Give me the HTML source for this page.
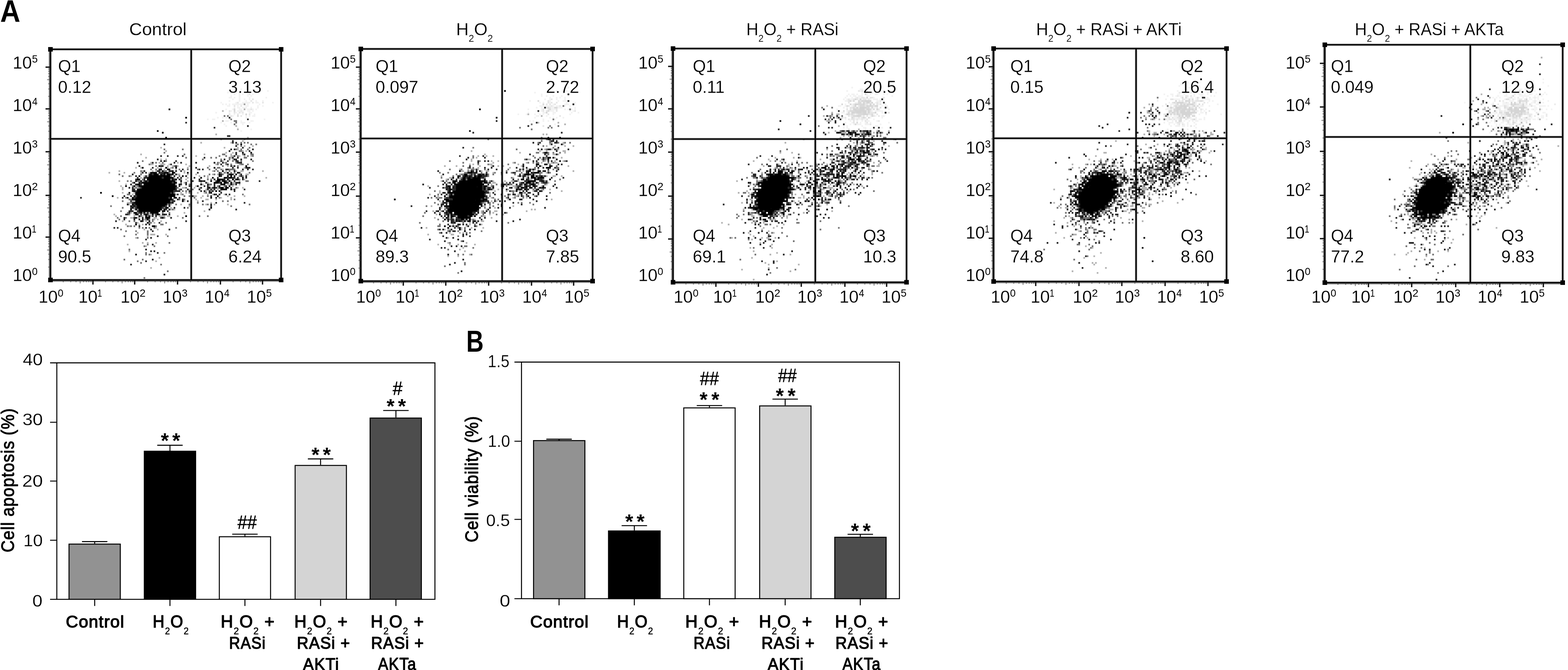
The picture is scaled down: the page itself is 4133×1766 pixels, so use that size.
<!DOCTYPE html>
<html><head><meta charset="utf-8"><title>Figure</title>
<style>
html,body{margin:0;padding:0;background:#fff;}
body{width:4133px;height:1766px;overflow:hidden;}
svg{display:block;font-family:"Liberation Sans",sans-serif;}
text{fill:#000;}
</style></head>
<body>
<svg width="4133" height="1766" viewBox="0 0 4133 1766">
<defs><filter id="bl" x="-5%" y="-5%" width="110%" height="110%"><feGaussianBlur stdDeviation="0.6"/></filter></defs>
<rect width="4133" height="1766" fill="#fff"/>
<g id="plot1">
<g filter="url(#bl)">
<path d="M633.6 235.4h4.4M704.0 239.8h4.4M598.4 244.2h4.4M620.4 244.2h4.4M629.2 244.2h4.4M616.0 248.6h4.4M629.2 248.6h4.4M638.0 248.6h4.4M651.2 248.6h4.4M664.4 248.6h4.4M607.2 253.0h4.4M629.2 253.0h4.4M651.2 253.0h4.4M660.0 253.0h4.4M602.8 257.4h4.4M607.2 257.4h4.4M616.0 257.4h4.4M629.2 257.4h4.4M655.6 257.4h4.4M699.6 257.4h4.4M611.6 261.8h4.4M629.2 261.8h4.4M642.4 261.8h4.4M655.6 261.8h4.4M602.8 266.2h4.4M629.2 266.2h4.4M646.8 266.2h4.4M673.2 266.2h4.4M690.8 266.2h4.4M580.8 270.6h4.4M620.4 270.6h4.4M638.0 270.6h4.4M642.4 270.6h4.4M646.8 270.6h4.4M651.2 270.6h4.4M655.6 270.6h4.4M673.2 270.6h4.4M677.6 270.6h4.4M717.2 270.6h4.4M585.2 275.0h4.4M594.0 275.0h4.4M602.8 275.0h4.4M611.6 275.0h4.4M616.0 275.0h4.4M620.4 275.0h4.4M624.8 275.0h4.4M629.2 275.0h4.4M633.6 275.0h4.4M638.0 275.0h4.4M651.2 275.0h4.4M682.0 275.0h4.4M598.4 279.4h4.4M602.8 279.4h4.4M624.8 279.4h4.4M646.8 279.4h4.4M651.2 279.4h4.4M677.6 279.4h4.4M690.8 279.4h4.4M616.0 283.8h4.4M624.8 283.8h4.4M629.2 283.8h4.4M638.0 283.8h4.4M642.4 283.8h4.4M646.8 283.8h4.4M660.0 283.8h4.4M677.6 283.8h4.4M594.0 288.2h4.4M611.6 288.2h4.4M629.2 288.2h4.4M633.6 288.2h4.4M651.2 288.2h4.4M655.6 288.2h4.4M664.4 288.2h4.4M673.2 288.2h4.4M607.2 292.6h4.4M624.8 292.6h4.4M629.2 292.6h4.4M638.0 292.6h4.4M651.2 292.6h4.4M655.6 292.6h4.4M664.4 292.6h4.4M567.6 297.0h4.4M602.8 297.0h4.4M620.4 297.0h4.4M633.6 297.0h4.4M655.6 297.0h4.4M660.0 297.0h4.4M616.0 301.4h4.4M638.0 301.4h4.4M668.8 301.4h4.4M611.6 305.8h4.4M646.8 305.8h4.4M655.6 305.8h4.4M664.4 305.8h4.4M668.8 305.8h4.4M572.0 310.2h4.4M585.2 310.2h4.4M594.0 310.2h4.4M646.8 310.2h4.4M545.6 314.6h4.4M558.8 314.6h4.4M563.2 314.6h4.4M695.2 314.6h4.4M594.0 319.0h4.4M598.4 319.0h4.4M633.6 319.0h4.4M660.0 319.0h4.4M664.4 319.0h4.4M580.8 323.4h4.4M607.2 323.4h4.4M633.6 323.4h4.4M638.0 323.4h4.4M642.4 323.4h4.4M655.6 323.4h4.4M589.6 327.8h4.4M638.0 327.8h4.4M594.0 332.2h4.4M624.8 336.6h4.4M660.0 341.0h4.4M633.6 345.4h4.4" stroke="#000" stroke-opacity="0.05" stroke-width="4.4" fill="none"/>
<path d="M655.6 248.6h4.4M664.4 261.8h4.4M660.0 266.2h4.4M624.8 270.6h4.4M664.4 270.6h4.4M690.8 270.6h4.4M642.4 275.0h4.4M616.0 279.4h4.4M633.6 279.4h4.4M660.0 288.2h4.4M602.8 292.6h4.4M633.6 292.6h4.4M616.0 297.0h4.4M629.2 297.0h4.4M638.0 297.0h4.4M602.8 301.4h4.4M624.8 301.4h4.4M655.6 301.4h4.4M607.2 305.8h4.4M633.6 305.8h4.4" stroke="#000" stroke-opacity="0.1" stroke-width="4.4" fill="none"/>
<path d="M616.0 288.2h4.4M616.0 292.6h4.4M624.8 305.8h4.4" stroke="#000" stroke-opacity="0.15" stroke-width="4.4" fill="none"/>
<path d="M646.8 301.4h4.4" stroke="#000" stroke-opacity="0.17" stroke-width="4.4" fill="none"/>
<path d="M642.4 275.0h4.4M642.4 288.2h4.4M585.2 292.6h4.4M585.2 319.0h4.4M620.4 332.2h4.4M624.8 341.0h4.4M567.6 354.2h4.4M651.2 363.0h4.4M580.8 367.4h4.4M642.4 367.4h4.4M638.0 371.8h4.4M528.0 376.2h4.4M607.2 376.2h4.4M620.4 380.6h4.4M642.4 385.0h4.4M664.4 385.0h4.4M422.4 389.4h4.4M589.6 389.4h4.4M624.8 389.4h4.4M624.8 393.8h4.4M435.6 398.2h4.4M638.0 398.2h4.4M646.8 398.2h4.4M594.0 402.6h4.4M611.6 402.6h4.4M369.6 407.0h4.4M536.8 407.0h4.4M607.2 407.0h4.4M514.8 411.4h4.4M607.2 411.4h4.4M611.6 411.4h4.4M629.2 411.4h4.4M642.4 411.4h4.4M660.0 411.4h4.4M382.8 415.8h4.4M607.2 415.8h4.4M422.4 420.2h4.4M435.6 420.2h4.4M611.6 420.2h4.4M585.2 424.6h4.4M396.0 429.0h4.4M418.0 429.0h4.4M466.4 429.0h4.4M576.4 429.0h4.4M589.6 429.0h4.4M396.0 433.4h4.4M400.4 433.4h4.4M422.4 433.4h4.4M426.8 433.4h4.4M431.2 433.4h4.4M444.4 433.4h4.4M488.4 433.4h4.4M567.6 433.4h4.4M629.2 433.4h4.4M440.0 437.8h4.4M453.2 437.8h4.4M466.4 437.8h4.4M497.2 437.8h4.4M550.0 437.8h4.4M598.4 437.8h4.4M611.6 437.8h4.4M356.4 442.2h4.4M369.6 442.2h4.4M413.6 442.2h4.4M422.4 442.2h4.4M440.0 442.2h4.4M448.8 442.2h4.4M492.8 442.2h4.4M642.4 442.2h4.4M431.2 446.6h4.4M462.0 446.6h4.4M585.2 446.6h4.4M312.4 451.0h4.4M374.0 451.0h4.4M400.4 451.0h4.4M409.2 451.0h4.4M422.4 451.0h4.4M484.0 451.0h4.4M558.8 451.0h4.4M594.0 451.0h4.4M620.4 451.0h4.4M633.6 451.0h4.4M638.0 451.0h4.4M690.8 451.0h4.4M286.0 455.4h4.4M325.6 455.4h4.4M369.6 455.4h4.4M391.6 455.4h4.4M484.0 455.4h4.4M594.0 455.4h4.4M418.0 459.8h4.4M466.4 459.8h4.4M470.8 459.8h4.4M492.8 459.8h4.4M514.8 459.8h4.4M558.8 459.8h4.4M572.0 459.8h4.4M629.2 459.8h4.4M646.8 459.8h4.4M651.2 459.8h4.4M343.2 464.2h4.4M378.4 464.2h4.4M387.2 464.2h4.4M523.6 464.2h4.4M545.6 464.2h4.4M369.6 468.6h4.4M457.6 468.6h4.4M492.8 468.6h4.4M545.6 468.6h4.4M699.6 468.6h4.4M488.4 473.0h4.4M602.8 473.0h4.4M616.0 473.0h4.4M642.4 473.0h4.4M312.4 477.4h4.4M374.0 477.4h4.4M462.0 477.4h4.4M492.8 477.4h4.4M580.8 477.4h4.4M598.4 477.4h4.4M607.2 477.4h4.4M629.2 477.4h4.4M484.0 481.8h4.4M528.0 481.8h4.4M545.6 481.8h4.4M611.6 481.8h4.4M616.0 481.8h4.4M330.0 486.2h4.4M462.0 486.2h4.4M532.4 486.2h4.4M598.4 486.2h4.4M602.8 486.2h4.4M616.0 486.2h4.4M629.2 486.2h4.4M316.8 490.6h4.4M356.4 490.6h4.4M501.6 490.6h4.4M514.8 490.6h4.4M550.0 490.6h4.4M611.6 490.6h4.4M321.2 495.0h4.4M352.0 495.0h4.4M360.8 495.0h4.4M479.6 495.0h4.4M484.0 495.0h4.4M510.4 495.0h4.4M523.6 495.0h4.4M554.4 495.0h4.4M572.0 495.0h4.4M589.6 495.0h4.4M624.8 495.0h4.4M638.0 495.0h4.4M321.2 499.4h4.4M497.2 499.4h4.4M541.2 499.4h4.4M550.0 499.4h4.4M558.8 499.4h4.4M572.0 499.4h4.4M611.6 499.4h4.4M541.2 503.8h4.4M580.8 503.8h4.4M321.2 508.2h4.4M352.0 508.2h4.4M475.2 508.2h4.4M488.4 508.2h4.4M519.2 508.2h4.4M536.8 508.2h4.4M347.6 512.6h4.4M462.0 512.6h4.4M475.2 512.6h4.4M545.6 512.6h4.4M558.8 512.6h4.4M589.6 512.6h4.4M510.4 517.0h4.4M514.8 517.0h4.4M532.4 517.0h4.4M598.4 517.0h4.4M616.0 517.0h4.4M642.4 517.0h4.4M308.0 521.4h4.4M413.6 521.4h4.4M501.6 521.4h4.4M528.0 521.4h4.4M580.8 521.4h4.4M607.2 521.4h4.4M400.4 525.8h4.4M514.8 525.8h4.4M541.2 525.8h4.4M545.6 525.8h4.4M567.6 525.8h4.4M607.2 525.8h4.4M347.6 530.2h4.4M352.0 530.2h4.4M484.0 530.2h4.4M519.2 530.2h4.4M334.4 534.6h4.4M338.8 534.6h4.4M501.6 534.6h4.4M554.4 534.6h4.4M338.8 539.0h4.4M448.8 539.0h4.4M475.2 539.0h4.4M541.2 539.0h4.4M563.2 539.0h4.4M598.4 539.0h4.4M497.2 543.4h4.4M448.8 547.8h4.4M352.0 552.2h4.4M426.8 552.2h4.4M448.8 552.2h4.4M457.6 552.2h4.4M536.8 556.6h4.4M343.2 561.0h4.4M382.8 561.0h4.4M391.6 561.0h4.4M484.0 561.0h4.4M299.2 565.4h4.4M352.0 565.4h4.4M391.6 565.4h4.4M396.0 565.4h4.4M404.8 565.4h4.4M303.6 569.8h4.4M352.0 569.8h4.4M374.0 569.8h4.4M396.0 569.8h4.4M418.0 569.8h4.4M422.4 569.8h4.4M426.8 569.8h4.4M431.2 569.8h4.4M440.0 569.8h4.4M444.4 569.8h4.4M466.4 569.8h4.4M343.2 574.2h4.4M347.6 574.2h4.4M360.8 574.2h4.4M365.2 574.2h4.4M404.8 574.2h4.4M409.2 574.2h4.4M378.4 578.6h4.4M404.8 578.6h4.4M413.6 578.6h4.4M321.2 583.0h4.4M382.8 583.0h4.4M422.4 583.0h4.4M360.8 587.4h4.4M404.8 587.4h4.4M330.0 591.8h4.4M365.2 591.8h4.4M374.0 591.8h4.4M338.8 596.2h4.4M409.2 600.6h4.4M378.4 605.0h4.4M413.6 605.0h4.4M360.8 613.8h4.4M396.0 618.2h4.4M400.4 618.2h4.4M404.8 618.2h4.4M435.6 618.2h4.4M387.2 622.6h4.4M356.4 627.0h4.4M374.0 640.2h4.4M387.2 640.2h4.4M409.2 640.2h4.4M334.4 644.6h4.4M382.8 649.0h4.4M338.8 662.2h4.4M396.0 671.0h4.4M418.0 679.8h4.4M409.2 688.6h4.4M396.0 706.2h4.4" stroke="#000" stroke-opacity="0.3" stroke-width="4.4" fill="none"/>
<path d="M589.6 305.8h4.4M598.4 305.8h4.4M607.2 314.6h4.4M616.0 319.0h4.4M620.4 319.0h4.4M620.4 323.4h4.4M616.0 327.8h4.4M633.6 376.2h4.4M642.4 376.2h4.4M651.2 376.2h4.4M624.8 380.6h4.4M660.0 380.6h4.4M673.2 380.6h4.4M633.6 385.0h4.4M655.6 389.4h4.4M431.2 393.8h4.4M479.6 393.8h4.4M620.4 393.8h4.4M633.6 393.8h4.4M651.2 393.8h4.4M629.2 398.2h4.4M633.6 398.2h4.4M431.2 402.6h4.4M484.0 407.0h4.4M585.2 407.0h4.4M589.6 407.0h4.4M638.0 407.0h4.4M660.0 407.0h4.4M664.4 407.0h4.4M576.4 411.4h4.4M594.0 411.4h4.4M624.8 411.4h4.4M651.2 411.4h4.4M664.4 411.4h4.4M488.4 415.8h4.4M554.4 415.8h4.4M567.6 415.8h4.4M602.8 415.8h4.4M642.4 415.8h4.4M646.8 415.8h4.4M532.4 420.2h4.4M580.8 420.2h4.4M602.8 420.2h4.4M374.0 424.6h4.4M435.6 424.6h4.4M611.6 424.6h4.4M633.6 424.6h4.4M664.4 424.6h4.4M409.2 429.0h4.4M426.8 429.0h4.4M572.0 429.0h4.4M594.0 429.0h4.4M620.4 429.0h4.4M391.6 433.4h4.4M572.0 433.4h4.4M594.0 433.4h4.4M607.2 433.4h4.4M633.6 433.4h4.4M638.0 433.4h4.4M651.2 433.4h4.4M409.2 437.8h4.4M457.6 437.8h4.4M585.2 437.8h4.4M624.8 437.8h4.4M453.2 442.2h4.4M545.6 442.2h4.4M572.0 442.2h4.4M576.4 442.2h4.4M396.0 446.6h4.4M409.2 446.6h4.4M470.8 446.6h4.4M492.8 446.6h4.4M519.2 446.6h4.4M550.0 446.6h4.4M567.6 446.6h4.4M580.8 446.6h4.4M602.8 446.6h4.4M607.2 446.6h4.4M611.6 446.6h4.4M616.0 446.6h4.4M369.6 451.0h4.4M431.2 451.0h4.4M435.6 451.0h4.4M563.2 451.0h4.4M572.0 451.0h4.4M602.8 451.0h4.4M352.0 455.4h4.4M444.4 455.4h4.4M580.8 455.4h4.4M589.6 455.4h4.4M607.2 455.4h4.4M616.0 455.4h4.4M655.6 455.4h4.4M312.4 459.8h4.4M369.6 459.8h4.4M435.6 459.8h4.4M550.0 459.8h4.4M563.2 459.8h4.4M585.2 459.8h4.4M598.4 459.8h4.4M321.2 464.2h4.4M338.8 464.2h4.4M448.8 464.2h4.4M470.8 464.2h4.4M536.8 464.2h4.4M629.2 464.2h4.4M638.0 464.2h4.4M374.0 473.0h4.4M448.8 473.0h4.4M475.2 473.0h4.4M501.6 473.0h4.4M545.6 473.0h4.4M554.4 473.0h4.4M629.2 473.0h4.4M334.4 477.4h4.4M343.2 477.4h4.4M360.8 477.4h4.4M365.2 477.4h4.4M646.8 477.4h4.4M651.2 477.4h4.4M347.6 481.8h4.4M413.6 481.8h4.4M475.2 481.8h4.4M497.2 486.2h4.4M501.6 486.2h4.4M550.0 486.2h4.4M554.4 486.2h4.4M611.6 486.2h4.4M347.6 490.6h4.4M360.8 490.6h4.4M572.0 490.6h4.4M589.6 490.6h4.4M356.4 495.0h4.4M365.2 495.0h4.4M466.4 495.0h4.4M488.4 495.0h4.4M620.4 495.0h4.4M470.8 499.4h4.4M506.0 499.4h4.4M479.6 503.8h4.4M488.4 503.8h4.4M501.6 503.8h4.4M554.4 503.8h4.4M457.6 508.2h4.4M497.2 508.2h4.4M541.2 508.2h4.4M334.4 512.6h4.4M338.8 512.6h4.4M479.6 512.6h4.4M638.0 512.6h4.4M484.0 517.0h4.4M497.2 517.0h4.4M545.6 517.0h4.4M330.0 521.4h4.4M426.8 521.4h4.4M510.4 521.4h4.4M576.4 521.4h4.4M338.8 525.8h4.4M343.2 525.8h4.4M470.8 525.8h4.4M484.0 525.8h4.4M616.0 525.8h4.4M321.2 530.2h4.4M448.8 530.2h4.4M585.2 530.2h4.4M598.4 530.2h4.4M343.2 534.6h4.4M519.2 534.6h4.4M440.0 539.0h4.4M462.0 539.0h4.4M497.2 539.0h4.4M532.4 539.0h4.4M545.6 539.0h4.4M655.6 539.0h4.4M290.4 543.4h4.4M607.2 543.4h4.4M321.2 547.8h4.4M352.0 547.8h4.4M431.2 547.8h4.4M492.8 547.8h4.4M360.8 552.2h4.4M453.2 552.2h4.4M316.8 556.6h4.4M334.4 561.0h4.4M360.8 561.0h4.4M374.0 561.0h4.4M426.8 561.0h4.4M444.4 561.0h4.4M338.8 565.4h4.4M316.8 569.8h4.4M369.6 569.8h4.4M387.2 569.8h4.4M523.6 569.8h4.4M545.6 569.8h4.4M308.0 574.2h4.4M330.0 574.2h4.4M431.2 574.2h4.4M479.6 574.2h4.4M312.4 578.6h4.4M382.8 578.6h4.4M391.6 578.6h4.4M400.4 578.6h4.4M338.8 583.0h4.4M352.0 583.0h4.4M400.4 583.0h4.4M391.6 587.4h4.4M396.0 587.4h4.4M435.6 587.4h4.4M422.4 591.8h4.4M426.8 591.8h4.4M334.4 596.2h4.4M343.2 596.2h4.4M352.0 596.2h4.4M409.2 596.2h4.4M365.2 600.6h4.4M374.0 600.6h4.4M391.6 600.6h4.4M404.8 600.6h4.4M462.0 600.6h4.4M316.8 605.0h4.4M330.0 609.4h4.4M356.4 609.4h4.4M387.2 609.4h4.4M387.2 613.8h4.4M356.4 618.2h4.4M387.2 618.2h4.4M325.6 622.6h4.4M440.0 622.6h4.4M360.8 627.0h4.4M387.2 627.0h4.4M444.4 640.2h4.4M387.2 644.6h4.4M378.4 649.0h4.4M404.8 649.0h4.4M338.8 657.8h4.4M382.8 666.6h4.4M431.2 666.6h4.4M382.8 671.0h4.4M391.6 671.0h4.4M325.6 684.2h4.4M374.0 684.2h4.4M360.8 688.6h4.4M369.6 693.0h4.4M422.4 697.4h4.4M440.0 715.0h4.4M378.4 732.6h4.4" stroke="#000" stroke-opacity="0.55" stroke-width="4.4" fill="none"/>
<path d="M602.8 310.2h4.4M651.2 314.6h4.4M488.4 323.4h4.4M651.2 332.2h4.4M563.2 336.6h4.4M598.4 358.6h4.4M602.8 358.6h4.4M611.6 371.8h4.4M611.6 376.2h4.4M620.4 376.2h4.4M431.2 380.6h4.4M620.4 385.0h4.4M638.0 389.4h4.4M607.2 393.8h4.4M616.0 393.8h4.4M664.4 393.8h4.4M602.8 398.2h4.4M655.6 398.2h4.4M620.4 402.6h4.4M620.4 407.0h4.4M642.4 407.0h4.4M422.4 411.4h4.4M440.0 411.4h4.4M466.4 411.4h4.4M479.6 411.4h4.4M616.0 411.4h4.4M536.8 415.8h4.4M611.6 415.8h4.4M624.8 415.8h4.4M413.6 420.2h4.4M589.6 420.2h4.4M620.4 420.2h4.4M633.6 420.2h4.4M660.0 420.2h4.4M422.4 424.6h4.4M462.0 424.6h4.4M580.8 424.6h4.4M598.4 424.6h4.4M620.4 424.6h4.4M624.8 424.6h4.4M360.8 429.0h4.4M400.4 429.0h4.4M457.6 429.0h4.4M475.2 429.0h4.4M514.8 429.0h4.4M585.2 429.0h4.4M624.8 429.0h4.4M629.2 429.0h4.4M633.6 429.0h4.4M448.8 433.4h4.4M580.8 433.4h4.4M598.4 433.4h4.4M365.2 437.8h4.4M422.4 437.8h4.4M426.8 437.8h4.4M462.0 437.8h4.4M607.2 437.8h4.4M616.0 437.8h4.4M400.4 442.2h4.4M514.8 442.2h4.4M611.6 442.2h4.4M624.8 442.2h4.4M646.8 442.2h4.4M651.2 442.2h4.4M655.6 442.2h4.4M479.6 446.6h4.4M523.6 446.6h4.4M532.4 446.6h4.4M594.0 446.6h4.4M598.4 446.6h4.4M638.0 446.6h4.4M651.2 446.6h4.4M664.4 446.6h4.4M378.4 451.0h4.4M413.6 451.0h4.4M418.0 451.0h4.4M444.4 451.0h4.4M448.8 451.0h4.4M462.0 451.0h4.4M475.2 451.0h4.4M374.0 455.4h4.4M382.8 455.4h4.4M422.4 455.4h4.4M426.8 455.4h4.4M519.2 455.4h4.4M576.4 455.4h4.4M629.2 455.4h4.4M347.6 459.8h4.4M391.6 459.8h4.4M400.4 459.8h4.4M426.8 459.8h4.4M448.8 459.8h4.4M462.0 459.8h4.4M580.8 459.8h4.4M611.6 459.8h4.4M633.6 459.8h4.4M356.4 464.2h4.4M382.8 464.2h4.4M457.6 464.2h4.4M488.4 464.2h4.4M580.8 464.2h4.4M633.6 464.2h4.4M646.8 464.2h4.4M360.8 468.6h4.4M378.4 468.6h4.4M382.8 468.6h4.4M426.8 468.6h4.4M466.4 468.6h4.4M475.2 468.6h4.4M510.4 468.6h4.4M572.0 468.6h4.4M598.4 468.6h4.4M611.6 468.6h4.4M616.0 468.6h4.4M624.8 468.6h4.4M646.8 468.6h4.4M356.4 473.0h4.4M378.4 473.0h4.4M457.6 473.0h4.4M470.8 473.0h4.4M589.6 473.0h4.4M638.0 473.0h4.4M378.4 477.4h4.4M387.2 477.4h4.4M506.0 477.4h4.4M523.6 477.4h4.4M532.4 477.4h4.4M567.6 477.4h4.4M594.0 477.4h4.4M616.0 477.4h4.4M682.0 477.4h4.4M369.6 481.8h4.4M404.8 481.8h4.4M453.2 481.8h4.4M488.4 481.8h4.4M541.2 481.8h4.4M576.4 481.8h4.4M598.4 481.8h4.4M620.4 481.8h4.4M624.8 481.8h4.4M343.2 486.2h4.4M369.6 486.2h4.4M400.4 486.2h4.4M475.2 486.2h4.4M488.4 486.2h4.4M545.6 486.2h4.4M563.2 486.2h4.4M620.4 486.2h4.4M470.8 490.6h4.4M497.2 490.6h4.4M536.8 490.6h4.4M545.6 490.6h4.4M563.2 490.6h4.4M594.0 490.6h4.4M338.8 495.0h4.4M347.6 495.0h4.4M369.6 495.0h4.4M462.0 495.0h4.4M528.0 495.0h4.4M545.6 495.0h4.4M558.8 495.0h4.4M567.6 495.0h4.4M576.4 495.0h4.4M607.2 495.0h4.4M347.6 499.4h4.4M352.0 499.4h4.4M462.0 499.4h4.4M475.2 499.4h4.4M492.8 499.4h4.4M545.6 499.4h4.4M554.4 499.4h4.4M563.2 499.4h4.4M642.4 499.4h4.4M347.6 503.8h4.4M356.4 503.8h4.4M457.6 503.8h4.4M462.0 503.8h4.4M466.4 503.8h4.4M470.8 503.8h4.4M497.2 503.8h4.4M528.0 503.8h4.4M536.8 503.8h4.4M550.0 503.8h4.4M558.8 503.8h4.4M616.0 503.8h4.4M448.8 508.2h4.4M550.0 508.2h4.4M580.8 508.2h4.4M466.4 512.6h4.4M567.6 512.6h4.4M594.0 512.6h4.4M602.8 512.6h4.4M325.6 517.0h4.4M343.2 517.0h4.4M356.4 517.0h4.4M506.0 517.0h4.4M554.4 517.0h4.4M211.2 521.4h4.4M321.2 521.4h4.4M352.0 521.4h4.4M444.4 521.4h4.4M470.8 521.4h4.4M567.6 521.4h4.4M453.2 525.8h4.4M466.4 525.8h4.4M479.6 525.8h4.4M343.2 530.2h4.4M453.2 530.2h4.4M457.6 530.2h4.4M492.8 530.2h4.4M532.4 530.2h4.4M347.6 534.6h4.4M448.8 534.6h4.4M567.6 534.6h4.4M642.4 534.6h4.4M352.0 539.0h4.4M444.4 539.0h4.4M554.4 539.0h4.4M347.6 543.4h4.4M356.4 543.4h4.4M435.6 543.4h4.4M554.4 543.4h4.4M343.2 547.8h4.4M356.4 547.8h4.4M426.8 547.8h4.4M457.6 547.8h4.4M484.0 547.8h4.4M435.6 552.2h4.4M620.4 552.2h4.4M338.8 556.6h4.4M343.2 556.6h4.4M347.6 556.6h4.4M360.8 556.6h4.4M440.0 556.6h4.4M338.8 561.0h4.4M365.2 561.0h4.4M387.2 561.0h4.4M330.0 565.4h4.4M334.4 565.4h4.4M369.6 565.4h4.4M378.4 565.4h4.4M387.2 565.4h4.4M409.2 565.4h4.4M418.0 565.4h4.4M426.8 565.4h4.4M435.6 565.4h4.4M444.4 565.4h4.4M400.4 569.8h4.4M409.2 569.8h4.4M325.6 574.2h4.4M352.0 574.2h4.4M374.0 574.2h4.4M422.4 574.2h4.4M448.8 574.2h4.4M325.6 578.6h4.4M352.0 578.6h4.4M365.2 578.6h4.4M374.0 578.6h4.4M303.6 583.0h4.4M374.0 583.0h4.4M488.4 583.0h4.4M356.4 587.4h4.4M418.0 587.4h4.4M382.8 591.8h4.4M391.6 591.8h4.4M365.2 596.2h4.4M299.2 600.6h4.4M308.0 600.6h4.4M382.8 600.6h4.4M396.0 605.0h4.4M444.4 605.0h4.4M400.4 609.4h4.4M413.6 622.6h4.4M396.0 627.0h4.4M382.8 631.4h4.4M400.4 644.6h4.4M382.8 657.8h4.4M396.0 662.2h4.4M404.8 662.2h4.4M413.6 666.6h4.4M356.4 671.0h4.4M400.4 684.2h4.4M382.8 688.6h4.4M343.2 697.4h4.4M431.2 723.8h4.4" stroke="#000" stroke-opacity="0.85" stroke-width="4.4" fill="none"/>
<path d="M444.4 288.2h4.4M488.4 310.2h4.4M413.6 345.4h4.4M426.8 349.8h4.4M435.6 363.0h4.4M633.6 380.6h4.4M638.0 402.6h4.4M660.0 402.6h4.4M616.0 420.2h4.4M431.2 424.6h4.4M563.2 429.0h4.4M418.0 437.8h4.4M646.8 437.8h4.4M374.0 442.2h4.4M435.6 442.2h4.4M462.0 442.2h4.4M563.2 442.2h4.4M418.0 446.6h4.4M422.4 446.6h4.4M440.0 446.6h4.4M444.4 446.6h4.4M426.8 451.0h4.4M453.2 451.0h4.4M585.2 451.0h4.4M616.0 451.0h4.4M396.0 455.4h4.4M400.4 455.4h4.4M404.8 455.4h4.4M409.2 455.4h4.4M418.0 455.4h4.4M431.2 455.4h4.4M435.6 455.4h4.4M440.0 455.4h4.4M453.2 455.4h4.4M457.6 455.4h4.4M492.8 455.4h4.4M598.4 455.4h4.4M624.8 455.4h4.4M396.0 459.8h4.4M404.8 459.8h4.4M409.2 459.8h4.4M413.6 459.8h4.4M422.4 459.8h4.4M431.2 459.8h4.4M440.0 459.8h4.4M444.4 459.8h4.4M453.2 459.8h4.4M576.4 459.8h4.4M602.8 459.8h4.4M607.2 459.8h4.4M620.4 459.8h4.4M365.2 464.2h4.4M391.6 464.2h4.4M396.0 464.2h4.4M400.4 464.2h4.4M404.8 464.2h4.4M409.2 464.2h4.4M413.6 464.2h4.4M418.0 464.2h4.4M422.4 464.2h4.4M426.8 464.2h4.4M431.2 464.2h4.4M435.6 464.2h4.4M440.0 464.2h4.4M444.4 464.2h4.4M479.6 464.2h4.4M576.4 464.2h4.4M598.4 464.2h4.4M607.2 464.2h4.4M616.0 464.2h4.4M387.2 468.6h4.4M391.6 468.6h4.4M396.0 468.6h4.4M400.4 468.6h4.4M404.8 468.6h4.4M409.2 468.6h4.4M413.6 468.6h4.4M418.0 468.6h4.4M422.4 468.6h4.4M431.2 468.6h4.4M435.6 468.6h4.4M440.0 468.6h4.4M444.4 468.6h4.4M448.8 468.6h4.4M453.2 468.6h4.4M528.0 468.6h4.4M558.8 468.6h4.4M589.6 468.6h4.4M594.0 468.6h4.4M602.8 468.6h4.4M607.2 468.6h4.4M638.0 468.6h4.4M360.8 473.0h4.4M365.2 473.0h4.4M387.2 473.0h4.4M391.6 473.0h4.4M396.0 473.0h4.4M400.4 473.0h4.4M404.8 473.0h4.4M409.2 473.0h4.4M413.6 473.0h4.4M418.0 473.0h4.4M422.4 473.0h4.4M426.8 473.0h4.4M431.2 473.0h4.4M435.6 473.0h4.4M440.0 473.0h4.4M444.4 473.0h4.4M453.2 473.0h4.4M462.0 473.0h4.4M523.6 473.0h4.4M563.2 473.0h4.4M572.0 473.0h4.4M576.4 473.0h4.4M580.8 473.0h4.4M585.2 473.0h4.4M598.4 473.0h4.4M611.6 473.0h4.4M620.4 473.0h4.4M624.8 473.0h4.4M356.4 477.4h4.4M369.6 477.4h4.4M382.8 477.4h4.4M391.6 477.4h4.4M396.0 477.4h4.4M400.4 477.4h4.4M404.8 477.4h4.4M409.2 477.4h4.4M413.6 477.4h4.4M418.0 477.4h4.4M422.4 477.4h4.4M426.8 477.4h4.4M431.2 477.4h4.4M435.6 477.4h4.4M440.0 477.4h4.4M444.4 477.4h4.4M448.8 477.4h4.4M453.2 477.4h4.4M457.6 477.4h4.4M475.2 477.4h4.4M528.0 477.4h4.4M536.8 477.4h4.4M554.4 477.4h4.4M572.0 477.4h4.4M576.4 477.4h4.4M585.2 477.4h4.4M589.6 477.4h4.4M602.8 477.4h4.4M352.0 481.8h4.4M365.2 481.8h4.4M374.0 481.8h4.4M378.4 481.8h4.4M382.8 481.8h4.4M387.2 481.8h4.4M391.6 481.8h4.4M396.0 481.8h4.4M400.4 481.8h4.4M409.2 481.8h4.4M422.4 481.8h4.4M426.8 481.8h4.4M431.2 481.8h4.4M435.6 481.8h4.4M440.0 481.8h4.4M444.4 481.8h4.4M448.8 481.8h4.4M457.6 481.8h4.4M462.0 481.8h4.4M563.2 481.8h4.4M567.6 481.8h4.4M572.0 481.8h4.4M580.8 481.8h4.4M589.6 481.8h4.4M594.0 481.8h4.4M607.2 481.8h4.4M629.2 481.8h4.4M356.4 486.2h4.4M360.8 486.2h4.4M365.2 486.2h4.4M378.4 486.2h4.4M382.8 486.2h4.4M387.2 486.2h4.4M391.6 486.2h4.4M396.0 486.2h4.4M431.2 486.2h4.4M435.6 486.2h4.4M440.0 486.2h4.4M444.4 486.2h4.4M448.8 486.2h4.4M453.2 486.2h4.4M457.6 486.2h4.4M470.8 486.2h4.4M528.0 486.2h4.4M580.8 486.2h4.4M585.2 486.2h4.4M589.6 486.2h4.4M607.2 486.2h4.4M330.0 490.6h4.4M352.0 490.6h4.4M365.2 490.6h4.4M369.6 490.6h4.4M374.0 490.6h4.4M378.4 490.6h4.4M382.8 490.6h4.4M387.2 490.6h4.4M391.6 490.6h4.4M435.6 490.6h4.4M440.0 490.6h4.4M444.4 490.6h4.4M448.8 490.6h4.4M453.2 490.6h4.4M457.6 490.6h4.4M462.0 490.6h4.4M519.2 490.6h4.4M576.4 490.6h4.4M602.8 490.6h4.4M374.0 495.0h4.4M378.4 495.0h4.4M382.8 495.0h4.4M387.2 495.0h4.4M435.6 495.0h4.4M440.0 495.0h4.4M444.4 495.0h4.4M448.8 495.0h4.4M453.2 495.0h4.4M457.6 495.0h4.4M550.0 495.0h4.4M563.2 495.0h4.4M580.8 495.0h4.4M585.2 495.0h4.4M594.0 495.0h4.4M598.4 495.0h4.4M360.8 499.4h4.4M365.2 499.4h4.4M369.6 499.4h4.4M374.0 499.4h4.4M378.4 499.4h4.4M382.8 499.4h4.4M435.6 499.4h4.4M440.0 499.4h4.4M444.4 499.4h4.4M448.8 499.4h4.4M453.2 499.4h4.4M457.6 499.4h4.4M523.6 499.4h4.4M580.8 499.4h4.4M585.2 499.4h4.4M589.6 499.4h4.4M594.0 499.4h4.4M607.2 499.4h4.4M616.0 499.4h4.4M352.0 503.8h4.4M360.8 503.8h4.4M365.2 503.8h4.4M369.6 503.8h4.4M374.0 503.8h4.4M378.4 503.8h4.4M435.6 503.8h4.4M440.0 503.8h4.4M444.4 503.8h4.4M448.8 503.8h4.4M453.2 503.8h4.4M567.6 503.8h4.4M576.4 503.8h4.4M264.0 508.2h4.4M338.8 508.2h4.4M356.4 508.2h4.4M360.8 508.2h4.4M365.2 508.2h4.4M369.6 508.2h4.4M374.0 508.2h4.4M378.4 508.2h4.4M435.6 508.2h4.4M440.0 508.2h4.4M444.4 508.2h4.4M453.2 508.2h4.4M554.4 508.2h4.4M356.4 512.6h4.4M360.8 512.6h4.4M365.2 512.6h4.4M369.6 512.6h4.4M374.0 512.6h4.4M378.4 512.6h4.4M435.6 512.6h4.4M440.0 512.6h4.4M444.4 512.6h4.4M448.8 512.6h4.4M453.2 512.6h4.4M457.6 512.6h4.4M563.2 512.6h4.4M576.4 512.6h4.4M294.8 517.0h4.4M352.0 517.0h4.4M360.8 517.0h4.4M365.2 517.0h4.4M369.6 517.0h4.4M374.0 517.0h4.4M431.2 517.0h4.4M435.6 517.0h4.4M440.0 517.0h4.4M444.4 517.0h4.4M448.8 517.0h4.4M453.2 517.0h4.4M457.6 517.0h4.4M572.0 517.0h4.4M334.4 521.4h4.4M347.6 521.4h4.4M356.4 521.4h4.4M360.8 521.4h4.4M365.2 521.4h4.4M369.6 521.4h4.4M374.0 521.4h4.4M431.2 521.4h4.4M435.6 521.4h4.4M440.0 521.4h4.4M448.8 521.4h4.4M457.6 521.4h4.4M462.0 521.4h4.4M554.4 521.4h4.4M347.6 525.8h4.4M352.0 525.8h4.4M356.4 525.8h4.4M360.8 525.8h4.4M365.2 525.8h4.4M369.6 525.8h4.4M374.0 525.8h4.4M426.8 525.8h4.4M431.2 525.8h4.4M435.6 525.8h4.4M440.0 525.8h4.4M444.4 525.8h4.4M448.8 525.8h4.4M356.4 530.2h4.4M360.8 530.2h4.4M365.2 530.2h4.4M369.6 530.2h4.4M374.0 530.2h4.4M378.4 530.2h4.4M422.4 530.2h4.4M426.8 530.2h4.4M431.2 530.2h4.4M435.6 530.2h4.4M440.0 530.2h4.4M444.4 530.2h4.4M479.6 530.2h4.4M352.0 534.6h4.4M356.4 534.6h4.4M360.8 534.6h4.4M365.2 534.6h4.4M369.6 534.6h4.4M374.0 534.6h4.4M378.4 534.6h4.4M413.6 534.6h4.4M418.0 534.6h4.4M422.4 534.6h4.4M426.8 534.6h4.4M431.2 534.6h4.4M435.6 534.6h4.4M440.0 534.6h4.4M444.4 534.6h4.4M453.2 534.6h4.4M334.4 539.0h4.4M347.6 539.0h4.4M356.4 539.0h4.4M360.8 539.0h4.4M365.2 539.0h4.4M369.6 539.0h4.4M374.0 539.0h4.4M378.4 539.0h4.4M382.8 539.0h4.4M387.2 539.0h4.4M404.8 539.0h4.4M409.2 539.0h4.4M413.6 539.0h4.4M418.0 539.0h4.4M422.4 539.0h4.4M426.8 539.0h4.4M431.2 539.0h4.4M435.6 539.0h4.4M343.2 543.4h4.4M352.0 543.4h4.4M360.8 543.4h4.4M365.2 543.4h4.4M369.6 543.4h4.4M374.0 543.4h4.4M378.4 543.4h4.4M382.8 543.4h4.4M387.2 543.4h4.4M391.6 543.4h4.4M396.0 543.4h4.4M400.4 543.4h4.4M404.8 543.4h4.4M409.2 543.4h4.4M413.6 543.4h4.4M418.0 543.4h4.4M422.4 543.4h4.4M426.8 543.4h4.4M431.2 543.4h4.4M444.4 543.4h4.4M347.6 547.8h4.4M360.8 547.8h4.4M365.2 547.8h4.4M369.6 547.8h4.4M374.0 547.8h4.4M378.4 547.8h4.4M382.8 547.8h4.4M387.2 547.8h4.4M391.6 547.8h4.4M396.0 547.8h4.4M400.4 547.8h4.4M404.8 547.8h4.4M409.2 547.8h4.4M413.6 547.8h4.4M418.0 547.8h4.4M422.4 547.8h4.4M435.6 547.8h4.4M440.0 547.8h4.4M554.4 547.8h4.4M343.2 552.2h4.4M356.4 552.2h4.4M365.2 552.2h4.4M369.6 552.2h4.4M374.0 552.2h4.4M378.4 552.2h4.4M382.8 552.2h4.4M387.2 552.2h4.4M391.6 552.2h4.4M396.0 552.2h4.4M400.4 552.2h4.4M404.8 552.2h4.4M409.2 552.2h4.4M413.6 552.2h4.4M418.0 552.2h4.4M422.4 552.2h4.4M431.2 552.2h4.4M444.4 552.2h4.4M550.0 552.2h4.4M365.2 556.6h4.4M369.6 556.6h4.4M374.0 556.6h4.4M378.4 556.6h4.4M382.8 556.6h4.4M387.2 556.6h4.4M391.6 556.6h4.4M396.0 556.6h4.4M400.4 556.6h4.4M404.8 556.6h4.4M409.2 556.6h4.4M413.6 556.6h4.4M418.0 556.6h4.4M426.8 556.6h4.4M431.2 556.6h4.4M352.0 561.0h4.4M356.4 561.0h4.4M369.6 561.0h4.4M378.4 561.0h4.4M396.0 561.0h4.4M400.4 561.0h4.4M404.8 561.0h4.4M409.2 561.0h4.4M413.6 561.0h4.4M356.4 565.4h4.4M360.8 565.4h4.4M382.8 565.4h4.4M400.4 565.4h4.4M413.6 565.4h4.4M431.2 565.4h4.4M365.2 569.8h4.4M382.8 569.8h4.4M391.6 569.8h4.4M488.4 569.8h4.4M356.4 574.2h4.4M382.8 574.2h4.4M387.2 574.2h4.4M391.6 574.2h4.4M426.8 574.2h4.4M387.2 578.6h4.4M369.6 583.0h4.4M391.6 583.0h4.4M387.2 587.4h4.4M356.4 591.8h4.4M400.4 596.2h4.4M404.8 596.2h4.4" stroke="#000" stroke-opacity="1" stroke-width="4.4" fill="none"/>
<path d="M437.3 479.6L439.8 486.1L444.5 491.1L443.5 499.4L439.4 507.7L440.4 515.7L434.1 523.0L429.9 531.4L421.0 534.6L415.0 543.3L406.9 543.9L398.2 550.1L391.4 547.5L384.8 545.4L380.9 540.1L375.1 536.7L372.5 530.3L375.9 521.5L372.4 514.7L375.3 506.3L380.7 498.4L389.1 493.4L395.4 488.0L401.6 481.6L409.2 475.0L417.3 473.7L425.5 472.8L429.3 479.4Z" fill="#000"/>
</g>
<path d="M133 130H741V738H133ZM504 130V738M133 366H741" stroke="#000" stroke-opacity="0.3" stroke-width="6.5" fill="none"/>
<path d="M133 130H741V738H133ZM504 130V738M133 366H741" stroke="#000" stroke-width="3.6" fill="none"/>
<path d="M129.8 136V732M139 741.2H735" stroke="#000" stroke-opacity="0.38" stroke-width="3" fill="none"/>
<rect x="127" y="124" width="12" height="12" fill="#000"/>
<rect x="735" y="124" width="12" height="12" fill="#000"/>
<rect x="127" y="732" width="12" height="12" fill="#000"/>
<rect x="735" y="732" width="12" height="12" fill="#000"/>
<path d="M120 625H133M120 515H133M120 400H133M120 287H133M120 177H133M245 738V750M355 738V750M468 738V750M581 738V750M692 738V750" stroke="#111" stroke-width="3.5" fill="none"/>
<path d="M127 704.0H133M166.7 738v6M127 684.1H133M186.4 738v6M127 670.0H133M200.4 738v6M124 659.0H133M211.3 738v9M127 650.1H133M220.2 738v6M127 642.5H133M227.7 738v6M127 636.0H133M234.1 738v6M127 630.2H133M239.9 738v6M127 591.9H133M278.1 738v6M127 572.5H133M297.5 738v6M127 558.8H133M311.2 738v6M124 548.1H133M321.9 738v9M127 539.4H133M330.6 738v6M127 532.0H133M338.0 738v6M127 525.7H133M344.3 738v6M127 520.0H133M350.0 738v6M127 480.4H133M389.0 738v6M127 460.1H133M408.9 738v6M127 445.8H133M423.0 738v6M124 434.6H133M434.0 738v9M127 425.5H133M442.9 738v6M127 417.8H133M450.5 738v6M127 411.1H133M457.0 738v6M127 405.3H133M462.8 738v6M127 366.0H133M502.0 738v6M127 346.1H133M521.9 738v6M127 332.0H133M536.0 738v6M124 321.0H133M547.0 738v9M127 312.1H133M555.9 738v6M127 304.5H133M563.5 738v6M127 298.0H133M570.0 738v6M127 292.2H133M575.8 738v6M127 253.9H133M614.4 738v6M127 234.5H133M634.0 738v6M127 220.8H133M647.8 738v6M124 210.1H133M658.6 738v9M127 201.4H133M667.4 738v6M127 194.0H133M674.8 738v6M127 187.7H133M681.2 738v6M127 182.0H133M686.9 738v6" stroke="#333" stroke-opacity="0.55" stroke-width="2.5" fill="none"/>
<text transform="translate(33.43,741.15) scale(0.9932,1)" font-size="45.86" stroke="#fff" stroke-width="0.3">10</text>
<text transform="translate(84.36,724.80) scale(0.9980,1)" font-size="26.86">0</text>
<text transform="translate(101.43,798.15) scale(0.9932,1)" font-size="45.86" stroke="#fff" stroke-width="0.3">10</text>
<text transform="translate(152.36,781.80) scale(0.9980,1)" font-size="26.86">0</text>
<text transform="translate(33.43,629.15) scale(0.9932,1)" font-size="45.86" stroke="#fff" stroke-width="0.3">10</text>
<text transform="translate(83.66,612.80) scale(0.8015,1)" font-size="27.25">1</text>
<text transform="translate(206.43,798.15) scale(0.9932,1)" font-size="45.86" stroke="#fff" stroke-width="0.3">10</text>
<text transform="translate(256.66,781.80) scale(0.8015,1)" font-size="27.25">1</text>
<text transform="translate(33.43,517.15) scale(0.9932,1)" font-size="45.86" stroke="#fff" stroke-width="0.3">10</text>
<text transform="translate(83.89,500.80) scale(1.0523,1)" font-size="26.86">2</text>
<text transform="translate(317.43,798.15) scale(0.9932,1)" font-size="45.86" stroke="#fff" stroke-width="0.3">10</text>
<text transform="translate(367.89,781.80) scale(1.0523,1)" font-size="26.86">2</text>
<text transform="translate(33.43,405.15) scale(0.9932,1)" font-size="45.86" stroke="#fff" stroke-width="0.3">10</text>
<text transform="translate(84.35,388.80) scale(1.0084,1)" font-size="26.86">3</text>
<text transform="translate(428.43,798.15) scale(0.9932,1)" font-size="45.86" stroke="#fff" stroke-width="0.3">10</text>
<text transform="translate(479.35,781.80) scale(1.0084,1)" font-size="26.86">3</text>
<text transform="translate(33.43,293.15) scale(0.9932,1)" font-size="45.86" stroke="#fff" stroke-width="0.3">10</text>
<text transform="translate(84.79,276.80) scale(0.9355,1)" font-size="27.25">4</text>
<text transform="translate(539.43,798.15) scale(0.9932,1)" font-size="45.86" stroke="#fff" stroke-width="0.3">10</text>
<text transform="translate(590.79,781.80) scale(0.9355,1)" font-size="27.25">4</text>
<text transform="translate(33.43,181.15) scale(0.9932,1)" font-size="45.86" stroke="#fff" stroke-width="0.3">10</text>
<text transform="translate(84.21,164.80) scale(1.0045,1)" font-size="27.25">5</text>
<text transform="translate(650.43,798.15) scale(0.9932,1)" font-size="45.86" stroke="#fff" stroke-width="0.3">10</text>
<text transform="translate(701.21,781.80) scale(1.0045,1)" font-size="27.25">5</text>
<text transform="translate(152.9,190) scale(0.96,1)" font-size="46.38" stroke="#fff" stroke-width="0.3">Q1</text>
<text transform="translate(152.9,245) scale(0.97,1)" font-size="46.38" stroke="#fff" stroke-width="0.3">0.12</text>
<text transform="translate(601.9,190) scale(0.96,1)" font-size="46.38" stroke="#fff" stroke-width="0.3">Q2</text>
<text transform="translate(601.9,245) scale(0.97,1)" font-size="46.38" stroke="#fff" stroke-width="0.3">3.13</text>
<text transform="translate(152.9,637) scale(0.96,1)" font-size="46.38" stroke="#fff" stroke-width="0.3">Q4</text>
<text transform="translate(152.9,692) scale(0.97,1)" font-size="46.38" stroke="#fff" stroke-width="0.3">90.5</text>
<text transform="translate(601.9,637) scale(0.96,1)" font-size="46.38" stroke="#fff" stroke-width="0.3">Q3</text>
<text transform="translate(601.9,692) scale(0.97,1)" font-size="46.38" stroke="#fff" stroke-width="0.3">6.24</text>
<text transform="translate(340.50,93.15) scale(1.0237,1)" font-size="45.93" stroke="#fff" stroke-width="0.3">Control</text>
</g>
<g id="plot2">
<g filter="url(#bl)">
<path d="M1496.0 231.0h4.4M1465.2 239.8h4.4M1491.6 239.8h4.4M1408.0 244.2h4.4M1443.2 244.2h4.4M1482.8 244.2h4.4M1425.6 248.6h4.4M1500.4 248.6h4.4M1425.6 253.0h4.4M1438.8 253.0h4.4M1456.4 253.0h4.4M1478.4 253.0h4.4M1496.0 253.0h4.4M1447.6 257.4h4.4M1465.2 257.4h4.4M1474.0 257.4h4.4M1487.2 257.4h4.4M1434.4 261.8h4.4M1447.6 261.8h4.4M1465.2 261.8h4.4M1487.2 261.8h4.4M1394.8 266.2h4.4M1447.6 266.2h4.4M1469.6 266.2h4.4M1482.8 266.2h4.4M1487.2 266.2h4.4M1500.4 266.2h4.4M1421.2 270.6h4.4M1430.0 270.6h4.4M1447.6 270.6h4.4M1491.6 270.6h4.4M1513.6 270.6h4.4M1456.4 275.0h4.4M1487.2 275.0h4.4M1491.6 275.0h4.4M1496.0 275.0h4.4M1421.2 279.4h4.4M1425.6 279.4h4.4M1430.0 279.4h4.4M1438.8 279.4h4.4M1443.2 279.4h4.4M1447.6 279.4h4.4M1456.4 279.4h4.4M1465.2 279.4h4.4M1469.6 279.4h4.4M1487.2 279.4h4.4M1500.4 279.4h4.4M1412.4 283.8h4.4M1425.6 283.8h4.4M1434.4 283.8h4.4M1452.0 283.8h4.4M1456.4 283.8h4.4M1469.6 283.8h4.4M1474.0 283.8h4.4M1478.4 283.8h4.4M1513.6 283.8h4.4M1390.4 288.2h4.4M1425.6 288.2h4.4M1452.0 288.2h4.4M1456.4 288.2h4.4M1460.8 288.2h4.4M1487.2 288.2h4.4M1496.0 288.2h4.4M1504.8 288.2h4.4M1513.6 288.2h4.4M1412.4 292.6h4.4M1425.6 292.6h4.4M1447.6 292.6h4.4M1452.0 292.6h4.4M1456.4 292.6h4.4M1500.4 292.6h4.4M1509.2 292.6h4.4M1390.4 297.0h4.4M1416.8 297.0h4.4M1430.0 297.0h4.4M1434.4 297.0h4.4M1456.4 297.0h4.4M1460.8 297.0h4.4M1504.8 297.0h4.4M1522.4 297.0h4.4M1364.0 301.4h4.4M1386.0 301.4h4.4M1408.0 301.4h4.4M1421.2 301.4h4.4M1430.0 301.4h4.4M1456.4 301.4h4.4M1500.4 301.4h4.4M1412.4 305.8h4.4M1416.8 305.8h4.4M1438.8 305.8h4.4M1408.0 310.2h4.4M1447.6 310.2h4.4M1456.4 310.2h4.4M1465.2 310.2h4.4M1482.8 310.2h4.4M1430.0 314.6h4.4M1460.8 314.6h4.4M1394.8 319.0h4.4M1403.6 319.0h4.4M1430.0 319.0h4.4M1443.2 319.0h4.4M1456.4 319.0h4.4M1460.8 327.8h4.4M1469.6 332.2h4.4" stroke="#000" stroke-opacity="0.05" stroke-width="4.4" fill="none"/>
<path d="M1452.0 261.8h4.4M1443.2 266.2h4.4M1443.2 270.6h4.4M1452.0 270.6h4.4M1465.2 270.6h4.4M1438.8 275.0h4.4M1447.6 275.0h4.4M1460.8 275.0h4.4M1452.0 279.4h4.4M1474.0 279.4h4.4M1438.8 283.8h4.4M1447.6 283.8h4.4M1430.0 288.2h4.4M1443.2 288.2h4.4M1465.2 288.2h4.4M1430.0 292.6h4.4M1438.8 292.6h4.4M1465.2 292.6h4.4M1513.6 292.6h4.4M1443.2 301.4h4.4M1474.0 305.8h4.4M1430.0 332.2h4.4" stroke="#000" stroke-opacity="0.1" stroke-width="4.4" fill="none"/>
<path d="M1416.8 266.2h4.4M1430.0 275.0h4.4M1443.2 283.8h4.4M1460.8 283.8h4.4M1465.2 283.8h4.4M1447.6 288.2h4.4M1443.2 292.6h4.4" stroke="#000" stroke-opacity="0.15" stroke-width="4.4" fill="none"/>
<path d="M1438.8 297.0h4.4" stroke="#000" stroke-opacity="0.17" stroke-width="4.4" fill="none"/>
<path d="M1390.4 301.4h4.4M1425.6 305.8h4.4M1416.8 323.4h4.4M1469.6 323.4h4.4M1487.2 327.8h4.4M1430.0 354.2h4.4M1438.8 354.2h4.4M1425.6 367.4h4.4M1452.0 376.2h4.4M1482.8 376.2h4.4M1447.6 380.6h4.4M1482.8 380.6h4.4M1438.8 385.0h4.4M1460.8 385.0h4.4M1487.2 385.0h4.4M1509.2 385.0h4.4M1434.4 393.8h4.4M1452.0 393.8h4.4M1469.6 393.8h4.4M1240.8 398.2h4.4M1421.2 398.2h4.4M1438.8 398.2h4.4M1482.8 398.2h4.4M1487.2 398.2h4.4M1368.4 402.6h4.4M1487.2 402.6h4.4M1276.0 407.0h4.4M1438.8 407.0h4.4M1456.4 407.0h4.4M1460.8 407.0h4.4M1469.6 407.0h4.4M1258.4 411.4h4.4M1280.4 411.4h4.4M1298.0 411.4h4.4M1254.0 415.8h4.4M1460.8 415.8h4.4M1478.4 415.8h4.4M1240.8 420.2h4.4M1390.4 420.2h4.4M1394.8 420.2h4.4M1425.6 420.2h4.4M1438.8 420.2h4.4M1240.8 424.6h4.4M1293.6 424.6h4.4M1311.2 424.6h4.4M1434.4 424.6h4.4M1460.8 424.6h4.4M1482.8 424.6h4.4M1298.0 429.0h4.4M1350.8 429.0h4.4M1386.0 429.0h4.4M1425.6 429.0h4.4M1452.0 429.0h4.4M1460.8 429.0h4.4M1465.2 429.0h4.4M1236.4 433.4h4.4M1245.2 433.4h4.4M1289.2 433.4h4.4M1293.6 433.4h4.4M1364.0 433.4h4.4M1170.4 437.8h4.4M1201.2 437.8h4.4M1262.8 437.8h4.4M1293.6 437.8h4.4M1311.2 437.8h4.4M1324.4 437.8h4.4M1372.8 437.8h4.4M1425.6 437.8h4.4M1496.0 437.8h4.4M1258.4 442.2h4.4M1342.0 442.2h4.4M1210.0 446.6h4.4M1232.0 446.6h4.4M1249.6 446.6h4.4M1258.4 446.6h4.4M1372.8 446.6h4.4M1386.0 446.6h4.4M1390.4 446.6h4.4M1416.8 446.6h4.4M1465.2 446.6h4.4M1214.4 451.0h4.4M1218.8 451.0h4.4M1236.4 451.0h4.4M1267.2 451.0h4.4M1280.4 451.0h4.4M1284.8 451.0h4.4M1364.0 451.0h4.4M1377.2 451.0h4.4M1403.6 451.0h4.4M1509.2 451.0h4.4M1298.0 455.4h4.4M1438.8 455.4h4.4M1210.0 459.8h4.4M1232.0 459.8h4.4M1320.0 459.8h4.4M1408.0 459.8h4.4M1161.6 464.2h4.4M1245.2 464.2h4.4M1372.8 464.2h4.4M1386.0 464.2h4.4M1408.0 464.2h4.4M1438.8 464.2h4.4M1456.4 464.2h4.4M1460.8 464.2h4.4M1478.4 464.2h4.4M1183.6 468.6h4.4M1188.0 468.6h4.4M1210.0 468.6h4.4M1350.8 468.6h4.4M1386.0 468.6h4.4M1174.8 473.0h4.4M1192.4 473.0h4.4M1210.0 473.0h4.4M1271.6 473.0h4.4M1394.8 473.0h4.4M1399.2 473.0h4.4M1161.6 477.4h4.4M1298.0 477.4h4.4M1328.8 477.4h4.4M1346.4 477.4h4.4M1350.8 477.4h4.4M1364.0 477.4h4.4M1201.2 481.8h4.4M1298.0 481.8h4.4M1302.4 481.8h4.4M1324.4 481.8h4.4M1381.6 481.8h4.4M1408.0 481.8h4.4M1443.2 481.8h4.4M1293.6 486.2h4.4M1377.2 486.2h4.4M1390.4 486.2h4.4M1416.8 486.2h4.4M1438.8 486.2h4.4M1126.4 490.6h4.4M1284.8 490.6h4.4M1350.8 490.6h4.4M1355.2 490.6h4.4M1425.6 490.6h4.4M1293.6 495.0h4.4M1324.4 495.0h4.4M1355.2 495.0h4.4M1368.4 495.0h4.4M1416.8 495.0h4.4M1298.0 499.4h4.4M1311.2 499.4h4.4M1337.6 499.4h4.4M1408.0 499.4h4.4M1425.6 499.4h4.4M1447.6 499.4h4.4M1157.2 503.8h4.4M1302.4 503.8h4.4M1333.2 503.8h4.4M1355.2 503.8h4.4M1368.4 503.8h4.4M1403.6 503.8h4.4M1478.4 503.8h4.4M1157.2 508.2h4.4M1289.2 508.2h4.4M1377.2 508.2h4.4M1130.8 512.6h4.4M1179.2 512.6h4.4M1289.2 512.6h4.4M1364.0 512.6h4.4M1368.4 512.6h4.4M1152.8 517.0h4.4M1179.2 517.0h4.4M1320.0 517.0h4.4M1355.2 517.0h4.4M1359.6 517.0h4.4M1152.8 521.4h4.4M1293.6 521.4h4.4M1320.0 521.4h4.4M1350.8 521.4h4.4M1386.0 521.4h4.4M1337.6 525.8h4.4M1452.0 525.8h4.4M1157.2 530.2h4.4M1293.6 530.2h4.4M1306.8 530.2h4.4M1161.6 534.6h4.4M1179.2 534.6h4.4M1276.0 534.6h4.4M1218.8 539.0h4.4M1135.2 543.4h4.4M1271.6 543.4h4.4M1276.0 543.4h4.4M1289.2 543.4h4.4M1350.8 543.4h4.4M1161.6 547.8h4.4M1170.4 547.8h4.4M1302.4 547.8h4.4M1174.8 552.2h4.4M1280.4 552.2h4.4M1399.2 552.2h4.4M1408.0 552.2h4.4M1139.6 556.6h4.4M1267.2 556.6h4.4M1302.4 556.6h4.4M1306.8 556.6h4.4M1386.0 556.6h4.4M1267.2 561.0h4.4M1298.0 561.0h4.4M1148.4 565.4h4.4M1289.2 565.4h4.4M1324.4 565.4h4.4M1183.6 569.8h4.4M1201.2 569.8h4.4M1245.2 569.8h4.4M1271.6 569.8h4.4M1276.0 569.8h4.4M1144.0 574.2h4.4M1183.6 574.2h4.4M1192.4 574.2h4.4M1293.6 574.2h4.4M1174.8 578.6h4.4M1196.8 578.6h4.4M1232.0 578.6h4.4M1240.8 578.6h4.4M1249.6 578.6h4.4M1227.6 583.0h4.4M1254.0 583.0h4.4M1267.2 583.0h4.4M1271.6 583.0h4.4M1236.4 587.4h4.4M1192.4 591.8h4.4M1236.4 591.8h4.4M1267.2 591.8h4.4M1188.0 596.2h4.4M1196.8 596.2h4.4M1227.6 596.2h4.4M1122.0 600.6h4.4M1214.4 600.6h4.4M1240.8 600.6h4.4M1271.6 600.6h4.4M1170.4 605.0h4.4M1179.2 605.0h4.4M1183.6 605.0h4.4M1214.4 605.0h4.4M1183.6 613.8h4.4M1210.0 613.8h4.4M1218.8 613.8h4.4M1126.4 618.2h4.4M1188.0 618.2h4.4M1192.4 618.2h4.4M1179.2 627.0h4.4M1179.2 640.2h4.4M1227.6 640.2h4.4M1152.8 644.6h4.4M1183.6 644.6h4.4M1205.6 644.6h4.4M1249.6 644.6h4.4M1218.8 653.4h4.4M1210.0 657.8h4.4M1223.2 662.2h4.4M1236.4 671.0h4.4M1179.2 675.4h4.4M1205.6 675.4h4.4" stroke="#000" stroke-opacity="0.3" stroke-width="4.4" fill="none"/>
<path d="M1482.8 279.4h4.4M1500.4 288.2h4.4M1456.4 314.6h4.4M1399.2 327.8h4.4M1447.6 332.2h4.4M1469.6 332.2h4.4M1368.4 336.6h4.4M1443.2 336.6h4.4M1452.0 336.6h4.4M1399.2 341.0h4.4M1425.6 363.0h4.4M1284.8 367.4h4.4M1438.8 367.4h4.4M1425.6 371.8h4.4M1447.6 371.8h4.4M1416.8 376.2h4.4M1447.6 376.2h4.4M1469.6 376.2h4.4M1487.2 376.2h4.4M1500.4 376.2h4.4M1430.0 385.0h4.4M1245.2 389.4h4.4M1456.4 389.4h4.4M1359.6 393.8h4.4M1438.8 393.8h4.4M1465.2 393.8h4.4M1412.4 402.6h4.4M1416.8 402.6h4.4M1430.0 402.6h4.4M1443.2 402.6h4.4M1456.4 402.6h4.4M1474.0 402.6h4.4M1443.2 407.0h4.4M1245.2 411.4h4.4M1403.6 411.4h4.4M1245.2 415.8h4.4M1408.0 415.8h4.4M1421.2 415.8h4.4M1434.4 415.8h4.4M1438.8 415.8h4.4M1381.6 420.2h4.4M1434.4 420.2h4.4M1183.6 424.6h4.4M1262.8 424.6h4.4M1430.0 424.6h4.4M1487.2 424.6h4.4M1218.8 429.0h4.4M1355.2 429.0h4.4M1390.4 429.0h4.4M1403.6 429.0h4.4M1412.4 429.0h4.4M1416.8 429.0h4.4M1443.2 429.0h4.4M1456.4 429.0h4.4M1258.4 433.4h4.4M1284.8 433.4h4.4M1337.6 433.4h4.4M1447.6 433.4h4.4M1218.8 437.8h4.4M1465.2 437.8h4.4M1232.0 442.2h4.4M1245.2 442.2h4.4M1377.2 442.2h4.4M1408.0 442.2h4.4M1465.2 442.2h4.4M1469.6 442.2h4.4M1183.6 446.6h4.4M1214.4 446.6h4.4M1240.8 446.6h4.4M1245.2 446.6h4.4M1276.0 446.6h4.4M1337.6 446.6h4.4M1399.2 446.6h4.4M1408.0 446.6h4.4M1456.4 446.6h4.4M1232.0 451.0h4.4M1333.2 451.0h4.4M1359.6 451.0h4.4M1368.4 451.0h4.4M1443.2 451.0h4.4M1157.2 455.4h4.4M1179.2 455.4h4.4M1223.2 455.4h4.4M1227.6 455.4h4.4M1267.2 455.4h4.4M1302.4 455.4h4.4M1320.0 455.4h4.4M1346.4 455.4h4.4M1372.8 455.4h4.4M1421.2 455.4h4.4M1425.6 455.4h4.4M1447.6 455.4h4.4M1201.2 459.8h4.4M1214.4 459.8h4.4M1218.8 459.8h4.4M1236.4 459.8h4.4M1245.2 459.8h4.4M1276.0 459.8h4.4M1284.8 459.8h4.4M1298.0 459.8h4.4M1355.2 459.8h4.4M1377.2 459.8h4.4M1399.2 459.8h4.4M1421.2 459.8h4.4M1192.4 464.2h4.4M1284.8 464.2h4.4M1364.0 464.2h4.4M1390.4 464.2h4.4M1416.8 464.2h4.4M1430.0 464.2h4.4M1161.6 468.6h4.4M1214.4 468.6h4.4M1276.0 468.6h4.4M1346.4 468.6h4.4M1412.4 468.6h4.4M1179.2 473.0h4.4M1227.6 473.0h4.4M1364.0 473.0h4.4M1430.0 473.0h4.4M1474.0 473.0h4.4M1174.8 477.4h4.4M1289.2 477.4h4.4M1434.4 477.4h4.4M1460.8 477.4h4.4M1179.2 481.8h4.4M1271.6 481.8h4.4M1284.8 481.8h4.4M1333.2 481.8h4.4M1368.4 481.8h4.4M1399.2 481.8h4.4M1416.8 481.8h4.4M1425.6 481.8h4.4M1306.8 486.2h4.4M1320.0 486.2h4.4M1333.2 486.2h4.4M1342.0 486.2h4.4M1346.4 486.2h4.4M1434.4 486.2h4.4M1152.8 490.6h4.4M1293.6 490.6h4.4M1320.0 490.6h4.4M1333.2 490.6h4.4M1359.6 490.6h4.4M1372.8 490.6h4.4M1170.4 495.0h4.4M1280.4 495.0h4.4M1359.6 495.0h4.4M1280.4 499.4h4.4M1403.6 499.4h4.4M1430.0 499.4h4.4M1144.0 503.8h4.4M1284.8 503.8h4.4M1346.4 503.8h4.4M1350.8 503.8h4.4M1350.8 508.2h4.4M1381.6 508.2h4.4M1447.6 508.2h4.4M1152.8 512.6h4.4M1192.4 512.6h4.4M1342.0 512.6h4.4M1289.2 517.0h4.4M1328.8 517.0h4.4M1337.6 517.0h4.4M1364.0 517.0h4.4M1377.2 517.0h4.4M1386.0 517.0h4.4M1408.0 517.0h4.4M1135.2 521.4h4.4M1148.4 521.4h4.4M1157.2 521.4h4.4M1161.6 521.4h4.4M1170.4 521.4h4.4M1276.0 521.4h4.4M1284.8 521.4h4.4M1298.0 521.4h4.4M1333.2 521.4h4.4M1355.2 521.4h4.4M1377.2 521.4h4.4M1302.4 525.8h4.4M1311.2 525.8h4.4M1144.0 534.6h4.4M1271.6 534.6h4.4M1289.2 534.6h4.4M1298.0 534.6h4.4M1364.0 534.6h4.4M1372.8 534.6h4.4M1394.8 534.6h4.4M1152.8 539.0h4.4M1289.2 539.0h4.4M1311.2 539.0h4.4M1403.6 539.0h4.4M1122.0 543.4h4.4M1298.0 543.4h4.4M1205.6 547.8h4.4M1276.0 547.8h4.4M1170.4 552.2h4.4M1161.6 556.6h4.4M1271.6 556.6h4.4M1289.2 556.6h4.4M1117.6 561.0h4.4M1157.2 561.0h4.4M1271.6 561.0h4.4M1289.2 561.0h4.4M1333.2 561.0h4.4M1170.4 565.4h4.4M1183.6 565.4h4.4M1249.6 565.4h4.4M1271.6 565.4h4.4M1306.8 565.4h4.4M1113.2 569.8h4.4M1267.2 569.8h4.4M1166.0 574.2h4.4M1152.8 578.6h4.4M1183.6 578.6h4.4M1223.2 578.6h4.4M1245.2 578.6h4.4M1166.0 583.0h4.4M1196.8 583.0h4.4M1218.8 583.0h4.4M1104.4 587.4h4.4M1218.8 587.4h4.4M1337.6 587.4h4.4M1157.2 591.8h4.4M1249.6 591.8h4.4M1152.8 596.2h4.4M1157.2 596.2h4.4M1205.6 596.2h4.4M1254.0 596.2h4.4M1205.6 600.6h4.4M1223.2 600.6h4.4M1152.8 605.0h4.4M1223.2 605.0h4.4M1179.2 609.4h4.4M1205.6 609.4h4.4M1267.2 609.4h4.4M1157.2 613.8h4.4M1227.6 613.8h4.4M1236.4 613.8h4.4M1205.6 622.6h4.4M1214.4 635.8h4.4M1183.6 640.2h4.4M1223.2 649.0h4.4M1227.6 649.0h4.4M1245.2 653.4h4.4M1179.2 657.8h4.4M1205.6 671.0h4.4M1218.8 671.0h4.4M1240.8 671.0h4.4M1223.2 693.0h4.4M1223.2 697.4h4.4M1170.4 701.8h4.4M1205.6 719.4h4.4" stroke="#000" stroke-opacity="0.55" stroke-width="4.4" fill="none"/>
<path d="M1434.4 283.8h4.4M1416.8 292.6h4.4M1306.8 319.0h4.4M1412.4 323.4h4.4M1390.4 332.2h4.4M1245.2 349.8h4.4M1478.4 349.8h4.4M1443.2 363.0h4.4M1443.2 367.4h4.4M1447.6 367.4h4.4M1456.4 367.4h4.4M1452.0 371.8h4.4M1456.4 371.8h4.4M1465.2 371.8h4.4M1403.6 376.2h4.4M1421.2 376.2h4.4M1460.8 376.2h4.4M1465.2 376.2h4.4M1416.8 380.6h4.4M1452.0 380.6h4.4M1218.8 389.4h4.4M1469.6 389.4h4.4M1416.8 393.8h4.4M1443.2 393.8h4.4M1447.6 393.8h4.4M1460.8 393.8h4.4M1496.0 393.8h4.4M1465.2 398.2h4.4M1394.8 407.0h4.4M1434.4 407.0h4.4M1210.0 411.4h4.4M1271.6 411.4h4.4M1438.8 411.4h4.4M1232.0 415.8h4.4M1276.0 415.8h4.4M1430.0 415.8h4.4M1227.6 420.2h4.4M1386.0 420.2h4.4M1416.8 420.2h4.4M1430.0 420.2h4.4M1258.4 424.6h4.4M1276.0 424.6h4.4M1284.8 424.6h4.4M1403.6 424.6h4.4M1412.4 424.6h4.4M1443.2 424.6h4.4M1452.0 424.6h4.4M1491.6 424.6h4.4M1258.4 429.0h4.4M1377.2 433.4h4.4M1469.6 433.4h4.4M1478.4 433.4h4.4M1236.4 437.8h4.4M1298.0 437.8h4.4M1412.4 437.8h4.4M1452.0 437.8h4.4M1236.4 442.2h4.4M1276.0 442.2h4.4M1293.6 442.2h4.4M1359.6 442.2h4.4M1386.0 442.2h4.4M1416.8 442.2h4.4M1430.0 442.2h4.4M1460.8 442.2h4.4M1254.0 446.6h4.4M1284.8 446.6h4.4M1306.8 446.6h4.4M1368.4 446.6h4.4M1377.2 446.6h4.4M1443.2 446.6h4.4M1469.6 446.6h4.4M1152.8 451.0h4.4M1245.2 451.0h4.4M1262.8 451.0h4.4M1386.0 451.0h4.4M1430.0 451.0h4.4M1465.2 451.0h4.4M1245.2 455.4h4.4M1249.6 455.4h4.4M1280.4 455.4h4.4M1333.2 455.4h4.4M1350.8 455.4h4.4M1355.2 455.4h4.4M1386.0 455.4h4.4M1403.6 455.4h4.4M1443.2 455.4h4.4M1166.0 459.8h4.4M1240.8 459.8h4.4M1249.6 459.8h4.4M1258.4 459.8h4.4M1267.2 459.8h4.4M1368.4 459.8h4.4M1394.8 459.8h4.4M1465.2 459.8h4.4M1210.0 464.2h4.4M1218.8 464.2h4.4M1232.0 464.2h4.4M1240.8 464.2h4.4M1254.0 464.2h4.4M1271.6 464.2h4.4M1276.0 464.2h4.4M1280.4 464.2h4.4M1377.2 464.2h4.4M1381.6 464.2h4.4M1421.2 464.2h4.4M1434.4 464.2h4.4M1227.6 468.6h4.4M1240.8 468.6h4.4M1267.2 468.6h4.4M1271.6 468.6h4.4M1377.2 468.6h4.4M1452.0 468.6h4.4M1482.8 468.6h4.4M1188.0 473.0h4.4M1201.2 473.0h4.4M1214.4 473.0h4.4M1350.8 473.0h4.4M1386.0 473.0h4.4M1390.4 473.0h4.4M1412.4 473.0h4.4M1421.2 473.0h4.4M1425.6 473.0h4.4M1166.0 477.4h4.4M1280.4 477.4h4.4M1293.6 477.4h4.4M1355.2 477.4h4.4M1359.6 477.4h4.4M1381.6 477.4h4.4M1386.0 477.4h4.4M1421.2 477.4h4.4M1438.8 477.4h4.4M1170.4 481.8h4.4M1183.6 481.8h4.4M1205.6 481.8h4.4M1289.2 481.8h4.4M1342.0 481.8h4.4M1372.8 481.8h4.4M1403.6 481.8h4.4M1430.0 481.8h4.4M1434.4 481.8h4.4M1438.8 481.8h4.4M1113.2 486.2h4.4M1166.0 486.2h4.4M1174.8 486.2h4.4M1284.8 486.2h4.4M1324.4 486.2h4.4M1328.8 486.2h4.4M1337.6 486.2h4.4M1368.4 486.2h4.4M1372.8 486.2h4.4M1386.0 486.2h4.4M1394.8 486.2h4.4M1408.0 486.2h4.4M1460.8 486.2h4.4M1174.8 490.6h4.4M1192.4 490.6h4.4M1196.8 490.6h4.4M1227.6 490.6h4.4M1271.6 490.6h4.4M1298.0 490.6h4.4M1364.0 490.6h4.4M1381.6 490.6h4.4M1390.4 490.6h4.4M1394.8 490.6h4.4M1412.4 490.6h4.4M1456.4 490.6h4.4M1130.8 495.0h4.4M1166.0 495.0h4.4M1174.8 495.0h4.4M1179.2 495.0h4.4M1196.8 495.0h4.4M1218.8 495.0h4.4M1254.0 495.0h4.4M1271.6 495.0h4.4M1284.8 495.0h4.4M1289.2 495.0h4.4M1342.0 495.0h4.4M1381.6 495.0h4.4M1408.0 495.0h4.4M1425.6 495.0h4.4M1434.4 495.0h4.4M1465.2 495.0h4.4M1179.2 499.4h4.4M1192.4 499.4h4.4M1196.8 499.4h4.4M1214.4 499.4h4.4M1271.6 499.4h4.4M1293.6 499.4h4.4M1333.2 499.4h4.4M1364.0 499.4h4.4M1372.8 499.4h4.4M1386.0 499.4h4.4M1390.4 499.4h4.4M1412.4 499.4h4.4M1179.2 503.8h4.4M1276.0 503.8h4.4M1280.4 503.8h4.4M1342.0 503.8h4.4M1377.2 503.8h4.4M1408.0 503.8h4.4M1412.4 503.8h4.4M1425.6 503.8h4.4M1166.0 508.2h4.4M1170.4 508.2h4.4M1280.4 508.2h4.4M1284.8 508.2h4.4M1298.0 508.2h4.4M1390.4 508.2h4.4M1394.8 508.2h4.4M1416.8 508.2h4.4M1161.6 512.6h4.4M1183.6 512.6h4.4M1254.0 512.6h4.4M1276.0 512.6h4.4M1302.4 512.6h4.4M1320.0 512.6h4.4M1337.6 512.6h4.4M1355.2 512.6h4.4M1372.8 512.6h4.4M1386.0 512.6h4.4M1403.6 512.6h4.4M1416.8 512.6h4.4M1144.0 517.0h4.4M1280.4 517.0h4.4M1372.8 517.0h4.4M1412.4 517.0h4.4M1438.8 517.0h4.4M1126.4 521.4h4.4M1174.8 521.4h4.4M1179.2 521.4h4.4M1280.4 521.4h4.4M1337.6 521.4h4.4M1152.8 525.8h4.4M1183.6 525.8h4.4M1188.0 525.8h4.4M1267.2 525.8h4.4M1368.4 525.8h4.4M1372.8 525.8h4.4M1403.6 525.8h4.4M1438.8 525.8h4.4M1166.0 530.2h4.4M1276.0 530.2h4.4M1280.4 530.2h4.4M1284.8 530.2h4.4M1302.4 530.2h4.4M1315.6 530.2h4.4M1328.8 530.2h4.4M1412.4 530.2h4.4M1166.0 534.6h4.4M1174.8 534.6h4.4M1245.2 534.6h4.4M1267.2 534.6h4.4M1284.8 534.6h4.4M1350.8 534.6h4.4M1161.6 539.0h4.4M1166.0 539.0h4.4M1174.8 539.0h4.4M1276.0 539.0h4.4M1320.0 539.0h4.4M1372.8 539.0h4.4M1082.4 543.4h4.4M1161.6 543.4h4.4M1320.0 543.4h4.4M1157.2 547.8h4.4M1174.8 547.8h4.4M1179.2 547.8h4.4M1262.8 547.8h4.4M1289.2 547.8h4.4M1311.2 547.8h4.4M1342.0 547.8h4.4M1434.4 547.8h4.4M1157.2 552.2h4.4M1284.8 552.2h4.4M1122.0 556.6h4.4M1148.4 556.6h4.4M1174.8 556.6h4.4M1258.4 556.6h4.4M1144.0 561.0h4.4M1170.4 561.0h4.4M1179.2 561.0h4.4M1245.2 561.0h4.4M1249.6 561.0h4.4M1276.0 561.0h4.4M1328.8 561.0h4.4M1174.8 565.4h4.4M1192.4 565.4h4.4M1161.6 569.8h4.4M1170.4 569.8h4.4M1196.8 569.8h4.4M1232.0 569.8h4.4M1179.2 574.2h4.4M1201.2 574.2h4.4M1262.8 574.2h4.4M1276.0 574.2h4.4M1188.0 578.6h4.4M1192.4 578.6h4.4M1205.6 578.6h4.4M1210.0 578.6h4.4M1267.2 578.6h4.4M1368.4 578.6h4.4M1179.2 583.0h4.4M1188.0 583.0h4.4M1192.4 583.0h4.4M1205.6 583.0h4.4M1214.4 583.0h4.4M1245.2 583.0h4.4M1258.4 583.0h4.4M1306.8 583.0h4.4M1350.8 583.0h4.4M1188.0 587.4h4.4M1192.4 587.4h4.4M1245.2 587.4h4.4M1254.0 587.4h4.4M1179.2 591.8h4.4M1210.0 591.8h4.4M1218.8 591.8h4.4M1227.6 591.8h4.4M1262.8 591.8h4.4M1192.4 596.2h4.4M1232.0 596.2h4.4M1249.6 596.2h4.4M1108.8 600.6h4.4M1196.8 600.6h4.4M1157.2 605.0h4.4M1166.0 605.0h4.4M1188.0 605.0h4.4M1236.4 605.0h4.4M1249.6 605.0h4.4M1183.6 609.4h4.4M1192.4 609.4h4.4M1196.8 609.4h4.4M1161.6 613.8h4.4M1174.8 613.8h4.4M1218.8 618.2h4.4M1227.6 618.2h4.4M1166.0 622.6h4.4M1218.8 622.6h4.4M1236.4 622.6h4.4M1174.8 627.0h4.4M1192.4 627.0h4.4M1130.8 631.4h4.4M1170.4 635.8h4.4M1218.8 635.8h4.4M1188.0 649.0h4.4M1201.2 649.0h4.4M1214.4 649.0h4.4M1161.6 653.4h4.4M1170.4 653.4h4.4M1196.8 662.2h4.4M1179.2 671.0h4.4M1218.8 684.2h4.4M1196.8 693.0h4.4M1183.6 697.4h4.4M1214.4 715.0h4.4" stroke="#000" stroke-opacity="0.85" stroke-width="4.4" fill="none"/>
<path d="M1328.8 239.8h4.4M1496.0 248.6h4.4M1496.0 266.2h4.4M1509.2 275.0h4.4M1262.8 288.2h4.4M1306.8 310.2h4.4M1236.4 345.4h4.4M1474.0 363.0h4.4M1478.4 380.6h4.4M1425.6 393.8h4.4M1434.4 402.6h4.4M1438.8 402.6h4.4M1465.2 407.0h4.4M1443.2 415.8h4.4M1447.6 415.8h4.4M1456.4 415.8h4.4M1443.2 420.2h4.4M1465.2 420.2h4.4M1474.0 424.6h4.4M1412.4 433.4h4.4M1416.8 433.4h4.4M1434.4 433.4h4.4M1438.8 433.4h4.4M1377.2 437.8h4.4M1421.2 437.8h4.4M1447.6 437.8h4.4M1438.8 442.2h4.4M1443.2 442.2h4.4M1447.6 442.2h4.4M1394.8 446.6h4.4M1403.6 446.6h4.4M1210.0 451.0h4.4M1240.8 451.0h4.4M1254.0 451.0h4.4M1390.4 451.0h4.4M1394.8 451.0h4.4M1416.8 451.0h4.4M1421.2 451.0h4.4M1434.4 451.0h4.4M1232.0 455.4h4.4M1236.4 455.4h4.4M1240.8 455.4h4.4M1254.0 455.4h4.4M1390.4 455.4h4.4M1399.2 455.4h4.4M1408.0 455.4h4.4M1412.4 455.4h4.4M1416.8 455.4h4.4M1223.2 459.8h4.4M1227.6 459.8h4.4M1262.8 459.8h4.4M1271.6 459.8h4.4M1280.4 459.8h4.4M1381.6 459.8h4.4M1386.0 459.8h4.4M1390.4 459.8h4.4M1403.6 459.8h4.4M1205.6 464.2h4.4M1223.2 464.2h4.4M1227.6 464.2h4.4M1236.4 464.2h4.4M1249.6 464.2h4.4M1258.4 464.2h4.4M1262.8 464.2h4.4M1267.2 464.2h4.4M1368.4 464.2h4.4M1399.2 464.2h4.4M1403.6 464.2h4.4M1412.4 464.2h4.4M1425.6 464.2h4.4M1192.4 468.6h4.4M1205.6 468.6h4.4M1218.8 468.6h4.4M1223.2 468.6h4.4M1232.0 468.6h4.4M1236.4 468.6h4.4M1245.2 468.6h4.4M1249.6 468.6h4.4M1254.0 468.6h4.4M1258.4 468.6h4.4M1262.8 468.6h4.4M1390.4 468.6h4.4M1399.2 468.6h4.4M1403.6 468.6h4.4M1408.0 468.6h4.4M1416.8 468.6h4.4M1421.2 468.6h4.4M1425.6 468.6h4.4M1430.0 468.6h4.4M1218.8 473.0h4.4M1223.2 473.0h4.4M1232.0 473.0h4.4M1236.4 473.0h4.4M1240.8 473.0h4.4M1245.2 473.0h4.4M1249.6 473.0h4.4M1254.0 473.0h4.4M1258.4 473.0h4.4M1262.8 473.0h4.4M1276.0 473.0h4.4M1372.8 473.0h4.4M1377.2 473.0h4.4M1408.0 473.0h4.4M1416.8 473.0h4.4M1447.6 473.0h4.4M1192.4 477.4h4.4M1196.8 477.4h4.4M1201.2 477.4h4.4M1210.0 477.4h4.4M1214.4 477.4h4.4M1218.8 477.4h4.4M1223.2 477.4h4.4M1227.6 477.4h4.4M1232.0 477.4h4.4M1236.4 477.4h4.4M1240.8 477.4h4.4M1245.2 477.4h4.4M1249.6 477.4h4.4M1254.0 477.4h4.4M1258.4 477.4h4.4M1262.8 477.4h4.4M1267.2 477.4h4.4M1271.6 477.4h4.4M1276.0 477.4h4.4M1390.4 477.4h4.4M1394.8 477.4h4.4M1399.2 477.4h4.4M1403.6 477.4h4.4M1408.0 477.4h4.4M1425.6 477.4h4.4M1430.0 477.4h4.4M1192.4 481.8h4.4M1196.8 481.8h4.4M1210.0 481.8h4.4M1214.4 481.8h4.4M1218.8 481.8h4.4M1223.2 481.8h4.4M1227.6 481.8h4.4M1232.0 481.8h4.4M1236.4 481.8h4.4M1240.8 481.8h4.4M1245.2 481.8h4.4M1249.6 481.8h4.4M1254.0 481.8h4.4M1258.4 481.8h4.4M1262.8 481.8h4.4M1267.2 481.8h4.4M1276.0 481.8h4.4M1280.4 481.8h4.4M1350.8 481.8h4.4M1377.2 481.8h4.4M1386.0 481.8h4.4M1390.4 481.8h4.4M1394.8 481.8h4.4M1412.4 481.8h4.4M1188.0 486.2h4.4M1196.8 486.2h4.4M1201.2 486.2h4.4M1205.6 486.2h4.4M1210.0 486.2h4.4M1214.4 486.2h4.4M1218.8 486.2h4.4M1223.2 486.2h4.4M1227.6 486.2h4.4M1232.0 486.2h4.4M1236.4 486.2h4.4M1240.8 486.2h4.4M1245.2 486.2h4.4M1249.6 486.2h4.4M1254.0 486.2h4.4M1258.4 486.2h4.4M1262.8 486.2h4.4M1267.2 486.2h4.4M1271.6 486.2h4.4M1359.6 486.2h4.4M1381.6 486.2h4.4M1399.2 486.2h4.4M1403.6 486.2h4.4M1179.2 490.6h4.4M1183.6 490.6h4.4M1201.2 490.6h4.4M1205.6 490.6h4.4M1210.0 490.6h4.4M1214.4 490.6h4.4M1218.8 490.6h4.4M1223.2 490.6h4.4M1249.6 490.6h4.4M1254.0 490.6h4.4M1258.4 490.6h4.4M1262.8 490.6h4.4M1267.2 490.6h4.4M1276.0 490.6h4.4M1280.4 490.6h4.4M1324.4 490.6h4.4M1368.4 490.6h4.4M1386.0 490.6h4.4M1403.6 490.6h4.4M1408.0 490.6h4.4M1430.0 490.6h4.4M1183.6 495.0h4.4M1192.4 495.0h4.4M1201.2 495.0h4.4M1205.6 495.0h4.4M1210.0 495.0h4.4M1214.4 495.0h4.4M1258.4 495.0h4.4M1262.8 495.0h4.4M1267.2 495.0h4.4M1276.0 495.0h4.4M1298.0 495.0h4.4M1346.4 495.0h4.4M1364.0 495.0h4.4M1372.8 495.0h4.4M1377.2 495.0h4.4M1386.0 495.0h4.4M1394.8 495.0h4.4M1399.2 495.0h4.4M1421.2 495.0h4.4M1430.0 495.0h4.4M1174.8 499.4h4.4M1183.6 499.4h4.4M1188.0 499.4h4.4M1201.2 499.4h4.4M1205.6 499.4h4.4M1210.0 499.4h4.4M1254.0 499.4h4.4M1258.4 499.4h4.4M1262.8 499.4h4.4M1267.2 499.4h4.4M1276.0 499.4h4.4M1284.8 499.4h4.4M1289.2 499.4h4.4M1359.6 499.4h4.4M1368.4 499.4h4.4M1381.6 499.4h4.4M1416.8 499.4h4.4M1183.6 503.8h4.4M1192.4 503.8h4.4M1196.8 503.8h4.4M1201.2 503.8h4.4M1205.6 503.8h4.4M1254.0 503.8h4.4M1258.4 503.8h4.4M1262.8 503.8h4.4M1267.2 503.8h4.4M1271.6 503.8h4.4M1359.6 503.8h4.4M1386.0 503.8h4.4M1421.2 503.8h4.4M1179.2 508.2h4.4M1183.6 508.2h4.4M1188.0 508.2h4.4M1192.4 508.2h4.4M1196.8 508.2h4.4M1201.2 508.2h4.4M1205.6 508.2h4.4M1258.4 508.2h4.4M1262.8 508.2h4.4M1267.2 508.2h4.4M1271.6 508.2h4.4M1276.0 508.2h4.4M1368.4 508.2h4.4M1372.8 508.2h4.4M1174.8 512.6h4.4M1188.0 512.6h4.4M1196.8 512.6h4.4M1201.2 512.6h4.4M1258.4 512.6h4.4M1262.8 512.6h4.4M1267.2 512.6h4.4M1271.6 512.6h4.4M1350.8 512.6h4.4M1170.4 517.0h4.4M1183.6 517.0h4.4M1188.0 517.0h4.4M1192.4 517.0h4.4M1196.8 517.0h4.4M1201.2 517.0h4.4M1254.0 517.0h4.4M1258.4 517.0h4.4M1262.8 517.0h4.4M1267.2 517.0h4.4M1271.6 517.0h4.4M1276.0 517.0h4.4M1390.4 517.0h4.4M1183.6 521.4h4.4M1188.0 521.4h4.4M1192.4 521.4h4.4M1196.8 521.4h4.4M1254.0 521.4h4.4M1258.4 521.4h4.4M1262.8 521.4h4.4M1267.2 521.4h4.4M1271.6 521.4h4.4M1394.8 521.4h4.4M1038.4 525.8h4.4M1170.4 525.8h4.4M1174.8 525.8h4.4M1179.2 525.8h4.4M1192.4 525.8h4.4M1196.8 525.8h4.4M1254.0 525.8h4.4M1258.4 525.8h4.4M1262.8 525.8h4.4M1271.6 525.8h4.4M1276.0 525.8h4.4M1280.4 525.8h4.4M1342.0 525.8h4.4M1174.8 530.2h4.4M1179.2 530.2h4.4M1183.6 530.2h4.4M1188.0 530.2h4.4M1192.4 530.2h4.4M1196.8 530.2h4.4M1249.6 530.2h4.4M1254.0 530.2h4.4M1258.4 530.2h4.4M1262.8 530.2h4.4M1267.2 530.2h4.4M1271.6 530.2h4.4M1170.4 534.6h4.4M1183.6 534.6h4.4M1188.0 534.6h4.4M1192.4 534.6h4.4M1196.8 534.6h4.4M1249.6 534.6h4.4M1254.0 534.6h4.4M1258.4 534.6h4.4M1262.8 534.6h4.4M1183.6 539.0h4.4M1188.0 539.0h4.4M1192.4 539.0h4.4M1196.8 539.0h4.4M1245.2 539.0h4.4M1249.6 539.0h4.4M1254.0 539.0h4.4M1258.4 539.0h4.4M1262.8 539.0h4.4M1267.2 539.0h4.4M1170.4 543.4h4.4M1174.8 543.4h4.4M1179.2 543.4h4.4M1183.6 543.4h4.4M1188.0 543.4h4.4M1192.4 543.4h4.4M1196.8 543.4h4.4M1201.2 543.4h4.4M1236.4 543.4h4.4M1240.8 543.4h4.4M1245.2 543.4h4.4M1249.6 543.4h4.4M1254.0 543.4h4.4M1258.4 543.4h4.4M1267.2 543.4h4.4M1183.6 547.8h4.4M1188.0 547.8h4.4M1192.4 547.8h4.4M1196.8 547.8h4.4M1201.2 547.8h4.4M1232.0 547.8h4.4M1236.4 547.8h4.4M1240.8 547.8h4.4M1245.2 547.8h4.4M1249.6 547.8h4.4M1254.0 547.8h4.4M1258.4 547.8h4.4M1179.2 552.2h4.4M1183.6 552.2h4.4M1188.0 552.2h4.4M1192.4 552.2h4.4M1196.8 552.2h4.4M1201.2 552.2h4.4M1205.6 552.2h4.4M1210.0 552.2h4.4M1214.4 552.2h4.4M1218.8 552.2h4.4M1223.2 552.2h4.4M1227.6 552.2h4.4M1232.0 552.2h4.4M1236.4 552.2h4.4M1240.8 552.2h4.4M1245.2 552.2h4.4M1249.6 552.2h4.4M1254.0 552.2h4.4M1258.4 552.2h4.4M1152.8 556.6h4.4M1166.0 556.6h4.4M1179.2 556.6h4.4M1183.6 556.6h4.4M1188.0 556.6h4.4M1192.4 556.6h4.4M1196.8 556.6h4.4M1201.2 556.6h4.4M1205.6 556.6h4.4M1210.0 556.6h4.4M1214.4 556.6h4.4M1218.8 556.6h4.4M1223.2 556.6h4.4M1227.6 556.6h4.4M1232.0 556.6h4.4M1236.4 556.6h4.4M1240.8 556.6h4.4M1245.2 556.6h4.4M1249.6 556.6h4.4M1254.0 556.6h4.4M1280.4 556.6h4.4M1174.8 561.0h4.4M1183.6 561.0h4.4M1188.0 561.0h4.4M1196.8 561.0h4.4M1201.2 561.0h4.4M1205.6 561.0h4.4M1210.0 561.0h4.4M1214.4 561.0h4.4M1218.8 561.0h4.4M1223.2 561.0h4.4M1227.6 561.0h4.4M1232.0 561.0h4.4M1236.4 561.0h4.4M1240.8 561.0h4.4M1258.4 561.0h4.4M1157.2 565.4h4.4M1179.2 565.4h4.4M1188.0 565.4h4.4M1196.8 565.4h4.4M1201.2 565.4h4.4M1205.6 565.4h4.4M1210.0 565.4h4.4M1214.4 565.4h4.4M1218.8 565.4h4.4M1223.2 565.4h4.4M1227.6 565.4h4.4M1232.0 565.4h4.4M1236.4 565.4h4.4M1240.8 565.4h4.4M1245.2 565.4h4.4M1254.0 565.4h4.4M1179.2 569.8h4.4M1188.0 569.8h4.4M1192.4 569.8h4.4M1205.6 569.8h4.4M1210.0 569.8h4.4M1214.4 569.8h4.4M1218.8 569.8h4.4M1223.2 569.8h4.4M1227.6 569.8h4.4M1236.4 569.8h4.4M1240.8 569.8h4.4M1249.6 569.8h4.4M1174.8 574.2h4.4M1188.0 574.2h4.4M1205.6 574.2h4.4M1210.0 574.2h4.4M1214.4 574.2h4.4M1218.8 574.2h4.4M1223.2 574.2h4.4M1227.6 574.2h4.4M1232.0 574.2h4.4M1236.4 574.2h4.4M1170.4 578.6h4.4M1179.2 578.6h4.4M1201.2 578.6h4.4M1214.4 578.6h4.4M1218.8 578.6h4.4M1227.6 578.6h4.4M1236.4 578.6h4.4M1201.2 583.0h4.4M1210.0 583.0h4.4M1223.2 583.0h4.4M1232.0 583.0h4.4M1236.4 583.0h4.4M1249.6 583.0h4.4M1196.8 587.4h4.4M1205.6 591.8h4.4M1170.4 596.2h4.4M1183.6 596.2h4.4M1201.2 596.2h4.4M1179.2 600.6h4.4M1210.0 600.6h4.4M1210.0 605.0h4.4M1223.2 609.4h4.4M1205.6 631.4h4.4" stroke="#000" stroke-opacity="1" stroke-width="4.4" fill="none"/>
<path d="M1252.8 486.0L1255.8 492.0L1262.8 494.5L1261.6 503.5L1264.0 510.7L1260.8 519.6L1254.0 527.3L1250.2 534.9L1247.4 545.1L1239.2 549.0L1232.3 556.5L1224.2 560.4L1216.6 560.3L1212.4 553.6L1207.6 550.6L1200.6 549.7L1199.5 542.3L1195.5 536.9L1194.1 529.3L1195.8 520.4L1199.5 511.4L1204.5 502.9L1212.6 497.7L1218.5 490.0L1225.9 485.4L1233.5 482.7L1241.4 479.6L1246.8 483.9Z" fill="#000"/>
</g>
<path d="M951 129H1562V741H951ZM1323.5 129V741M951 365H1562" stroke="#000" stroke-opacity="0.3" stroke-width="6.5" fill="none"/>
<path d="M951 129H1562V741H951ZM1323.5 129V741M951 365H1562" stroke="#000" stroke-width="3.6" fill="none"/>
<path d="M947.8 135V735M957 744.2H1556" stroke="#000" stroke-opacity="0.38" stroke-width="3" fill="none"/>
<rect x="945" y="123" width="12" height="12" fill="#000"/>
<rect x="1556" y="123" width="12" height="12" fill="#000"/>
<rect x="945" y="735" width="12" height="12" fill="#000"/>
<rect x="1556" y="735" width="12" height="12" fill="#000"/>
<path d="M938 627H951M938 517H951M938 401H951M938 287H951M938 177H951M1063 741V753M1175 741V753M1288 741V753M1401 741V753M1512 741V753" stroke="#111" stroke-width="3.5" fill="none"/>
<path d="M945 706.7H951M984.7 741v6M945 686.6H951M1004.4 741v6M945 672.4H951M1018.4 741v6M942 661.3H951M1029.3 741v9M945 652.3H951M1038.2 741v6M945 644.7H951M1045.7 741v6M945 638.0H951M1052.1 741v6M945 632.2H951M1057.9 741v6M945 593.9H951M1096.7 741v6M945 574.5H951M1116.4 741v6M945 560.8H951M1130.4 741v6M942 550.1H951M1141.3 741v9M945 541.4H951M1150.2 741v6M945 534.0H951M1157.7 741v6M945 527.7H951M1164.1 741v6M945 522.0H951M1169.9 741v6M945 482.1H951M1209.0 741v6M945 461.7H951M1228.9 741v6M945 447.2H951M1243.0 741v6M942 435.9H951M1254.0 741v9M945 426.7H951M1262.9 741v6M945 419.0H951M1270.5 741v6M945 412.2H951M1277.0 741v6M945 406.3H951M1282.8 741v6M945 366.7H951M1322.0 741v6M945 346.6H951M1341.9 741v6M945 332.4H951M1356.0 741v6M942 321.3H951M1367.0 741v9M945 312.3H951M1375.9 741v6M945 304.7H951M1383.5 741v6M945 298.0H951M1390.0 741v6M945 292.2H951M1395.8 741v6M945 253.9H951M1434.4 741v6M945 234.5H951M1454.0 741v6M945 220.8H951M1467.8 741v6M942 210.1H951M1478.6 741v9M945 201.4H951M1487.4 741v6M945 194.0H951M1494.8 741v6M945 187.7H951M1501.2 741v6M945 182.0H951M1506.9 741v6" stroke="#333" stroke-opacity="0.55" stroke-width="2.5" fill="none"/>
<text transform="translate(871.43,741.15) scale(0.9932,1)" font-size="45.86" stroke="#fff" stroke-width="0.3">10</text>
<text transform="translate(922.36,724.80) scale(0.9980,1)" font-size="26.86">0</text>
<text transform="translate(938.43,798.15) scale(0.9932,1)" font-size="45.86" stroke="#fff" stroke-width="0.3">10</text>
<text transform="translate(989.36,781.80) scale(0.9980,1)" font-size="26.86">0</text>
<text transform="translate(871.43,629.15) scale(0.9932,1)" font-size="45.86" stroke="#fff" stroke-width="0.3">10</text>
<text transform="translate(921.66,612.80) scale(0.8015,1)" font-size="27.25">1</text>
<text transform="translate(1042.43,798.15) scale(0.9932,1)" font-size="45.86" stroke="#fff" stroke-width="0.3">10</text>
<text transform="translate(1092.66,781.80) scale(0.8015,1)" font-size="27.25">1</text>
<text transform="translate(871.43,517.15) scale(0.9932,1)" font-size="45.86" stroke="#fff" stroke-width="0.3">10</text>
<text transform="translate(921.89,500.80) scale(1.0523,1)" font-size="26.86">2</text>
<text transform="translate(1153.43,798.15) scale(0.9932,1)" font-size="45.86" stroke="#fff" stroke-width="0.3">10</text>
<text transform="translate(1203.89,781.80) scale(1.0523,1)" font-size="26.86">2</text>
<text transform="translate(871.43,405.15) scale(0.9932,1)" font-size="45.86" stroke="#fff" stroke-width="0.3">10</text>
<text transform="translate(922.35,388.80) scale(1.0084,1)" font-size="26.86">3</text>
<text transform="translate(1264.43,798.15) scale(0.9932,1)" font-size="45.86" stroke="#fff" stroke-width="0.3">10</text>
<text transform="translate(1315.35,781.80) scale(1.0084,1)" font-size="26.86">3</text>
<text transform="translate(871.43,293.15) scale(0.9932,1)" font-size="45.86" stroke="#fff" stroke-width="0.3">10</text>
<text transform="translate(922.79,276.80) scale(0.9355,1)" font-size="27.25">4</text>
<text transform="translate(1376.43,798.15) scale(0.9932,1)" font-size="45.86" stroke="#fff" stroke-width="0.3">10</text>
<text transform="translate(1427.79,781.80) scale(0.9355,1)" font-size="27.25">4</text>
<text transform="translate(871.43,181.15) scale(0.9932,1)" font-size="45.86" stroke="#fff" stroke-width="0.3">10</text>
<text transform="translate(922.21,164.80) scale(1.0045,1)" font-size="27.25">5</text>
<text transform="translate(1487.43,798.15) scale(0.9932,1)" font-size="45.86" stroke="#fff" stroke-width="0.3">10</text>
<text transform="translate(1538.21,781.80) scale(1.0045,1)" font-size="27.25">5</text>
<text transform="translate(989.9,190) scale(0.96,1)" font-size="46.38" stroke="#fff" stroke-width="0.3">Q1</text>
<text transform="translate(989.9,245) scale(0.97,1)" font-size="46.38" stroke="#fff" stroke-width="0.3">0.097</text>
<text transform="translate(1438.9,190) scale(0.96,1)" font-size="46.38" stroke="#fff" stroke-width="0.3">Q2</text>
<text transform="translate(1438.9,245) scale(0.97,1)" font-size="46.38" stroke="#fff" stroke-width="0.3">2.72</text>
<text transform="translate(989.9,637) scale(0.96,1)" font-size="46.38" stroke="#fff" stroke-width="0.3">Q4</text>
<text transform="translate(989.9,692) scale(0.97,1)" font-size="46.38" stroke="#fff" stroke-width="0.3">89.3</text>
<text transform="translate(1438.9,637) scale(0.96,1)" font-size="46.38" stroke="#fff" stroke-width="0.3">Q3</text>
<text transform="translate(1438.9,692) scale(0.97,1)" font-size="46.38" stroke="#fff" stroke-width="0.3">7.85</text>
<text transform="translate(1202.19,93.15) scale(0.9775,1)" font-size="46.81" stroke="#fff" stroke-width="0.3" xml:space="preserve"><tspan>H</tspan><tspan font-size="26.21" dy="16.7" stroke-width="0.2">2</tspan><tspan dy="-16.7">O</tspan><tspan font-size="26.21" dy="16.7" stroke-width="0.2">2</tspan></text>
</g>
<g id="plot3">
<g filter="url(#bl)">
<path d="M2305.6 222.2h4.4M2318.8 222.2h4.4M2296.8 226.6h4.4M2244.0 231.0h4.4M2266.0 235.4h4.4M2270.4 235.4h4.4M2292.4 235.4h4.4M2230.8 239.8h4.4M2266.0 239.8h4.4M2274.8 239.8h4.4M2283.6 239.8h4.4M2270.4 244.2h4.4M2288.0 244.2h4.4M2292.4 244.2h4.4M2314.4 244.2h4.4M2340.8 244.2h4.4M2235.2 248.6h4.4M2244.0 248.6h4.4M2248.4 248.6h4.4M2257.2 248.6h4.4M2270.4 248.6h4.4M2283.6 248.6h4.4M2292.4 248.6h4.4M2305.6 248.6h4.4M2310.0 248.6h4.4M2327.6 248.6h4.4M2336.4 248.6h4.4M2230.8 253.0h4.4M2239.6 253.0h4.4M2248.4 253.0h4.4M2252.8 253.0h4.4M2261.6 253.0h4.4M2266.0 253.0h4.4M2270.4 253.0h4.4M2283.6 253.0h4.4M2288.0 253.0h4.4M2349.6 253.0h4.4M2226.4 257.4h4.4M2244.0 257.4h4.4M2252.8 257.4h4.4M2261.6 257.4h4.4M2266.0 257.4h4.4M2279.2 257.4h4.4M2301.2 257.4h4.4M2323.2 257.4h4.4M2222.0 261.8h4.4M2230.8 261.8h4.4M2239.6 261.8h4.4M2244.0 261.8h4.4M2261.6 261.8h4.4M2270.4 261.8h4.4M2283.6 261.8h4.4M2292.4 261.8h4.4M2301.2 261.8h4.4M2305.6 261.8h4.4M2310.0 261.8h4.4M2318.8 261.8h4.4M2323.2 261.8h4.4M2226.4 266.2h4.4M2230.8 266.2h4.4M2244.0 266.2h4.4M2310.0 266.2h4.4M2314.4 266.2h4.4M2327.6 266.2h4.4M2252.8 270.6h4.4M2257.2 270.6h4.4M2270.4 270.6h4.4M2305.6 270.6h4.4M2314.4 270.6h4.4M2318.8 270.6h4.4M2327.6 270.6h4.4M2226.4 275.0h4.4M2244.0 275.0h4.4M2288.0 275.0h4.4M2296.8 275.0h4.4M2314.4 275.0h4.4M2332.0 275.0h4.4M2208.8 279.4h4.4M2213.2 279.4h4.4M2226.4 279.4h4.4M2244.0 279.4h4.4M2323.2 279.4h4.4M2332.0 279.4h4.4M2336.4 279.4h4.4M2222.0 283.8h4.4M2230.8 283.8h4.4M2292.4 283.8h4.4M2301.2 283.8h4.4M2305.6 283.8h4.4M2204.4 288.2h4.4M2244.0 288.2h4.4M2296.8 288.2h4.4M2340.8 288.2h4.4M2230.8 292.6h4.4M2296.8 292.6h4.4M2305.6 292.6h4.4M2310.0 292.6h4.4M2314.4 292.6h4.4M2318.8 292.6h4.4M2323.2 292.6h4.4M2208.8 297.0h4.4M2217.6 297.0h4.4M2222.0 297.0h4.4M2230.8 297.0h4.4M2239.6 297.0h4.4M2323.2 297.0h4.4M2327.6 297.0h4.4M2226.4 301.4h4.4M2252.8 301.4h4.4M2301.2 301.4h4.4M2200.0 305.8h4.4M2208.8 305.8h4.4M2239.6 305.8h4.4M2270.4 305.8h4.4M2292.4 305.8h4.4M2305.6 305.8h4.4M2323.2 305.8h4.4M2327.6 305.8h4.4M2222.0 310.2h4.4M2252.8 310.2h4.4M2257.2 310.2h4.4M2266.0 310.2h4.4M2292.4 310.2h4.4M2323.2 310.2h4.4M2217.6 314.6h4.4M2226.4 314.6h4.4M2239.6 314.6h4.4M2252.8 314.6h4.4M2261.6 314.6h4.4M2266.0 314.6h4.4M2274.8 314.6h4.4M2279.2 314.6h4.4M2301.2 314.6h4.4M2239.6 319.0h4.4M2257.2 319.0h4.4M2270.4 319.0h4.4M2283.6 319.0h4.4M2288.0 319.0h4.4M2310.0 319.0h4.4M2226.4 323.4h4.4M2244.0 323.4h4.4M2266.0 323.4h4.4M2279.2 323.4h4.4M2292.4 323.4h4.4M2340.8 323.4h4.4M2239.6 327.8h4.4M2248.4 327.8h4.4M2257.2 327.8h4.4M2261.6 327.8h4.4M2266.0 327.8h4.4M2279.2 327.8h4.4M2283.6 327.8h4.4M2288.0 327.8h4.4M2318.8 327.8h4.4M2222.0 332.2h4.4M2230.8 332.2h4.4M2270.4 332.2h4.4M2305.6 332.2h4.4M2310.0 332.2h4.4M2222.0 336.6h4.4M2230.8 336.6h4.4M2274.8 336.6h4.4M2279.2 336.6h4.4M2323.2 336.6h4.4M2279.2 341.0h4.4M2292.4 341.0h4.4M2310.0 341.0h4.4M2230.8 349.8h4.4M2261.6 354.2h4.4M2244.0 358.6h4.4" stroke="#000" stroke-opacity="0.05" stroke-width="4.4" fill="none"/>
<path d="M2261.6 239.8h4.4M2270.4 239.8h4.4M2327.6 239.8h4.4M2296.8 244.2h4.4M2257.2 257.4h4.4M2270.4 257.4h4.4M2274.8 257.4h4.4M2292.4 257.4h4.4M2296.8 257.4h4.4M2327.6 257.4h4.4M2235.2 261.8h4.4M2248.4 261.8h4.4M2257.2 261.8h4.4M2274.8 261.8h4.4M2279.2 261.8h4.4M2288.0 261.8h4.4M2235.2 266.2h4.4M2266.0 266.2h4.4M2318.8 266.2h4.4M2235.2 270.6h4.4M2279.2 270.6h4.4M2292.4 270.6h4.4M2310.0 270.6h4.4M2248.4 275.0h4.4M2279.2 275.0h4.4M2283.6 275.0h4.4M2310.0 275.0h4.4M2318.8 275.0h4.4M2235.2 279.4h4.4M2248.4 279.4h4.4M2261.6 279.4h4.4M2279.2 279.4h4.4M2301.2 279.4h4.4M2239.6 283.8h4.4M2244.0 283.8h4.4M2252.8 283.8h4.4M2261.6 283.8h4.4M2310.0 283.8h4.4M2336.4 283.8h4.4M2230.8 288.2h4.4M2239.6 288.2h4.4M2279.2 288.2h4.4M2314.4 288.2h4.4M2235.2 292.6h4.4M2283.6 292.6h4.4M2292.4 292.6h4.4M2283.6 297.0h4.4M2292.4 297.0h4.4M2296.8 297.0h4.4M2301.2 297.0h4.4M2340.8 297.0h4.4M2239.6 301.4h4.4M2248.4 301.4h4.4M2257.2 301.4h4.4M2288.0 301.4h4.4M2292.4 301.4h4.4M2310.0 301.4h4.4M2235.2 305.8h4.4M2244.0 305.8h4.4M2274.8 305.8h4.4M2283.6 305.8h4.4M2301.2 305.8h4.4M2314.4 305.8h4.4M2226.4 310.2h4.4M2248.4 310.2h4.4M2261.6 310.2h4.4M2270.4 310.2h4.4M2279.2 310.2h4.4M2235.2 314.6h4.4M2244.0 314.6h4.4M2248.4 314.6h4.4M2257.2 314.6h4.4M2270.4 314.6h4.4M2283.6 314.6h4.4M2248.4 319.0h4.4M2279.2 319.0h4.4M2314.4 319.0h4.4M2248.4 323.4h4.4M2283.6 323.4h4.4M2292.4 327.8h4.4M2235.2 341.0h4.4" stroke="#000" stroke-opacity="0.1" stroke-width="4.4" fill="none"/>
<path d="M2279.2 248.6h4.4M2252.8 261.8h4.4M2239.6 266.2h4.4M2248.4 266.2h4.4M2261.6 266.2h4.4M2274.8 266.2h4.4M2261.6 270.6h4.4M2266.0 270.6h4.4M2217.6 275.0h4.4M2239.6 275.0h4.4M2261.6 275.0h4.4M2266.0 275.0h4.4M2270.4 275.0h4.4M2301.2 275.0h4.4M2230.8 279.4h4.4M2266.0 279.4h4.4M2270.4 279.4h4.4M2274.8 279.4h4.4M2288.0 279.4h4.4M2296.8 279.4h4.4M2248.4 283.8h4.4M2283.6 283.8h4.4M2288.0 283.8h4.4M2296.8 283.8h4.4M2318.8 283.8h4.4M2257.2 288.2h4.4M2261.6 288.2h4.4M2292.4 288.2h4.4M2301.2 288.2h4.4M2222.0 292.6h4.4M2239.6 292.6h4.4M2244.0 292.6h4.4M2248.4 292.6h4.4M2235.2 297.0h4.4M2252.8 297.0h4.4M2270.4 297.0h4.4M2235.2 301.4h4.4M2244.0 301.4h4.4M2261.6 301.4h4.4M2266.0 301.4h4.4M2270.4 301.4h4.4M2296.8 301.4h4.4M2248.4 305.8h4.4M2252.8 305.8h4.4M2266.0 305.8h4.4M2296.8 305.8h4.4M2217.6 310.2h4.4M2244.0 310.2h4.4M2274.8 310.2h4.4M2288.0 310.2h4.4M2257.2 323.4h4.4M2252.8 327.8h4.4" stroke="#000" stroke-opacity="0.15" stroke-width="4.4" fill="none"/>
<path d="M2283.6 257.4h4.4M2266.0 261.8h4.4M2270.4 266.2h4.4M2279.2 266.2h4.4M2283.6 266.2h4.4M2288.0 266.2h4.4M2292.4 266.2h4.4M2274.8 270.6h4.4M2283.6 270.6h4.4M2288.0 270.6h4.4M2296.8 270.6h4.4M2252.8 275.0h4.4M2257.2 275.0h4.4M2274.8 275.0h4.4M2292.4 275.0h4.4M2252.8 279.4h4.4M2283.6 279.4h4.4M2292.4 279.4h4.4M2305.6 279.4h4.4M2310.0 279.4h4.4M2257.2 283.8h4.4M2266.0 283.8h4.4M2270.4 283.8h4.4M2274.8 283.8h4.4M2279.2 283.8h4.4M2248.4 288.2h4.4M2252.8 288.2h4.4M2266.0 288.2h4.4M2270.4 288.2h4.4M2274.8 288.2h4.4M2283.6 288.2h4.4M2288.0 288.2h4.4M2310.0 288.2h4.4M2252.8 292.6h4.4M2257.2 292.6h4.4M2261.6 292.6h4.4M2266.0 292.6h4.4M2270.4 292.6h4.4M2274.8 292.6h4.4M2279.2 292.6h4.4M2288.0 292.6h4.4M2244.0 297.0h4.4M2248.4 297.0h4.4M2257.2 297.0h4.4M2261.6 297.0h4.4M2266.0 297.0h4.4M2274.8 297.0h4.4M2279.2 297.0h4.4M2288.0 297.0h4.4M2305.6 297.0h4.4M2230.8 301.4h4.4M2274.8 301.4h4.4M2279.2 301.4h4.4M2283.6 301.4h4.4M2257.2 305.8h4.4M2261.6 305.8h4.4" stroke="#000" stroke-opacity="0.17" stroke-width="4.4" fill="none"/>
<path d="M2178.0 279.4h4.4M2191.2 297.0h4.4M2204.4 301.4h4.4M2208.8 301.4h4.4M2169.2 305.8h4.4M2182.4 305.8h4.4M2191.2 305.8h4.4M2204.4 310.2h4.4M2178.0 319.0h4.4M2182.4 319.0h4.4M2186.8 319.0h4.4M2208.8 332.2h4.4M2261.6 341.0h4.4M2200.0 345.4h4.4M2226.4 345.4h4.4M2252.8 345.4h4.4M2310.0 345.4h4.4M2340.8 345.4h4.4M2182.4 349.8h4.4M2217.6 349.8h4.4M2222.0 349.8h4.4M2226.4 349.8h4.4M2266.0 349.8h4.4M2270.4 349.8h4.4M2279.2 349.8h4.4M2301.2 349.8h4.4M2314.4 349.8h4.4M2226.4 354.2h4.4M2318.8 354.2h4.4M2222.0 358.6h4.4M2235.2 358.6h4.4M2257.2 358.6h4.4M2296.8 358.6h4.4M2213.2 363.0h4.4M2261.6 363.0h4.4M2116.4 367.4h4.4M2354.0 367.4h4.4M2274.8 371.8h4.4M2301.2 371.8h4.4M2068.0 376.2h4.4M2248.4 376.2h4.4M2266.0 376.2h4.4M2266.0 380.6h4.4M2257.2 385.0h4.4M2340.8 385.0h4.4M2230.8 389.4h4.4M2235.2 389.4h4.4M2279.2 389.4h4.4M2178.0 393.8h4.4M2244.0 393.8h4.4M2274.8 393.8h4.4M2248.4 398.2h4.4M2252.8 398.2h4.4M2279.2 398.2h4.4M2296.8 398.2h4.4M2054.8 402.6h4.4M2085.6 402.6h4.4M2261.6 402.6h4.4M2292.4 402.6h4.4M2208.8 407.0h4.4M2222.0 407.0h4.4M2257.2 407.0h4.4M2178.0 411.4h4.4M2191.2 411.4h4.4M2204.4 411.4h4.4M2279.2 411.4h4.4M2283.6 411.4h4.4M2292.4 411.4h4.4M2301.2 411.4h4.4M2310.0 411.4h4.4M2041.6 415.8h4.4M2090.0 415.8h4.4M2107.6 415.8h4.4M2248.4 415.8h4.4M2024.0 420.2h4.4M2160.4 420.2h4.4M2186.8 420.2h4.4M2191.2 420.2h4.4M2204.4 420.2h4.4M2226.4 420.2h4.4M2283.6 420.2h4.4M1984.4 424.6h4.4M2028.4 424.6h4.4M2054.8 424.6h4.4M2063.6 424.6h4.4M2098.8 424.6h4.4M2200.0 424.6h4.4M2213.2 424.6h4.4M2230.8 424.6h4.4M2085.6 429.0h4.4M2147.2 429.0h4.4M2208.8 429.0h4.4M2261.6 429.0h4.4M2266.0 429.0h4.4M2283.6 429.0h4.4M2301.2 429.0h4.4M2050.4 433.4h4.4M2076.8 433.4h4.4M2151.6 433.4h4.4M2178.0 433.4h4.4M2230.8 433.4h4.4M2314.4 433.4h4.4M2010.8 437.8h4.4M2076.8 437.8h4.4M2103.2 437.8h4.4M2138.4 437.8h4.4M2248.4 437.8h4.4M2310.0 437.8h4.4M2314.4 437.8h4.4M2041.6 442.2h4.4M2072.4 442.2h4.4M2085.6 442.2h4.4M2191.2 442.2h4.4M2200.0 442.2h4.4M2248.4 442.2h4.4M2252.8 442.2h4.4M2261.6 442.2h4.4M2288.0 442.2h4.4M2037.2 446.6h4.4M2054.8 446.6h4.4M2085.6 446.6h4.4M2125.2 446.6h4.4M2156.0 446.6h4.4M2204.4 446.6h4.4M2230.8 446.6h4.4M2239.6 446.6h4.4M2270.4 446.6h4.4M2292.4 446.6h4.4M2024.0 451.0h4.4M2063.6 451.0h4.4M2068.0 451.0h4.4M2156.0 451.0h4.4M2006.4 455.4h4.4M2046.0 455.4h4.4M2147.2 455.4h4.4M2164.8 455.4h4.4M2235.2 455.4h4.4M2252.8 455.4h4.4M2296.8 455.4h4.4M2081.2 459.8h4.4M2230.8 459.8h4.4M2248.4 459.8h4.4M2257.2 459.8h4.4M2270.4 459.8h4.4M2296.8 459.8h4.4M2019.6 464.2h4.4M2098.8 464.2h4.4M2125.2 464.2h4.4M2160.4 464.2h4.4M2169.2 464.2h4.4M2235.2 464.2h4.4M2274.8 464.2h4.4M2002.0 468.6h4.4M2098.8 468.6h4.4M2138.4 468.6h4.4M2182.4 468.6h4.4M2191.2 468.6h4.4M2283.6 468.6h4.4M1993.2 473.0h4.4M2006.4 473.0h4.4M2103.2 473.0h4.4M2138.4 473.0h4.4M2213.2 473.0h4.4M2235.2 473.0h4.4M2239.6 473.0h4.4M1940.4 477.4h4.4M1997.6 477.4h4.4M2098.8 477.4h4.4M2125.2 477.4h4.4M2204.4 477.4h4.4M2217.6 477.4h4.4M2107.6 481.8h4.4M2120.8 481.8h4.4M2169.2 481.8h4.4M2173.6 481.8h4.4M1975.6 486.2h4.4M1988.8 486.2h4.4M2002.0 486.2h4.4M2028.4 486.2h4.4M2090.0 486.2h4.4M2142.8 486.2h4.4M2164.8 486.2h4.4M2186.8 486.2h4.4M2200.0 486.2h4.4M2213.2 486.2h4.4M2248.4 486.2h4.4M2112.0 490.6h4.4M2156.0 490.6h4.4M2164.8 490.6h4.4M2182.4 490.6h4.4M2200.0 490.6h4.4M2270.4 490.6h4.4M1997.6 495.0h4.4M2090.0 495.0h4.4M2151.6 495.0h4.4M2178.0 495.0h4.4M2182.4 495.0h4.4M2186.8 495.0h4.4M2191.2 495.0h4.4M2164.8 499.4h4.4M2169.2 499.4h4.4M2195.6 499.4h4.4M1966.8 503.8h4.4M2085.6 503.8h4.4M2129.6 503.8h4.4M2147.2 503.8h4.4M2235.2 503.8h4.4M1944.8 508.2h4.4M1971.2 508.2h4.4M1980.0 508.2h4.4M2164.8 508.2h4.4M1975.6 512.6h4.4M2094.4 512.6h4.4M2151.6 512.6h4.4M2182.4 512.6h4.4M2186.8 512.6h4.4M2085.6 517.0h4.4M2116.4 517.0h4.4M2169.2 517.0h4.4M2182.4 517.0h4.4M2103.2 521.4h4.4M2107.6 521.4h4.4M2116.4 521.4h4.4M1975.6 525.8h4.4M1980.0 525.8h4.4M2068.0 525.8h4.4M2134.0 525.8h4.4M2160.4 525.8h4.4M2178.0 525.8h4.4M2090.0 530.2h4.4M2103.2 530.2h4.4M2173.6 530.2h4.4M2178.0 530.2h4.4M2182.4 530.2h4.4M1953.6 534.6h4.4M2160.4 534.6h4.4M2178.0 539.0h4.4M2068.0 543.4h4.4M2160.4 543.4h4.4M1958.0 552.2h4.4M1980.0 552.2h4.4M2054.8 556.6h4.4M2191.2 556.6h4.4M1975.6 561.0h4.4M2116.4 561.0h4.4M1980.0 565.4h4.4M2046.0 565.4h4.4M2059.2 565.4h4.4M1980.0 569.8h4.4M1984.4 569.8h4.4M2002.0 569.8h4.4M2054.8 569.8h4.4M2072.4 569.8h4.4M2072.4 574.2h4.4M1953.6 578.6h4.4M2006.4 578.6h4.4M2032.8 578.6h4.4M2037.2 578.6h4.4M2041.6 578.6h4.4M1988.8 583.0h4.4M2010.8 583.0h4.4M1900.8 587.4h4.4M1980.0 587.4h4.4M2010.8 587.4h4.4M1918.4 591.8h4.4M2063.6 591.8h4.4M2046.0 596.2h4.4M2010.8 600.6h4.4M2037.2 600.6h4.4M2006.4 605.0h4.4M2024.0 609.4h4.4M1971.2 613.8h4.4M2037.2 613.8h4.4M1975.6 618.2h4.4M1984.4 622.6h4.4M1927.2 627.0h4.4M2006.4 627.0h4.4M2019.6 627.0h4.4M2024.0 627.0h4.4M2041.6 627.0h4.4M1980.0 631.4h4.4M2002.0 640.2h4.4M2032.8 644.6h4.4M1975.6 653.4h4.4M2032.8 653.4h4.4M1984.4 662.2h4.4M2046.0 666.6h4.4M2028.4 671.0h4.4M2081.2 671.0h4.4M1980.0 679.8h4.4M2046.0 688.6h4.4M2015.2 693.0h4.4M2024.0 697.4h4.4M2103.2 697.4h4.4M2024.0 706.2h4.4M1953.6 710.6h4.4M2081.2 715.0h4.4M1984.4 737.0h4.4" stroke="#000" stroke-opacity="0.3" stroke-width="4.4" fill="none"/>
<path d="M2164.8 283.8h4.4M2191.2 283.8h4.4M2191.2 301.4h4.4M2186.8 305.8h4.4M2217.6 305.8h4.4M2186.8 310.2h4.4M2182.4 314.6h4.4M2156.0 332.2h4.4M2213.2 345.4h4.4M2244.0 345.4h4.4M2257.2 345.4h4.4M2270.4 345.4h4.4M2288.0 345.4h4.4M2274.8 349.8h4.4M2292.4 349.8h4.4M2323.2 349.8h4.4M2235.2 354.2h4.4M2274.8 354.2h4.4M2310.0 354.2h4.4M2336.4 354.2h4.4M2244.0 358.6h4.4M2270.4 358.6h4.4M2279.2 358.6h4.4M2288.0 358.6h4.4M2301.2 358.6h4.4M2318.8 358.6h4.4M2327.6 363.0h4.4M2332.0 363.0h4.4M2204.4 367.4h4.4M2252.8 367.4h4.4M2257.2 367.4h4.4M2288.0 367.4h4.4M2358.4 367.4h4.4M2239.6 371.8h4.4M2274.8 376.2h4.4M2292.4 376.2h4.4M2296.8 376.2h4.4M2362.8 376.2h4.4M2235.2 380.6h4.4M2257.2 380.6h4.4M2301.2 380.6h4.4M2327.6 380.6h4.4M2191.2 385.0h4.4M2252.8 385.0h4.4M2296.8 385.0h4.4M2072.4 393.8h4.4M2239.6 393.8h4.4M2248.4 393.8h4.4M2257.2 393.8h4.4M2261.6 393.8h4.4M2266.0 393.8h4.4M2270.4 393.8h4.4M2292.4 393.8h4.4M2323.2 393.8h4.4M2054.8 398.2h4.4M2191.2 398.2h4.4M2217.6 398.2h4.4M2226.4 402.6h4.4M2244.0 402.6h4.4M2266.0 402.6h4.4M2270.4 402.6h4.4M2301.2 402.6h4.4M2327.6 402.6h4.4M2103.2 407.0h4.4M2178.0 407.0h4.4M2200.0 407.0h4.4M2204.4 407.0h4.4M2252.8 407.0h4.4M2301.2 407.0h4.4M2186.8 411.4h4.4M2195.6 411.4h4.4M2208.8 411.4h4.4M2213.2 411.4h4.4M2235.2 411.4h4.4M2296.8 411.4h4.4M1993.2 415.8h4.4M2230.8 415.8h4.4M2252.8 415.8h4.4M2266.0 415.8h4.4M2059.2 420.2h4.4M2213.2 420.2h4.4M2332.0 420.2h4.4M2041.6 424.6h4.4M2191.2 424.6h4.4M2248.4 424.6h4.4M2288.0 424.6h4.4M2292.4 424.6h4.4M2314.4 424.6h4.4M2068.0 429.0h4.4M2112.0 429.0h4.4M2125.2 429.0h4.4M2169.2 429.0h4.4M2217.6 429.0h4.4M2230.8 429.0h4.4M2235.2 429.0h4.4M2318.8 429.0h4.4M2006.4 433.4h4.4M2103.2 433.4h4.4M2164.8 433.4h4.4M2200.0 433.4h4.4M2248.4 433.4h4.4M2252.8 433.4h4.4M2274.8 433.4h4.4M2072.4 437.8h4.4M2134.0 437.8h4.4M2151.6 437.8h4.4M2213.2 437.8h4.4M2288.0 437.8h4.4M2296.8 437.8h4.4M2301.2 437.8h4.4M2046.0 442.2h4.4M2054.8 442.2h4.4M2081.2 442.2h4.4M2156.0 442.2h4.4M2213.2 442.2h4.4M2230.8 442.2h4.4M2002.0 446.6h4.4M2068.0 446.6h4.4M2094.4 446.6h4.4M2138.4 446.6h4.4M2147.2 446.6h4.4M2178.0 446.6h4.4M2182.4 446.6h4.4M2288.0 446.6h4.4M2103.2 451.0h4.4M2217.6 451.0h4.4M2248.4 451.0h4.4M2296.8 451.0h4.4M1980.0 455.4h4.4M2103.2 455.4h4.4M2186.8 455.4h4.4M2204.4 455.4h4.4M2323.2 455.4h4.4M2006.4 459.8h4.4M2076.8 459.8h4.4M2085.6 459.8h4.4M2142.8 459.8h4.4M2164.8 459.8h4.4M1980.0 464.2h4.4M2006.4 464.2h4.4M2085.6 464.2h4.4M2090.0 464.2h4.4M2120.8 464.2h4.4M2178.0 464.2h4.4M2244.0 464.2h4.4M1966.8 468.6h4.4M1984.4 468.6h4.4M1988.8 468.6h4.4M2010.8 468.6h4.4M2015.2 468.6h4.4M2103.2 468.6h4.4M2107.6 468.6h4.4M2125.2 468.6h4.4M2178.0 468.6h4.4M2230.8 468.6h4.4M2235.2 468.6h4.4M2252.8 468.6h4.4M2261.6 468.6h4.4M2296.8 468.6h4.4M2094.4 473.0h4.4M2186.8 473.0h4.4M2208.8 473.0h4.4M2222.0 473.0h4.4M1993.2 477.4h4.4M2002.0 477.4h4.4M2151.6 477.4h4.4M2213.2 477.4h4.4M1993.2 481.8h4.4M2195.6 481.8h4.4M2217.6 481.8h4.4M2226.4 481.8h4.4M2244.0 481.8h4.4M1984.4 486.2h4.4M2151.6 486.2h4.4M2169.2 486.2h4.4M2222.0 486.2h4.4M2230.8 486.2h4.4M1988.8 490.6h4.4M2129.6 490.6h4.4M2147.2 490.6h4.4M2151.6 490.6h4.4M1984.4 495.0h4.4M2098.8 495.0h4.4M2156.0 495.0h4.4M2160.4 495.0h4.4M2274.8 495.0h4.4M1975.6 499.4h4.4M2094.4 499.4h4.4M2134.0 499.4h4.4M2186.8 499.4h4.4M2217.6 499.4h4.4M2248.4 499.4h4.4M2195.6 503.8h4.4M2222.0 503.8h4.4M2301.2 503.8h4.4M1958.0 508.2h4.4M1962.4 508.2h4.4M2085.6 508.2h4.4M2147.2 508.2h4.4M2151.6 508.2h4.4M2156.0 508.2h4.4M2173.6 508.2h4.4M2186.8 508.2h4.4M2204.4 508.2h4.4M2230.8 508.2h4.4M2085.6 512.6h4.4M2112.0 512.6h4.4M2142.8 512.6h4.4M2156.0 512.6h4.4M2204.4 512.6h4.4M2217.6 512.6h4.4M1971.2 517.0h4.4M2147.2 517.0h4.4M2186.8 517.0h4.4M2200.0 517.0h4.4M2204.4 517.0h4.4M2217.6 517.0h4.4M2085.6 521.4h4.4M2129.6 521.4h4.4M2173.6 521.4h4.4M2200.0 521.4h4.4M2208.8 525.8h4.4M1966.8 530.2h4.4M1980.0 530.2h4.4M2125.2 530.2h4.4M2169.2 530.2h4.4M2213.2 530.2h4.4M1993.2 534.6h4.4M2081.2 534.6h4.4M2094.4 534.6h4.4M2138.4 534.6h4.4M2151.6 534.6h4.4M2173.6 534.6h4.4M2103.2 539.0h4.4M2112.0 539.0h4.4M2156.0 539.0h4.4M1988.8 543.4h4.4M2059.2 543.4h4.4M2129.6 543.4h4.4M2134.0 543.4h4.4M2151.6 543.4h4.4M2235.2 543.4h4.4M2103.2 547.8h4.4M2054.8 552.2h4.4M2059.2 552.2h4.4M2151.6 552.2h4.4M1958.0 556.6h4.4M2046.0 556.6h4.4M2050.4 556.6h4.4M2063.6 556.6h4.4M2129.6 556.6h4.4M1980.0 561.0h4.4M1984.4 561.0h4.4M1993.2 561.0h4.4M2041.6 561.0h4.4M2054.8 561.0h4.4M2090.0 561.0h4.4M1940.4 565.4h4.4M1958.0 565.4h4.4M1975.6 565.4h4.4M1997.6 565.4h4.4M2037.2 565.4h4.4M2050.4 565.4h4.4M2076.8 565.4h4.4M1944.8 569.8h4.4M2006.4 569.8h4.4M2037.2 569.8h4.4M2041.6 569.8h4.4M2063.6 569.8h4.4M2147.2 569.8h4.4M1940.4 574.2h4.4M1993.2 574.2h4.4M2059.2 574.2h4.4M1980.0 578.6h4.4M2028.4 578.6h4.4M2098.8 578.6h4.4M1984.4 583.0h4.4M2160.4 583.0h4.4M1988.8 587.4h4.4M2098.8 587.4h4.4M2103.2 587.4h4.4M2015.2 591.8h4.4M2019.6 591.8h4.4M2028.4 591.8h4.4M2002.0 596.2h4.4M2059.2 600.6h4.4M2208.8 600.6h4.4M2160.4 605.0h4.4M2032.8 613.8h4.4M2059.2 613.8h4.4M2024.0 618.2h4.4M2072.4 622.6h4.4M1922.8 627.0h4.4M1936.0 627.0h4.4M1971.2 631.4h4.4M2024.0 631.4h4.4M2090.0 635.8h4.4M2028.4 649.0h4.4M1984.4 653.4h4.4M1988.8 671.0h4.4M1949.2 684.2h4.4M2046.0 706.2h4.4M2094.4 710.6h4.4M2028.4 719.4h4.4" stroke="#000" stroke-opacity="0.55" stroke-width="4.4" fill="none"/>
<path d="M2323.2 261.8h4.4M2327.6 270.6h4.4M2332.0 283.8h4.4M2169.2 288.2h4.4M2208.8 292.6h4.4M2129.6 305.8h4.4M2178.0 305.8h4.4M2204.4 305.8h4.4M2195.6 310.2h4.4M2208.8 310.2h4.4M2173.6 314.6h4.4M2191.2 314.6h4.4M2213.2 314.6h4.4M2200.0 319.0h4.4M2182.4 323.4h4.4M2200.0 323.4h4.4M2222.0 327.8h4.4M2182.4 336.6h4.4M2191.2 336.6h4.4M2301.2 336.6h4.4M2314.4 336.6h4.4M2345.2 336.6h4.4M2050.4 341.0h4.4M2217.6 345.4h4.4M2222.0 345.4h4.4M2230.8 345.4h4.4M2235.2 345.4h4.4M2248.4 345.4h4.4M2274.8 345.4h4.4M2279.2 345.4h4.4M2292.4 345.4h4.4M2314.4 345.4h4.4M2169.2 349.8h4.4M2213.2 349.8h4.4M2244.0 349.8h4.4M2248.4 349.8h4.4M2288.0 349.8h4.4M2310.0 349.8h4.4M2318.8 349.8h4.4M2340.8 349.8h4.4M2173.6 354.2h4.4M2222.0 354.2h4.4M2230.8 354.2h4.4M2244.0 354.2h4.4M2270.4 354.2h4.4M2279.2 354.2h4.4M2283.6 354.2h4.4M2292.4 354.2h4.4M2252.8 358.6h4.4M2266.0 358.6h4.4M2274.8 358.6h4.4M2310.0 358.6h4.4M2239.6 363.0h4.4M2274.8 363.0h4.4M2296.8 363.0h4.4M2217.6 367.4h4.4M2248.4 367.4h4.4M2274.8 367.4h4.4M2296.8 367.4h4.4M2257.2 371.8h4.4M2270.4 371.8h4.4M2283.6 371.8h4.4M2288.0 371.8h4.4M2323.2 371.8h4.4M2257.2 376.2h4.4M2270.4 376.2h4.4M2288.0 376.2h4.4M2327.6 376.2h4.4M2332.0 376.2h4.4M2204.4 380.6h4.4M2279.2 380.6h4.4M2283.6 380.6h4.4M2230.8 385.0h4.4M2239.6 385.0h4.4M2270.4 385.0h4.4M2283.6 385.0h4.4M2292.4 385.0h4.4M2178.0 389.4h4.4M2204.4 389.4h4.4M2208.8 389.4h4.4M2226.4 389.4h4.4M2239.6 389.4h4.4M2248.4 389.4h4.4M2252.8 389.4h4.4M2261.6 389.4h4.4M2266.0 389.4h4.4M2274.8 389.4h4.4M2323.2 389.4h4.4M2208.8 393.8h4.4M2252.8 393.8h4.4M2283.6 393.8h4.4M2296.8 393.8h4.4M2301.2 393.8h4.4M2332.0 393.8h4.4M2226.4 398.2h4.4M2244.0 398.2h4.4M2270.4 398.2h4.4M2305.6 398.2h4.4M2151.6 402.6h4.4M2217.6 402.6h4.4M2235.2 402.6h4.4M2239.6 402.6h4.4M2257.2 402.6h4.4M2283.6 402.6h4.4M2288.0 402.6h4.4M2164.8 407.0h4.4M2186.8 407.0h4.4M2191.2 407.0h4.4M2266.0 407.0h4.4M2274.8 407.0h4.4M2292.4 407.0h4.4M2305.6 407.0h4.4M2310.0 407.0h4.4M2002.0 411.4h4.4M2032.8 411.4h4.4M2222.0 411.4h4.4M2257.2 411.4h4.4M2270.4 411.4h4.4M2274.8 411.4h4.4M2103.2 415.8h4.4M2178.0 415.8h4.4M2204.4 415.8h4.4M2222.0 415.8h4.4M2235.2 415.8h4.4M2283.6 415.8h4.4M2327.6 415.8h4.4M2046.0 420.2h4.4M2063.6 420.2h4.4M2235.2 420.2h4.4M2279.2 420.2h4.4M2292.4 420.2h4.4M2204.4 424.6h4.4M2208.8 424.6h4.4M2217.6 424.6h4.4M2235.2 424.6h4.4M2244.0 424.6h4.4M2252.8 424.6h4.4M2266.0 424.6h4.4M2270.4 424.6h4.4M2283.6 424.6h4.4M2336.4 424.6h4.4M2059.2 429.0h4.4M2098.8 429.0h4.4M2191.2 429.0h4.4M2195.6 429.0h4.4M2222.0 429.0h4.4M2226.4 429.0h4.4M2239.6 429.0h4.4M2244.0 429.0h4.4M2274.8 429.0h4.4M2279.2 429.0h4.4M1971.2 433.4h4.4M2019.6 433.4h4.4M2046.0 433.4h4.4M2085.6 433.4h4.4M2147.2 433.4h4.4M2156.0 433.4h4.4M2186.8 433.4h4.4M2213.2 433.4h4.4M2222.0 433.4h4.4M2235.2 433.4h4.4M2239.6 433.4h4.4M2244.0 433.4h4.4M2261.6 433.4h4.4M2024.0 437.8h4.4M2028.4 437.8h4.4M2046.0 437.8h4.4M2050.4 437.8h4.4M2054.8 437.8h4.4M2173.6 437.8h4.4M2178.0 437.8h4.4M2226.4 437.8h4.4M2230.8 437.8h4.4M2239.6 437.8h4.4M2257.2 437.8h4.4M2283.6 437.8h4.4M2063.6 442.2h4.4M2094.4 442.2h4.4M2116.4 442.2h4.4M2182.4 442.2h4.4M2204.4 442.2h4.4M2222.0 442.2h4.4M2226.4 442.2h4.4M2235.2 442.2h4.4M2257.2 442.2h4.4M2270.4 442.2h4.4M2041.6 446.6h4.4M2050.4 446.6h4.4M2059.2 446.6h4.4M2072.4 446.6h4.4M2076.8 446.6h4.4M2103.2 446.6h4.4M2107.6 446.6h4.4M2151.6 446.6h4.4M2160.4 446.6h4.4M2186.8 446.6h4.4M2208.8 446.6h4.4M2213.2 446.6h4.4M2217.6 446.6h4.4M2222.0 446.6h4.4M2252.8 446.6h4.4M2257.2 446.6h4.4M2028.4 451.0h4.4M2090.0 451.0h4.4M2129.6 451.0h4.4M2160.4 451.0h4.4M2164.8 451.0h4.4M2186.8 451.0h4.4M2222.0 451.0h4.4M2266.0 451.0h4.4M2301.2 451.0h4.4M2310.0 451.0h4.4M2015.2 455.4h4.4M2028.4 455.4h4.4M2072.4 455.4h4.4M2120.8 455.4h4.4M2129.6 455.4h4.4M2138.4 455.4h4.4M2160.4 455.4h4.4M2178.0 455.4h4.4M2191.2 455.4h4.4M2208.8 455.4h4.4M2274.8 455.4h4.4M1984.4 459.8h4.4M1988.8 459.8h4.4M2037.2 459.8h4.4M2059.2 459.8h4.4M2072.4 459.8h4.4M2107.6 459.8h4.4M2134.0 459.8h4.4M2151.6 459.8h4.4M2169.2 459.8h4.4M2173.6 459.8h4.4M2178.0 459.8h4.4M2182.4 459.8h4.4M2186.8 459.8h4.4M2191.2 459.8h4.4M2195.6 459.8h4.4M2239.6 459.8h4.4M1984.4 464.2h4.4M1988.8 464.2h4.4M2002.0 464.2h4.4M2024.0 464.2h4.4M2151.6 464.2h4.4M2156.0 464.2h4.4M2173.6 464.2h4.4M2182.4 464.2h4.4M2195.6 464.2h4.4M2208.8 464.2h4.4M2213.2 464.2h4.4M2266.0 464.2h4.4M2006.4 468.6h4.4M2094.4 468.6h4.4M2134.0 468.6h4.4M2147.2 468.6h4.4M2195.6 468.6h4.4M2208.8 468.6h4.4M2239.6 468.6h4.4M2270.4 468.6h4.4M2274.8 468.6h4.4M2288.0 468.6h4.4M1953.6 473.0h4.4M2019.6 473.0h4.4M2090.0 473.0h4.4M2134.0 473.0h4.4M2151.6 473.0h4.4M2156.0 473.0h4.4M2169.2 473.0h4.4M2191.2 473.0h4.4M2244.0 473.0h4.4M2257.2 473.0h4.4M2270.4 473.0h4.4M2006.4 477.4h4.4M2081.2 477.4h4.4M2103.2 477.4h4.4M2129.6 477.4h4.4M2142.8 477.4h4.4M2147.2 477.4h4.4M2169.2 477.4h4.4M2186.8 477.4h4.4M2226.4 477.4h4.4M1975.6 481.8h4.4M2081.2 481.8h4.4M2164.8 481.8h4.4M2182.4 481.8h4.4M2204.4 481.8h4.4M2213.2 481.8h4.4M2222.0 481.8h4.4M1993.2 486.2h4.4M2107.6 486.2h4.4M2147.2 486.2h4.4M2160.4 486.2h4.4M2239.6 486.2h4.4M2257.2 486.2h4.4M2266.0 486.2h4.4M1971.2 490.6h4.4M1997.6 490.6h4.4M2024.0 490.6h4.4M2090.0 490.6h4.4M2098.8 490.6h4.4M2125.2 490.6h4.4M2134.0 490.6h4.4M2160.4 490.6h4.4M2195.6 490.6h4.4M2261.6 490.6h4.4M2283.6 490.6h4.4M2076.8 495.0h4.4M2085.6 495.0h4.4M2120.8 495.0h4.4M2129.6 495.0h4.4M2134.0 495.0h4.4M2169.2 495.0h4.4M2173.6 495.0h4.4M2213.2 495.0h4.4M2226.4 495.0h4.4M2257.2 495.0h4.4M1984.4 499.4h4.4M1988.8 499.4h4.4M2120.8 499.4h4.4M2142.8 499.4h4.4M2160.4 499.4h4.4M2230.8 499.4h4.4M2239.6 499.4h4.4M2059.2 503.8h4.4M2081.2 503.8h4.4M2182.4 503.8h4.4M1984.4 508.2h4.4M1988.8 508.2h4.4M2015.2 508.2h4.4M2125.2 508.2h4.4M2129.6 508.2h4.4M2142.8 508.2h4.4M2160.4 508.2h4.4M2178.0 508.2h4.4M2182.4 508.2h4.4M2195.6 508.2h4.4M2213.2 508.2h4.4M2222.0 508.2h4.4M2252.8 508.2h4.4M2266.0 508.2h4.4M2076.8 512.6h4.4M2178.0 512.6h4.4M2208.8 512.6h4.4M2213.2 512.6h4.4M2222.0 512.6h4.4M2261.6 512.6h4.4M1953.6 517.0h4.4M1980.0 517.0h4.4M1984.4 517.0h4.4M2142.8 517.0h4.4M2160.4 517.0h4.4M2191.2 517.0h4.4M2213.2 517.0h4.4M1993.2 521.4h4.4M2076.8 521.4h4.4M2164.8 521.4h4.4M2208.8 521.4h4.4M1966.8 525.8h4.4M2125.2 525.8h4.4M2142.8 525.8h4.4M2164.8 525.8h4.4M2173.6 525.8h4.4M2182.4 525.8h4.4M2186.8 525.8h4.4M2085.6 530.2h4.4M2164.8 530.2h4.4M1966.8 534.6h4.4M1980.0 534.6h4.4M2072.4 534.6h4.4M2076.8 534.6h4.4M2178.0 534.6h4.4M2182.4 534.6h4.4M2213.2 534.6h4.4M1905.2 539.0h4.4M1975.6 539.0h4.4M1988.8 539.0h4.4M2024.0 539.0h4.4M2081.2 539.0h4.4M2138.4 539.0h4.4M1984.4 543.4h4.4M1993.2 543.4h4.4M2156.0 543.4h4.4M1962.4 547.8h4.4M1971.2 547.8h4.4M2076.8 547.8h4.4M2191.2 547.8h4.4M1984.4 552.2h4.4M1997.6 552.2h4.4M2072.4 552.2h4.4M2076.8 552.2h4.4M2125.2 552.2h4.4M2147.2 552.2h4.4M2156.0 552.2h4.4M1993.2 556.6h4.4M2010.8 556.6h4.4M2041.6 556.6h4.4M2076.8 556.6h4.4M1971.2 561.0h4.4M1988.8 561.0h4.4M2037.2 561.0h4.4M2046.0 561.0h4.4M2125.2 561.0h4.4M1971.2 565.4h4.4M2081.2 565.4h4.4M2103.2 565.4h4.4M2160.4 565.4h4.4M2173.6 565.4h4.4M2028.4 569.8h4.4M2032.8 569.8h4.4M2046.0 569.8h4.4M2151.6 569.8h4.4M1984.4 574.2h4.4M2024.0 574.2h4.4M2028.4 574.2h4.4M2169.2 574.2h4.4M2182.4 574.2h4.4M1975.6 578.6h4.4M1993.2 583.0h4.4M2015.2 583.0h4.4M2032.8 583.0h4.4M2041.6 583.0h4.4M2046.0 583.0h4.4M1962.4 587.4h4.4M2002.0 587.4h4.4M2050.4 587.4h4.4M2059.2 587.4h4.4M1988.8 591.8h4.4M1997.6 591.8h4.4M1988.8 600.6h4.4M1975.6 609.4h4.4M2006.4 609.4h4.4M1958.0 613.8h4.4M1997.6 613.8h4.4M2019.6 613.8h4.4M2024.0 622.6h4.4M2028.4 622.6h4.4M1988.8 627.0h4.4M2050.4 627.0h4.4M2002.0 631.4h4.4M2028.4 631.4h4.4M2015.2 635.8h4.4M2037.2 635.8h4.4M1975.6 640.2h4.4M2010.8 640.2h4.4M2002.0 644.6h4.4M2010.8 653.4h4.4M2085.6 662.2h4.4M2063.6 671.0h4.4M2006.4 688.6h4.4M2037.2 688.6h4.4M2037.2 693.0h4.4M2024.0 710.6h4.4M2019.6 723.8h4.4" stroke="#000" stroke-opacity="0.85" stroke-width="4.4" fill="none"/>
<path d="M2332.0 297.0h4.4M2054.8 319.0h4.4M2107.6 327.8h4.4M2134.0 345.4h4.4M2266.0 345.4h4.4M2283.6 345.4h4.4M2204.4 349.8h4.4M2208.8 349.8h4.4M2235.2 349.8h4.4M2239.6 349.8h4.4M2252.8 349.8h4.4M2283.6 349.8h4.4M2217.6 354.2h4.4M2239.6 354.2h4.4M2252.8 354.2h4.4M2257.2 354.2h4.4M2261.6 354.2h4.4M2288.0 354.2h4.4M2261.6 367.4h4.4M2288.0 380.6h4.4M2296.8 380.6h4.4M2270.4 389.4h4.4M2283.6 389.4h4.4M2288.0 389.4h4.4M2314.4 393.8h4.4M2257.2 398.2h4.4M2266.0 398.2h4.4M2274.8 398.2h4.4M2283.6 398.2h4.4M2288.0 398.2h4.4M2213.2 402.6h4.4M2252.8 402.6h4.4M2274.8 402.6h4.4M2279.2 402.6h4.4M2239.6 407.0h4.4M2248.4 407.0h4.4M2288.0 407.0h4.4M2217.6 411.4h4.4M2230.8 411.4h4.4M2248.4 411.4h4.4M2261.6 411.4h4.4M2266.0 411.4h4.4M2217.6 415.8h4.4M2239.6 415.8h4.4M2261.6 415.8h4.4M2195.6 420.2h4.4M2239.6 420.2h4.4M2244.0 420.2h4.4M2248.4 420.2h4.4M2257.2 420.2h4.4M2261.6 420.2h4.4M2266.0 420.2h4.4M2222.0 424.6h4.4M2261.6 424.6h4.4M2274.8 424.6h4.4M2248.4 429.0h4.4M2252.8 429.0h4.4M2270.4 429.0h4.4M2208.8 433.4h4.4M2217.6 433.4h4.4M2257.2 433.4h4.4M2283.6 433.4h4.4M2288.0 433.4h4.4M2191.2 437.8h4.4M2195.6 437.8h4.4M2204.4 437.8h4.4M2217.6 437.8h4.4M2235.2 437.8h4.4M2252.8 437.8h4.4M2125.2 442.2h4.4M2164.8 442.2h4.4M2169.2 442.2h4.4M2173.6 442.2h4.4M2195.6 442.2h4.4M2244.0 442.2h4.4M2274.8 442.2h4.4M2028.4 446.6h4.4M2063.6 446.6h4.4M2112.0 446.6h4.4M2173.6 446.6h4.4M2191.2 446.6h4.4M2195.6 446.6h4.4M2226.4 446.6h4.4M1997.6 451.0h4.4M2019.6 451.0h4.4M2041.6 451.0h4.4M2050.4 451.0h4.4M2054.8 451.0h4.4M2059.2 451.0h4.4M2076.8 451.0h4.4M2085.6 451.0h4.4M2142.8 451.0h4.4M2169.2 451.0h4.4M2191.2 451.0h4.4M2204.4 451.0h4.4M2213.2 451.0h4.4M2226.4 451.0h4.4M2252.8 451.0h4.4M2037.2 455.4h4.4M2050.4 455.4h4.4M2054.8 455.4h4.4M2059.2 455.4h4.4M2068.0 455.4h4.4M2081.2 455.4h4.4M2085.6 455.4h4.4M2182.4 455.4h4.4M2217.6 455.4h4.4M2222.0 455.4h4.4M2244.0 455.4h4.4M2261.6 455.4h4.4M2019.6 459.8h4.4M2024.0 459.8h4.4M2028.4 459.8h4.4M2032.8 459.8h4.4M2041.6 459.8h4.4M2046.0 459.8h4.4M2050.4 459.8h4.4M2054.8 459.8h4.4M2063.6 459.8h4.4M2068.0 459.8h4.4M2160.4 459.8h4.4M2204.4 459.8h4.4M2208.8 459.8h4.4M2217.6 459.8h4.4M2028.4 464.2h4.4M2032.8 464.2h4.4M2037.2 464.2h4.4M2041.6 464.2h4.4M2046.0 464.2h4.4M2050.4 464.2h4.4M2054.8 464.2h4.4M2059.2 464.2h4.4M2063.6 464.2h4.4M2068.0 464.2h4.4M2072.4 464.2h4.4M2076.8 464.2h4.4M2103.2 464.2h4.4M2204.4 464.2h4.4M2217.6 464.2h4.4M2222.0 464.2h4.4M2226.4 464.2h4.4M2239.6 464.2h4.4M2248.4 464.2h4.4M2252.8 464.2h4.4M1993.2 468.6h4.4M2019.6 468.6h4.4M2024.0 468.6h4.4M2028.4 468.6h4.4M2032.8 468.6h4.4M2037.2 468.6h4.4M2041.6 468.6h4.4M2046.0 468.6h4.4M2050.4 468.6h4.4M2054.8 468.6h4.4M2059.2 468.6h4.4M2063.6 468.6h4.4M2068.0 468.6h4.4M2072.4 468.6h4.4M2076.8 468.6h4.4M2081.2 468.6h4.4M2085.6 468.6h4.4M2090.0 468.6h4.4M2164.8 468.6h4.4M2200.0 468.6h4.4M2204.4 468.6h4.4M2217.6 468.6h4.4M2226.4 468.6h4.4M2010.8 473.0h4.4M2015.2 473.0h4.4M2024.0 473.0h4.4M2028.4 473.0h4.4M2032.8 473.0h4.4M2037.2 473.0h4.4M2041.6 473.0h4.4M2046.0 473.0h4.4M2050.4 473.0h4.4M2054.8 473.0h4.4M2059.2 473.0h4.4M2063.6 473.0h4.4M2068.0 473.0h4.4M2072.4 473.0h4.4M2076.8 473.0h4.4M2085.6 473.0h4.4M2147.2 473.0h4.4M2164.8 473.0h4.4M2173.6 473.0h4.4M2182.4 473.0h4.4M2230.8 473.0h4.4M2248.4 473.0h4.4M2283.6 473.0h4.4M2010.8 477.4h4.4M2015.2 477.4h4.4M2019.6 477.4h4.4M2024.0 477.4h4.4M2028.4 477.4h4.4M2032.8 477.4h4.4M2037.2 477.4h4.4M2041.6 477.4h4.4M2046.0 477.4h4.4M2050.4 477.4h4.4M2054.8 477.4h4.4M2059.2 477.4h4.4M2063.6 477.4h4.4M2068.0 477.4h4.4M2072.4 477.4h4.4M2076.8 477.4h4.4M2085.6 477.4h4.4M2173.6 477.4h4.4M2178.0 477.4h4.4M2182.4 477.4h4.4M2200.0 477.4h4.4M2208.8 477.4h4.4M1971.2 481.8h4.4M1997.6 481.8h4.4M2002.0 481.8h4.4M2006.4 481.8h4.4M2010.8 481.8h4.4M2015.2 481.8h4.4M2019.6 481.8h4.4M2024.0 481.8h4.4M2028.4 481.8h4.4M2032.8 481.8h4.4M2054.8 481.8h4.4M2059.2 481.8h4.4M2063.6 481.8h4.4M2068.0 481.8h4.4M2072.4 481.8h4.4M2076.8 481.8h4.4M2129.6 481.8h4.4M2134.0 481.8h4.4M2147.2 481.8h4.4M2151.6 481.8h4.4M2191.2 481.8h4.4M2208.8 481.8h4.4M1997.6 486.2h4.4M2006.4 486.2h4.4M2010.8 486.2h4.4M2015.2 486.2h4.4M2019.6 486.2h4.4M2024.0 486.2h4.4M2059.2 486.2h4.4M2063.6 486.2h4.4M2068.0 486.2h4.4M2072.4 486.2h4.4M2076.8 486.2h4.4M2081.2 486.2h4.4M2085.6 486.2h4.4M2112.0 486.2h4.4M2116.4 486.2h4.4M2125.2 486.2h4.4M2138.4 486.2h4.4M2173.6 486.2h4.4M2204.4 486.2h4.4M2208.8 486.2h4.4M2002.0 490.6h4.4M2006.4 490.6h4.4M2010.8 490.6h4.4M2015.2 490.6h4.4M2019.6 490.6h4.4M2059.2 490.6h4.4M2063.6 490.6h4.4M2068.0 490.6h4.4M2072.4 490.6h4.4M2076.8 490.6h4.4M2081.2 490.6h4.4M2204.4 490.6h4.4M2213.2 490.6h4.4M2235.2 490.6h4.4M2006.4 495.0h4.4M2010.8 495.0h4.4M2015.2 495.0h4.4M2019.6 495.0h4.4M2059.2 495.0h4.4M2063.6 495.0h4.4M2068.0 495.0h4.4M2072.4 495.0h4.4M2081.2 495.0h4.4M2103.2 495.0h4.4M2142.8 495.0h4.4M1993.2 499.4h4.4M1997.6 499.4h4.4M2002.0 499.4h4.4M2006.4 499.4h4.4M2010.8 499.4h4.4M2015.2 499.4h4.4M2059.2 499.4h4.4M2063.6 499.4h4.4M2068.0 499.4h4.4M2072.4 499.4h4.4M2076.8 499.4h4.4M2081.2 499.4h4.4M2085.6 499.4h4.4M2090.0 499.4h4.4M2107.6 499.4h4.4M2204.4 499.4h4.4M1988.8 503.8h4.4M1997.6 503.8h4.4M2002.0 503.8h4.4M2006.4 503.8h4.4M2010.8 503.8h4.4M2015.2 503.8h4.4M2063.6 503.8h4.4M2068.0 503.8h4.4M2072.4 503.8h4.4M2076.8 503.8h4.4M2142.8 503.8h4.4M2156.0 503.8h4.4M2160.4 503.8h4.4M2178.0 503.8h4.4M2200.0 503.8h4.4M1993.2 508.2h4.4M1997.6 508.2h4.4M2002.0 508.2h4.4M2006.4 508.2h4.4M2010.8 508.2h4.4M2059.2 508.2h4.4M2063.6 508.2h4.4M2068.0 508.2h4.4M2072.4 508.2h4.4M2076.8 508.2h4.4M2081.2 508.2h4.4M1980.0 512.6h4.4M1984.4 512.6h4.4M1993.2 512.6h4.4M1997.6 512.6h4.4M2002.0 512.6h4.4M2006.4 512.6h4.4M2010.8 512.6h4.4M2059.2 512.6h4.4M2063.6 512.6h4.4M2068.0 512.6h4.4M2072.4 512.6h4.4M2147.2 512.6h4.4M2160.4 512.6h4.4M2191.2 512.6h4.4M1988.8 517.0h4.4M1993.2 517.0h4.4M1997.6 517.0h4.4M2002.0 517.0h4.4M2006.4 517.0h4.4M2010.8 517.0h4.4M2054.8 517.0h4.4M2059.2 517.0h4.4M2063.6 517.0h4.4M2068.0 517.0h4.4M2072.4 517.0h4.4M2076.8 517.0h4.4M2151.6 517.0h4.4M2156.0 517.0h4.4M1980.0 521.4h4.4M1988.8 521.4h4.4M1997.6 521.4h4.4M2002.0 521.4h4.4M2006.4 521.4h4.4M2010.8 521.4h4.4M2054.8 521.4h4.4M2059.2 521.4h4.4M2063.6 521.4h4.4M2068.0 521.4h4.4M2072.4 521.4h4.4M2081.2 521.4h4.4M2090.0 521.4h4.4M2138.4 521.4h4.4M1993.2 525.8h4.4M1997.6 525.8h4.4M2002.0 525.8h4.4M2006.4 525.8h4.4M2010.8 525.8h4.4M2050.4 525.8h4.4M2054.8 525.8h4.4M2059.2 525.8h4.4M2063.6 525.8h4.4M2072.4 525.8h4.4M2156.0 525.8h4.4M1988.8 530.2h4.4M1993.2 530.2h4.4M1997.6 530.2h4.4M2002.0 530.2h4.4M2006.4 530.2h4.4M2010.8 530.2h4.4M2046.0 530.2h4.4M2050.4 530.2h4.4M2054.8 530.2h4.4M2059.2 530.2h4.4M2063.6 530.2h4.4M2068.0 530.2h4.4M2072.4 530.2h4.4M2120.8 530.2h4.4M2129.6 530.2h4.4M1988.8 534.6h4.4M1997.6 534.6h4.4M2002.0 534.6h4.4M2006.4 534.6h4.4M2010.8 534.6h4.4M2015.2 534.6h4.4M2041.6 534.6h4.4M2046.0 534.6h4.4M2050.4 534.6h4.4M2054.8 534.6h4.4M2059.2 534.6h4.4M2107.6 534.6h4.4M2164.8 534.6h4.4M1993.2 539.0h4.4M1997.6 539.0h4.4M2002.0 539.0h4.4M2006.4 539.0h4.4M2010.8 539.0h4.4M2015.2 539.0h4.4M2019.6 539.0h4.4M2028.4 539.0h4.4M2032.8 539.0h4.4M2037.2 539.0h4.4M2041.6 539.0h4.4M2046.0 539.0h4.4M2050.4 539.0h4.4M2054.8 539.0h4.4M2059.2 539.0h4.4M2063.6 539.0h4.4M2072.4 539.0h4.4M2076.8 539.0h4.4M2098.8 539.0h4.4M1975.6 543.4h4.4M1997.6 543.4h4.4M2002.0 543.4h4.4M2006.4 543.4h4.4M2010.8 543.4h4.4M2015.2 543.4h4.4M2019.6 543.4h4.4M2024.0 543.4h4.4M2028.4 543.4h4.4M2032.8 543.4h4.4M2037.2 543.4h4.4M2041.6 543.4h4.4M2046.0 543.4h4.4M2050.4 543.4h4.4M2054.8 543.4h4.4M2063.6 543.4h4.4M1975.6 547.8h4.4M1980.0 547.8h4.4M1984.4 547.8h4.4M1988.8 547.8h4.4M1993.2 547.8h4.4M1997.6 547.8h4.4M2002.0 547.8h4.4M2006.4 547.8h4.4M2010.8 547.8h4.4M2015.2 547.8h4.4M2019.6 547.8h4.4M2024.0 547.8h4.4M2028.4 547.8h4.4M2032.8 547.8h4.4M2037.2 547.8h4.4M2041.6 547.8h4.4M2046.0 547.8h4.4M2050.4 547.8h4.4M2054.8 547.8h4.4M2059.2 547.8h4.4M2063.6 547.8h4.4M2081.2 547.8h4.4M1988.8 552.2h4.4M1993.2 552.2h4.4M2002.0 552.2h4.4M2006.4 552.2h4.4M2010.8 552.2h4.4M2015.2 552.2h4.4M2019.6 552.2h4.4M2024.0 552.2h4.4M2028.4 552.2h4.4M2032.8 552.2h4.4M2037.2 552.2h4.4M2041.6 552.2h4.4M2046.0 552.2h4.4M2050.4 552.2h4.4M2063.6 552.2h4.4M2178.0 552.2h4.4M1997.6 556.6h4.4M2002.0 556.6h4.4M2006.4 556.6h4.4M2015.2 556.6h4.4M2019.6 556.6h4.4M2024.0 556.6h4.4M2028.4 556.6h4.4M2032.8 556.6h4.4M2037.2 556.6h4.4M2068.0 556.6h4.4M1997.6 561.0h4.4M2006.4 561.0h4.4M2010.8 561.0h4.4M2015.2 561.0h4.4M2024.0 561.0h4.4M2028.4 561.0h4.4M2032.8 561.0h4.4M2059.2 561.0h4.4M2063.6 561.0h4.4M2002.0 565.4h4.4M2006.4 565.4h4.4M2010.8 565.4h4.4M2015.2 565.4h4.4M2019.6 565.4h4.4M2024.0 565.4h4.4M2028.4 565.4h4.4M2032.8 565.4h4.4M2041.6 565.4h4.4M2063.6 565.4h4.4M2010.8 569.8h4.4M2015.2 569.8h4.4M2019.6 569.8h4.4M2002.0 574.2h4.4M2037.2 574.2h4.4M1971.2 578.6h4.4M2002.0 578.6h4.4M2010.8 578.6h4.4M2015.2 578.6h4.4M2019.6 583.0h4.4M2068.0 583.0h4.4M1971.2 627.0h4.4" stroke="#000" stroke-opacity="1" stroke-width="4.4" fill="none"/>
<path d="M2057.7 474.9L2063.3 476.6L2063.8 484.6L2067.3 489.4L2069.9 495.9L2066.1 505.1L2063.9 513.4L2059.5 521.4L2054.6 529.0L2048.6 535.3L2041.9 537.8L2035.9 540.9L2029.9 542.6L2022.9 546.4L2019.1 541.7L2014.6 539.0L2013.1 532.6L2010.1 527.7L2007.5 521.5L2009.3 513.0L2012.0 504.6L2016.5 496.6L2022.9 490.9L2027.1 482.1L2033.7 477.3L2040.3 473.8L2046.4 474.1L2051.7 475.1Z" fill="#000"/>
</g>
<path d="M1774 128H2389.5V744H1774ZM2149 128V744M1774 366.5H2389.5" stroke="#000" stroke-opacity="0.3" stroke-width="6.5" fill="none"/>
<path d="M1774 128H2389.5V744H1774ZM2149 128V744M1774 366.5H2389.5" stroke="#000" stroke-width="3.6" fill="none"/>
<path d="M1770.8 134V738M1780 747.2H2383.5" stroke="#000" stroke-opacity="0.38" stroke-width="3" fill="none"/>
<rect x="1768" y="122" width="12" height="12" fill="#000"/>
<rect x="2383.5" y="122" width="12" height="12" fill="#000"/>
<rect x="1768" y="738" width="12" height="12" fill="#000"/>
<rect x="2383.5" y="738" width="12" height="12" fill="#000"/>
<path d="M1761 630H1774M1761 517H1774M1761 401H1774M1761 287H1774M1761 175H1774M1887 744V756M1999 744V756M2112 744V756M2227 744V756M2337 744V756" stroke="#111" stroke-width="3.5" fill="none"/>
<path d="M1768 709.7H1774M1808.0 744v6M1768 689.6H1774M1827.9 744v6M1768 675.4H1774M1842.0 744v6M1765 664.3H1774M1853.0 744v9M1768 655.3H1774M1861.9 744v6M1768 647.7H1774M1869.5 744v6M1768 641.0H1774M1876.0 744v6M1768 635.2H1774M1881.8 744v6M1768 596.0H1774M1920.7 744v6M1768 576.1H1774M1940.4 744v6M1768 562.0H1774M1954.4 744v6M1765 551.0H1774M1965.3 744v9M1768 542.1H1774M1974.2 744v6M1768 534.5H1774M1981.7 744v6M1768 528.0H1774M1988.1 744v6M1768 522.2H1774M1993.9 744v6M1768 482.1H1774M2033.0 744v6M1768 461.7H1774M2052.9 744v6M1768 447.2H1774M2067.0 744v6M1765 435.9H1774M2078.0 744v9M1768 426.7H1774M2086.9 744v6M1768 419.0H1774M2094.5 744v6M1768 412.2H1774M2101.0 744v6M1768 406.3H1774M2106.8 744v6M1768 366.7H1774M2146.6 744v6M1768 346.6H1774M2166.9 744v6M1768 332.4H1774M2181.2 744v6M1765 321.3H1774M2192.4 744v9M1768 312.3H1774M2201.5 744v6M1768 304.7H1774M2209.2 744v6M1768 298.0H1774M2215.9 744v6M1768 292.2H1774M2221.7 744v6M1768 253.3H1774M2260.1 744v6M1768 233.6H1774M2279.5 744v6M1768 219.6H1774M2293.2 744v6M1765 208.7H1774M2303.9 744v9M1768 199.8H1774M2312.6 744v6M1768 192.3H1774M2320.0 744v6M1768 185.9H1774M2326.3 744v6M1768 180.1H1774M2332.0 744v6" stroke="#333" stroke-opacity="0.55" stroke-width="2.5" fill="none"/>
<text transform="translate(1682.43,741.15) scale(0.9932,1)" font-size="45.86" stroke="#fff" stroke-width="0.3">10</text>
<text transform="translate(1733.36,724.80) scale(0.9980,1)" font-size="26.86">0</text>
<text transform="translate(1775.43,798.15) scale(0.9932,1)" font-size="45.86" stroke="#fff" stroke-width="0.3">10</text>
<text transform="translate(1826.36,781.80) scale(0.9980,1)" font-size="26.86">0</text>
<text transform="translate(1682.43,629.15) scale(0.9932,1)" font-size="45.86" stroke="#fff" stroke-width="0.3">10</text>
<text transform="translate(1732.66,612.80) scale(0.8015,1)" font-size="27.25">1</text>
<text transform="translate(1879.43,798.15) scale(0.9932,1)" font-size="45.86" stroke="#fff" stroke-width="0.3">10</text>
<text transform="translate(1929.66,781.80) scale(0.8015,1)" font-size="27.25">1</text>
<text transform="translate(1682.43,517.15) scale(0.9932,1)" font-size="45.86" stroke="#fff" stroke-width="0.3">10</text>
<text transform="translate(1732.89,500.80) scale(1.0523,1)" font-size="26.86">2</text>
<text transform="translate(1990.43,798.15) scale(0.9932,1)" font-size="45.86" stroke="#fff" stroke-width="0.3">10</text>
<text transform="translate(2040.89,781.80) scale(1.0523,1)" font-size="26.86">2</text>
<text transform="translate(1682.43,405.15) scale(0.9932,1)" font-size="45.86" stroke="#fff" stroke-width="0.3">10</text>
<text transform="translate(1733.35,388.80) scale(1.0084,1)" font-size="26.86">3</text>
<text transform="translate(2101.43,798.15) scale(0.9932,1)" font-size="45.86" stroke="#fff" stroke-width="0.3">10</text>
<text transform="translate(2152.35,781.80) scale(1.0084,1)" font-size="26.86">3</text>
<text transform="translate(1682.43,293.15) scale(0.9932,1)" font-size="45.86" stroke="#fff" stroke-width="0.3">10</text>
<text transform="translate(1733.79,276.80) scale(0.9355,1)" font-size="27.25">4</text>
<text transform="translate(2212.43,798.15) scale(0.9932,1)" font-size="45.86" stroke="#fff" stroke-width="0.3">10</text>
<text transform="translate(2263.79,781.80) scale(0.9355,1)" font-size="27.25">4</text>
<text transform="translate(1682.43,181.15) scale(0.9932,1)" font-size="45.86" stroke="#fff" stroke-width="0.3">10</text>
<text transform="translate(1733.21,164.80) scale(1.0045,1)" font-size="27.25">5</text>
<text transform="translate(2323.43,798.15) scale(0.9932,1)" font-size="45.86" stroke="#fff" stroke-width="0.3">10</text>
<text transform="translate(2374.21,781.80) scale(1.0045,1)" font-size="27.25">5</text>
<text transform="translate(1825.9,190) scale(0.96,1)" font-size="46.38" stroke="#fff" stroke-width="0.3">Q1</text>
<text transform="translate(1825.9,245) scale(0.97,1)" font-size="46.38" stroke="#fff" stroke-width="0.3">0.11</text>
<text transform="translate(2274.9,190) scale(0.96,1)" font-size="46.38" stroke="#fff" stroke-width="0.3">Q2</text>
<text transform="translate(2274.9,245) scale(0.97,1)" font-size="46.38" stroke="#fff" stroke-width="0.3">20.5</text>
<text transform="translate(1825.9,637) scale(0.96,1)" font-size="46.38" stroke="#fff" stroke-width="0.3">Q4</text>
<text transform="translate(1825.9,692) scale(0.97,1)" font-size="46.38" stroke="#fff" stroke-width="0.3">69.1</text>
<text transform="translate(2274.9,637) scale(0.96,1)" font-size="46.38" stroke="#fff" stroke-width="0.3">Q3</text>
<text transform="translate(2274.9,692) scale(0.97,1)" font-size="46.38" stroke="#fff" stroke-width="0.3">10.3</text>
<text transform="translate(1967.35,93.15) scale(0.9359,1)" font-size="46.81" stroke="#fff" stroke-width="0.3" xml:space="preserve"><tspan>H</tspan><tspan font-size="26.21" dy="16.7" stroke-width="0.2">2</tspan><tspan dy="-16.7">O</tspan><tspan font-size="26.21" dy="16.7" stroke-width="0.2">2</tspan><tspan dy="-16.7"> + RASi</tspan></text>
</g>
<g id="plot4">
<g filter="url(#bl)">
<path d="M3128.4 217.8h4.4M3159.2 217.8h4.4M3110.8 222.2h4.4M3115.2 222.2h4.4M3124.0 222.2h4.4M3106.4 226.6h4.4M3159.2 226.6h4.4M3132.8 231.0h4.4M3159.2 231.0h4.4M3172.4 231.0h4.4M3124.0 235.4h4.4M3190.0 235.4h4.4M3102.0 239.8h4.4M3128.4 239.8h4.4M3146.0 239.8h4.4M3185.6 239.8h4.4M3110.8 244.2h4.4M3115.2 244.2h4.4M3146.0 244.2h4.4M3150.4 244.2h4.4M3154.8 244.2h4.4M3168.0 244.2h4.4M3181.2 244.2h4.4M3203.2 244.2h4.4M3066.8 248.6h4.4M3084.4 248.6h4.4M3088.8 248.6h4.4M3102.0 248.6h4.4M3106.4 248.6h4.4M3119.6 248.6h4.4M3146.0 248.6h4.4M3159.2 248.6h4.4M3163.6 248.6h4.4M3168.0 248.6h4.4M3181.2 248.6h4.4M3075.6 253.0h4.4M3088.8 253.0h4.4M3097.6 253.0h4.4M3106.4 253.0h4.4M3110.8 253.0h4.4M3115.2 253.0h4.4M3146.0 253.0h4.4M3163.6 253.0h4.4M3168.0 253.0h4.4M3190.0 253.0h4.4M3198.8 253.0h4.4M3110.8 257.4h4.4M3128.4 257.4h4.4M3137.2 257.4h4.4M3141.6 257.4h4.4M3150.4 257.4h4.4M3159.2 257.4h4.4M3168.0 257.4h4.4M3181.2 257.4h4.4M3049.2 261.8h4.4M3071.2 261.8h4.4M3093.2 261.8h4.4M3097.6 261.8h4.4M3102.0 261.8h4.4M3106.4 261.8h4.4M3124.0 261.8h4.4M3128.4 261.8h4.4M3137.2 261.8h4.4M3150.4 261.8h4.4M3172.4 261.8h4.4M3176.8 261.8h4.4M3181.2 261.8h4.4M3185.6 261.8h4.4M3049.2 266.2h4.4M3110.8 266.2h4.4M3137.2 266.2h4.4M3146.0 266.2h4.4M3185.6 266.2h4.4M3194.4 266.2h4.4M3080.0 270.6h4.4M3128.4 270.6h4.4M3150.4 270.6h4.4M3181.2 270.6h4.4M3084.4 275.0h4.4M3088.8 275.0h4.4M3093.2 275.0h4.4M3106.4 275.0h4.4M3150.4 275.0h4.4M3207.6 275.0h4.4M3062.4 279.4h4.4M3075.6 279.4h4.4M3084.4 279.4h4.4M3137.2 279.4h4.4M3150.4 279.4h4.4M3163.6 279.4h4.4M3168.0 279.4h4.4M3185.6 279.4h4.4M3075.6 283.8h4.4M3080.0 283.8h4.4M3093.2 283.8h4.4M3146.0 283.8h4.4M3044.8 288.2h4.4M3071.2 288.2h4.4M3075.6 288.2h4.4M3080.0 288.2h4.4M3088.8 288.2h4.4M3168.0 288.2h4.4M3176.8 288.2h4.4M3027.2 292.6h4.4M3088.8 292.6h4.4M3137.2 292.6h4.4M3150.4 292.6h4.4M3154.8 292.6h4.4M3163.6 292.6h4.4M3172.4 292.6h4.4M3058.0 297.0h4.4M3075.6 297.0h4.4M3163.6 297.0h4.4M3168.0 297.0h4.4M3088.8 301.4h4.4M3141.6 301.4h4.4M3146.0 301.4h4.4M3159.2 301.4h4.4M3176.8 301.4h4.4M3216.4 301.4h4.4M3066.8 305.8h4.4M3084.4 305.8h4.4M3093.2 305.8h4.4M3097.6 305.8h4.4M3102.0 305.8h4.4M3066.8 310.2h4.4M3075.6 310.2h4.4M3093.2 310.2h4.4M3097.6 310.2h4.4M3124.0 310.2h4.4M3137.2 310.2h4.4M3150.4 310.2h4.4M3172.4 310.2h4.4M3075.6 314.6h4.4M3088.8 314.6h4.4M3097.6 314.6h4.4M3102.0 314.6h4.4M3128.4 314.6h4.4M3137.2 314.6h4.4M3150.4 314.6h4.4M3159.2 314.6h4.4M3163.6 314.6h4.4M3172.4 314.6h4.4M3075.6 319.0h4.4M3088.8 319.0h4.4M3119.6 319.0h4.4M3132.8 319.0h4.4M3141.6 319.0h4.4M3150.4 319.0h4.4M3154.8 319.0h4.4M3066.8 323.4h4.4M3080.0 323.4h4.4M3084.4 323.4h4.4M3088.8 323.4h4.4M3097.6 323.4h4.4M3110.8 323.4h4.4M3115.2 323.4h4.4M3128.4 323.4h4.4M3146.0 323.4h4.4M3080.0 327.8h4.4M3093.2 327.8h4.4M3102.0 327.8h4.4M3119.6 327.8h4.4M3128.4 327.8h4.4M3150.4 327.8h4.4M3084.4 332.2h4.4M3097.6 332.2h4.4M3102.0 332.2h4.4M3106.4 332.2h4.4M3115.2 332.2h4.4M3119.6 332.2h4.4M3128.4 332.2h4.4M3146.0 332.2h4.4M3150.4 336.6h4.4M3075.6 341.0h4.4M3128.4 341.0h4.4M3093.2 345.4h4.4M3124.0 354.2h4.4" stroke="#000" stroke-opacity="0.05" stroke-width="4.4" fill="none"/>
<path d="M3106.4 244.2h4.4M3137.2 244.2h4.4M3102.0 253.0h4.4M3124.0 253.0h4.4M3128.4 253.0h4.4M3137.2 253.0h4.4M3084.4 261.8h4.4M3088.8 261.8h4.4M3115.2 261.8h4.4M3119.6 261.8h4.4M3154.8 261.8h4.4M3106.4 266.2h4.4M3115.2 266.2h4.4M3141.6 266.2h4.4M3150.4 266.2h4.4M3154.8 266.2h4.4M3159.2 266.2h4.4M3168.0 266.2h4.4M3088.8 270.6h4.4M3097.6 270.6h4.4M3119.6 270.6h4.4M3124.0 270.6h4.4M3141.6 270.6h4.4M3172.4 270.6h4.4M3071.2 275.0h4.4M3097.6 275.0h4.4M3115.2 275.0h4.4M3124.0 275.0h4.4M3146.0 275.0h4.4M3168.0 275.0h4.4M3093.2 279.4h4.4M3102.0 279.4h4.4M3132.8 279.4h4.4M3141.6 279.4h4.4M3088.8 283.8h4.4M3137.2 283.8h4.4M3141.6 283.8h4.4M3159.2 283.8h4.4M3084.4 288.2h4.4M3146.0 288.2h4.4M3163.6 288.2h4.4M3106.4 292.6h4.4M3124.0 292.6h4.4M3141.6 292.6h4.4M3185.6 292.6h4.4M3084.4 297.0h4.4M3097.6 297.0h4.4M3106.4 297.0h4.4M3176.8 297.0h4.4M3044.8 301.4h4.4M3066.8 301.4h4.4M3071.2 301.4h4.4M3075.6 301.4h4.4M3097.6 301.4h4.4M3110.8 301.4h4.4M3110.8 305.8h4.4M3080.0 310.2h4.4M3088.8 310.2h4.4M3102.0 310.2h4.4M3106.4 310.2h4.4M3115.2 310.2h4.4M3132.8 310.2h4.4M3071.2 314.6h4.4M3080.0 314.6h4.4M3084.4 314.6h4.4M3093.2 314.6h4.4M3106.4 314.6h4.4M3124.0 314.6h4.4M3141.6 314.6h4.4M3097.6 319.0h4.4M3102.0 323.4h4.4M3106.4 323.4h4.4M3106.4 327.8h4.4M3115.2 327.8h4.4M3137.2 332.2h4.4" stroke="#000" stroke-opacity="0.1" stroke-width="4.4" fill="none"/>
<path d="M3115.2 257.4h4.4M3124.0 257.4h4.4M3154.8 257.4h4.4M3132.8 261.8h4.4M3141.6 261.8h4.4M3128.4 266.2h4.4M3132.8 266.2h4.4M3163.6 266.2h4.4M3093.2 270.6h4.4M3146.0 270.6h4.4M3102.0 275.0h4.4M3132.8 275.0h4.4M3159.2 275.0h4.4M3097.6 279.4h4.4M3106.4 279.4h4.4M3154.8 279.4h4.4M3097.6 283.8h4.4M3115.2 283.8h4.4M3150.4 283.8h4.4M3093.2 288.2h4.4M3097.6 288.2h4.4M3110.8 288.2h4.4M3128.4 288.2h4.4M3137.2 288.2h4.4M3080.0 292.6h4.4M3093.2 292.6h4.4M3097.6 292.6h4.4M3146.0 292.6h4.4M3080.0 297.0h4.4M3093.2 297.0h4.4M3146.0 297.0h4.4M3150.4 297.0h4.4M3093.2 301.4h4.4M3106.4 301.4h4.4M3137.2 301.4h4.4M3075.6 305.8h4.4M3128.4 305.8h4.4M3141.6 305.8h4.4M3146.0 305.8h4.4M3110.8 310.2h4.4M3128.4 310.2h4.4M3110.8 314.6h4.4M3146.0 314.6h4.4M3106.4 319.0h4.4M3110.8 319.0h4.4" stroke="#000" stroke-opacity="0.15" stroke-width="4.4" fill="none"/>
<path d="M3097.6 266.2h4.4M3124.0 266.2h4.4M3102.0 270.6h4.4M3106.4 270.6h4.4M3110.8 270.6h4.4M3115.2 270.6h4.4M3132.8 270.6h4.4M3110.8 275.0h4.4M3119.6 275.0h4.4M3128.4 275.0h4.4M3137.2 275.0h4.4M3141.6 275.0h4.4M3110.8 279.4h4.4M3115.2 279.4h4.4M3119.6 279.4h4.4M3124.0 279.4h4.4M3128.4 279.4h4.4M3146.0 279.4h4.4M3084.4 283.8h4.4M3102.0 283.8h4.4M3106.4 283.8h4.4M3110.8 283.8h4.4M3119.6 283.8h4.4M3124.0 283.8h4.4M3132.8 283.8h4.4M3102.0 288.2h4.4M3106.4 288.2h4.4M3115.2 288.2h4.4M3119.6 288.2h4.4M3124.0 288.2h4.4M3132.8 288.2h4.4M3141.6 288.2h4.4M3150.4 288.2h4.4M3084.4 292.6h4.4M3102.0 292.6h4.4M3110.8 292.6h4.4M3115.2 292.6h4.4M3119.6 292.6h4.4M3128.4 292.6h4.4M3132.8 292.6h4.4M3088.8 297.0h4.4M3102.0 297.0h4.4M3110.8 297.0h4.4M3115.2 297.0h4.4M3119.6 297.0h4.4M3124.0 297.0h4.4M3128.4 297.0h4.4M3132.8 297.0h4.4M3137.2 297.0h4.4M3141.6 297.0h4.4M3084.4 301.4h4.4M3102.0 301.4h4.4M3115.2 301.4h4.4M3119.6 301.4h4.4M3124.0 301.4h4.4M3128.4 301.4h4.4M3132.8 301.4h4.4M3106.4 305.8h4.4M3115.2 305.8h4.4M3124.0 305.8h4.4M3132.8 305.8h4.4M3119.6 310.2h4.4" stroke="#000" stroke-opacity="0.17" stroke-width="4.4" fill="none"/>
<path d="M3027.2 275.0h4.4M3014.0 283.8h4.4M3031.6 283.8h4.4M3022.8 292.6h4.4M3022.8 297.0h4.4M3027.2 297.0h4.4M3036.0 301.4h4.4M3053.6 301.4h4.4M3018.4 310.2h4.4M3044.8 310.2h4.4M3031.6 314.6h4.4M3040.4 314.6h4.4M3053.6 314.6h4.4M3027.2 345.4h4.4M3088.8 345.4h4.4M3093.2 345.4h4.4M3106.4 345.4h4.4M3141.6 345.4h4.4M3159.2 345.4h4.4M3168.0 345.4h4.4M3027.2 349.8h4.4M3040.4 349.8h4.4M3044.8 349.8h4.4M3172.4 349.8h4.4M3190.0 349.8h4.4M3014.0 354.2h4.4M3036.0 354.2h4.4M3066.8 354.2h4.4M3119.6 354.2h4.4M3124.0 354.2h4.4M3132.8 354.2h4.4M3150.4 354.2h4.4M3190.0 354.2h4.4M3194.4 354.2h4.4M3040.4 358.6h4.4M3115.2 358.6h4.4M3128.4 358.6h4.4M3137.2 363.0h4.4M3146.0 363.0h4.4M3150.4 363.0h4.4M3172.4 363.0h4.4M3110.8 367.4h4.4M3150.4 367.4h4.4M2939.2 371.8h4.4M3163.6 371.8h4.4M3115.2 376.2h4.4M3018.4 380.6h4.4M3049.2 380.6h4.4M3084.4 380.6h4.4M3124.0 380.6h4.4M3066.8 385.0h4.4M3168.0 385.0h4.4M3027.2 389.4h4.4M3088.8 389.4h4.4M3119.6 389.4h4.4M3176.8 389.4h4.4M3080.0 393.8h4.4M3093.2 393.8h4.4M3141.6 393.8h4.4M3146.0 393.8h4.4M3176.8 393.8h4.4M3071.2 398.2h4.4M3093.2 398.2h4.4M3106.4 398.2h4.4M3141.6 398.2h4.4M3159.2 398.2h4.4M3163.6 398.2h4.4M3190.0 398.2h4.4M2908.4 402.6h4.4M2912.8 402.6h4.4M3058.0 402.6h4.4M3066.8 402.6h4.4M3119.6 402.6h4.4M3185.6 402.6h4.4M3044.8 407.0h4.4M3058.0 407.0h4.4M3071.2 407.0h4.4M3137.2 407.0h4.4M2886.4 411.4h4.4M2978.8 411.4h4.4M3040.4 411.4h4.4M3080.0 411.4h4.4M3084.4 411.4h4.4M3124.0 411.4h4.4M3132.8 411.4h4.4M3137.2 411.4h4.4M3022.8 415.8h4.4M3027.2 415.8h4.4M3044.8 415.8h4.4M3066.8 415.8h4.4M3097.6 415.8h4.4M3132.8 415.8h4.4M2868.8 420.2h4.4M2899.6 420.2h4.4M2930.4 420.2h4.4M3066.8 420.2h4.4M3110.8 420.2h4.4M3137.2 420.2h4.4M2895.2 424.6h4.4M2917.2 424.6h4.4M2987.6 424.6h4.4M3027.2 424.6h4.4M3040.4 424.6h4.4M3075.6 424.6h4.4M3106.4 424.6h4.4M3128.4 424.6h4.4M3176.8 424.6h4.4M2912.8 429.0h4.4M2943.6 429.0h4.4M2992.0 429.0h4.4M3106.4 429.0h4.4M2824.8 433.4h4.4M2860.0 433.4h4.4M2873.2 433.4h4.4M2930.4 433.4h4.4M2934.8 433.4h4.4M2956.8 433.4h4.4M3049.2 433.4h4.4M3053.6 433.4h4.4M3088.8 433.4h4.4M2886.4 437.8h4.4M2908.4 437.8h4.4M2926.0 437.8h4.4M2934.8 437.8h4.4M2939.2 437.8h4.4M2824.8 442.2h4.4M2842.4 442.2h4.4M2890.8 442.2h4.4M2926.0 442.2h4.4M3000.8 442.2h4.4M3018.4 442.2h4.4M3106.4 442.2h4.4M3124.0 442.2h4.4M3132.8 442.2h4.4M2895.2 446.6h4.4M2952.4 446.6h4.4M3031.6 446.6h4.4M3036.0 446.6h4.4M3084.4 446.6h4.4M2965.6 451.0h4.4M2978.8 451.0h4.4M2992.0 451.0h4.4M2996.4 451.0h4.4M3014.0 451.0h4.4M3027.2 451.0h4.4M3036.0 451.0h4.4M3044.8 451.0h4.4M3159.2 451.0h4.4M2921.6 455.4h4.4M2956.8 455.4h4.4M2961.2 455.4h4.4M3036.0 455.4h4.4M3058.0 455.4h4.4M3062.4 455.4h4.4M3075.6 455.4h4.4M3119.6 455.4h4.4M3124.0 455.4h4.4M2873.2 459.8h4.4M2934.8 459.8h4.4M2978.8 459.8h4.4M3000.8 459.8h4.4M3036.0 459.8h4.4M3044.8 459.8h4.4M3080.0 459.8h4.4M2846.8 464.2h4.4M2943.6 464.2h4.4M2983.2 464.2h4.4M2996.4 464.2h4.4M3014.0 464.2h4.4M3027.2 464.2h4.4M3071.2 464.2h4.4M2846.8 468.6h4.4M2943.6 468.6h4.4M2948.0 468.6h4.4M2974.4 468.6h4.4M2996.4 468.6h4.4M3027.2 468.6h4.4M3084.4 468.6h4.4M3097.6 468.6h4.4M3102.0 468.6h4.4M2838.0 473.0h4.4M2860.0 473.0h4.4M2952.4 473.0h4.4M2974.4 473.0h4.4M3031.6 473.0h4.4M3075.6 473.0h4.4M2987.6 477.4h4.4M3005.2 477.4h4.4M2838.0 481.8h4.4M2908.4 481.8h4.4M2943.6 481.8h4.4M3031.6 481.8h4.4M3036.0 481.8h4.4M3058.0 481.8h4.4M3080.0 481.8h4.4M3097.6 481.8h4.4M3102.0 481.8h4.4M3128.4 481.8h4.4M2855.6 486.2h4.4M2965.6 486.2h4.4M2996.4 486.2h4.4M3071.2 486.2h4.4M2824.8 490.6h4.4M2956.8 490.6h4.4M3000.8 490.6h4.4M3009.6 490.6h4.4M3053.6 490.6h4.4M3093.2 490.6h4.4M2824.8 495.0h4.4M2838.0 495.0h4.4M2996.4 495.0h4.4M3009.6 495.0h4.4M3014.0 495.0h4.4M3018.4 495.0h4.4M3036.0 495.0h4.4M3084.4 495.0h4.4M2776.4 499.4h4.4M2820.4 499.4h4.4M2978.8 499.4h4.4M2992.0 499.4h4.4M3009.6 499.4h4.4M3014.0 499.4h4.4M3018.4 499.4h4.4M2833.6 503.8h4.4M2961.2 503.8h4.4M2992.0 503.8h4.4M3062.4 503.8h4.4M3088.8 503.8h4.4M2974.4 508.2h4.4M3027.2 508.2h4.4M3044.8 508.2h4.4M2824.8 512.6h4.4M2983.2 512.6h4.4M3027.2 512.6h4.4M3036.0 512.6h4.4M2816.0 517.0h4.4M2952.4 517.0h4.4M3000.8 517.0h4.4M3022.8 517.0h4.4M2794.0 521.4h4.4M2816.0 521.4h4.4M2965.6 521.4h4.4M2987.6 521.4h4.4M2996.4 521.4h4.4M3053.6 521.4h4.4M2829.2 525.8h4.4M2930.4 525.8h4.4M2939.2 525.8h4.4M3031.6 525.8h4.4M2824.8 530.2h4.4M2943.6 530.2h4.4M2974.4 530.2h4.4M3062.4 530.2h4.4M2776.4 534.6h4.4M2961.2 534.6h4.4M3018.4 534.6h4.4M3102.0 534.6h4.4M2930.4 539.0h4.4M2970.0 539.0h4.4M2983.2 539.0h4.4M3027.2 539.0h4.4M3031.6 539.0h4.4M2789.6 543.4h4.4M2833.6 543.4h4.4M2930.4 543.4h4.4M2970.0 543.4h4.4M2978.8 543.4h4.4M2983.2 543.4h4.4M2794.0 547.8h4.4M2807.2 547.8h4.4M2811.6 547.8h4.4M2820.4 547.8h4.4M2838.0 547.8h4.4M3009.6 547.8h4.4M3014.0 547.8h4.4M2912.8 552.2h4.4M2921.6 552.2h4.4M2926.0 552.2h4.4M2930.4 552.2h4.4M2970.0 552.2h4.4M2908.4 556.6h4.4M2961.2 556.6h4.4M2965.6 556.6h4.4M2978.8 556.6h4.4M2860.0 561.0h4.4M2908.4 561.0h4.4M2974.4 561.0h4.4M2868.8 565.4h4.4M2899.6 565.4h4.4M2816.0 569.8h4.4M2855.6 569.8h4.4M2890.8 569.8h4.4M2802.8 574.2h4.4M2820.4 574.2h4.4M2952.4 574.2h4.4M2886.4 578.6h4.4M2974.4 578.6h4.4M2776.4 583.0h4.4M2882.0 583.0h4.4M2934.8 583.0h4.4M3009.6 583.0h4.4M2811.6 587.4h4.4M2855.6 587.4h4.4M2983.2 587.4h4.4M2842.4 591.8h4.4M2829.2 596.2h4.4M2873.2 596.2h4.4M2873.2 600.6h4.4M2838.0 605.0h4.4M2864.4 605.0h4.4M2842.4 609.4h4.4M2882.0 609.4h4.4M2780.8 613.8h4.4M2829.2 618.2h4.4M2833.6 618.2h4.4M2886.4 622.6h4.4M2802.8 627.0h4.4M2864.4 627.0h4.4M2860.0 649.0h4.4M2877.6 653.4h4.4M2899.6 666.6h4.4M2882.0 675.4h4.4M2855.6 679.8h4.4M2877.6 693.0h4.4M2886.4 693.0h4.4M2882.0 697.4h4.4M2912.8 706.2h4.4M2824.8 715.0h4.4M2890.8 719.4h4.4" stroke="#000" stroke-opacity="0.3" stroke-width="4.4" fill="none"/>
<path d="M3049.2 257.4h4.4M3036.0 279.4h4.4M3075.6 279.4h4.4M3049.2 283.8h4.4M3031.6 288.2h4.4M3044.8 288.2h4.4M3031.6 292.6h4.4M3031.6 301.4h4.4M3014.0 305.8h4.4M3027.2 305.8h4.4M3071.2 305.8h4.4M3005.2 310.2h4.4M3018.4 314.6h4.4M3036.0 314.6h4.4M3066.8 314.6h4.4M3053.6 327.8h4.4M3022.8 336.6h4.4M3115.2 341.0h4.4M3022.8 345.4h4.4M3115.2 345.4h4.4M3146.0 349.8h4.4M3040.4 354.2h4.4M3044.8 354.2h4.4M3080.0 354.2h4.4M3141.6 354.2h4.4M3159.2 354.2h4.4M3084.4 358.6h4.4M3093.2 358.6h4.4M3146.0 358.6h4.4M3150.4 358.6h4.4M3185.6 358.6h4.4M3097.6 363.0h4.4M3115.2 363.0h4.4M3172.4 367.4h4.4M3132.8 371.8h4.4M3110.8 376.2h4.4M3097.6 380.6h4.4M3119.6 380.6h4.4M2926.0 385.0h4.4M2996.4 385.0h4.4M3040.4 385.0h4.4M3115.2 385.0h4.4M3128.4 385.0h4.4M3154.8 385.0h4.4M3102.0 389.4h4.4M3141.6 389.4h4.4M2890.8 393.8h4.4M3005.2 393.8h4.4M3044.8 393.8h4.4M3128.4 393.8h4.4M3137.2 393.8h4.4M3172.4 393.8h4.4M3080.0 398.2h4.4M3018.4 402.6h4.4M3080.0 402.6h4.4M3084.4 402.6h4.4M3124.0 402.6h4.4M3150.4 402.6h4.4M3031.6 407.0h4.4M3053.6 407.0h4.4M3093.2 407.0h4.4M3124.0 407.0h4.4M3036.0 411.4h4.4M3075.6 411.4h4.4M3093.2 411.4h4.4M2956.8 415.8h4.4M3058.0 415.8h4.4M3110.8 415.8h4.4M3027.2 420.2h4.4M3044.8 420.2h4.4M3084.4 420.2h4.4M3088.8 420.2h4.4M3093.2 420.2h4.4M3132.8 420.2h4.4M3163.6 420.2h4.4M2882.0 424.6h4.4M2899.6 424.6h4.4M2912.8 424.6h4.4M3053.6 424.6h4.4M3093.2 424.6h4.4M2996.4 429.0h4.4M3014.0 429.0h4.4M3053.6 429.0h4.4M3066.8 429.0h4.4M3088.8 429.0h4.4M3141.6 429.0h4.4M2864.4 433.4h4.4M2899.6 433.4h4.4M2904.0 433.4h4.4M2912.8 433.4h4.4M3009.6 433.4h4.4M3036.0 433.4h4.4M3062.4 433.4h4.4M3071.2 433.4h4.4M3128.4 433.4h4.4M3190.0 433.4h4.4M2904.0 437.8h4.4M2952.4 437.8h4.4M3027.2 437.8h4.4M3049.2 437.8h4.4M3066.8 437.8h4.4M3084.4 437.8h4.4M2860.0 442.2h4.4M2943.6 442.2h4.4M3009.6 442.2h4.4M3049.2 442.2h4.4M3053.6 442.2h4.4M2816.0 446.6h4.4M2882.0 446.6h4.4M2899.6 446.6h4.4M2912.8 446.6h4.4M2926.0 446.6h4.4M2992.0 446.6h4.4M3000.8 446.6h4.4M3022.8 446.6h4.4M3040.4 446.6h4.4M3066.8 446.6h4.4M3106.4 446.6h4.4M2846.8 451.0h4.4M2851.2 451.0h4.4M2882.0 451.0h4.4M2890.8 451.0h4.4M2934.8 451.0h4.4M2943.6 451.0h4.4M2948.0 451.0h4.4M2961.2 451.0h4.4M3022.8 451.0h4.4M3031.6 451.0h4.4M3049.2 451.0h4.4M3080.0 451.0h4.4M3084.4 451.0h4.4M3093.2 451.0h4.4M3102.0 451.0h4.4M2846.8 455.4h4.4M2855.6 455.4h4.4M2926.0 455.4h4.4M2965.6 455.4h4.4M2987.6 455.4h4.4M3031.6 455.4h4.4M3044.8 455.4h4.4M3088.8 455.4h4.4M3110.8 455.4h4.4M3128.4 455.4h4.4M2886.4 459.8h4.4M2939.2 459.8h4.4M2961.2 459.8h4.4M3049.2 459.8h4.4M3093.2 459.8h4.4M3102.0 459.8h4.4M3115.2 459.8h4.4M2864.4 464.2h4.4M2948.0 464.2h4.4M2952.4 464.2h4.4M2970.0 464.2h4.4M3022.8 464.2h4.4M3058.0 464.2h4.4M3084.4 464.2h4.4M3088.8 464.2h4.4M2855.6 468.6h4.4M2868.8 468.6h4.4M2939.2 468.6h4.4M3115.2 468.6h4.4M2811.6 473.0h4.4M2851.2 473.0h4.4M3022.8 473.0h4.4M3036.0 473.0h4.4M3071.2 473.0h4.4M3146.0 473.0h4.4M2820.4 477.4h4.4M2846.8 477.4h4.4M2952.4 477.4h4.4M2996.4 477.4h4.4M3009.6 477.4h4.4M3031.6 477.4h4.4M3036.0 477.4h4.4M3040.4 477.4h4.4M3071.2 477.4h4.4M3084.4 477.4h4.4M2948.0 481.8h4.4M2970.0 481.8h4.4M2983.2 481.8h4.4M3009.6 481.8h4.4M3088.8 481.8h4.4M2833.6 486.2h4.4M2956.8 486.2h4.4M3093.2 486.2h4.4M2816.0 490.6h4.4M2833.6 490.6h4.4M2987.6 490.6h4.4M3014.0 490.6h4.4M3058.0 490.6h4.4M3080.0 490.6h4.4M2820.4 495.0h4.4M2943.6 495.0h4.4M2974.4 495.0h4.4M2978.8 495.0h4.4M3066.8 495.0h4.4M2934.8 499.4h4.4M3022.8 499.4h4.4M3066.8 499.4h4.4M3071.2 499.4h4.4M2965.6 503.8h4.4M2974.4 503.8h4.4M3014.0 503.8h4.4M3044.8 503.8h4.4M3097.6 503.8h4.4M2952.4 508.2h4.4M2996.4 508.2h4.4M3005.2 508.2h4.4M3009.6 508.2h4.4M3014.0 508.2h4.4M3097.6 508.2h4.4M2948.0 512.6h4.4M2965.6 512.6h4.4M3000.8 512.6h4.4M3062.4 512.6h4.4M3150.4 512.6h4.4M2798.4 517.0h4.4M2961.2 517.0h4.4M2965.6 517.0h4.4M2978.8 517.0h4.4M2943.6 521.4h4.4M2952.4 521.4h4.4M2983.2 521.4h4.4M3000.8 521.4h4.4M3027.2 521.4h4.4M2970.0 525.8h4.4M2987.6 525.8h4.4M3115.2 525.8h4.4M2939.2 530.2h4.4M2820.4 534.6h4.4M2921.6 534.6h4.4M2934.8 534.6h4.4M2943.6 534.6h4.4M3049.2 534.6h4.4M2794.0 539.0h4.4M2807.2 539.0h4.4M2952.4 539.0h4.4M3018.4 539.0h4.4M2824.8 543.4h4.4M2965.6 543.4h4.4M3005.2 543.4h4.4M3027.2 543.4h4.4M2785.2 547.8h4.4M2917.2 547.8h4.4M2921.6 547.8h4.4M2943.6 547.8h4.4M2824.8 552.2h4.4M2833.6 552.2h4.4M2978.8 552.2h4.4M2895.2 556.6h4.4M2904.0 556.6h4.4M2912.8 556.6h4.4M2917.2 556.6h4.4M2992.0 556.6h4.4M3009.6 556.6h4.4M2807.2 561.0h4.4M2886.4 561.0h4.4M2904.0 561.0h4.4M2996.4 561.0h4.4M2842.4 565.4h4.4M2851.2 565.4h4.4M2860.0 565.4h4.4M2908.4 565.4h4.4M2807.2 569.8h4.4M2838.0 569.8h4.4M2868.8 569.8h4.4M2930.4 569.8h4.4M2943.6 569.8h4.4M2824.8 574.2h4.4M2855.6 574.2h4.4M2860.0 574.2h4.4M2864.4 574.2h4.4M2868.8 574.2h4.4M2877.6 574.2h4.4M2890.8 574.2h4.4M2829.2 578.6h4.4M2846.8 578.6h4.4M2851.2 578.6h4.4M2860.0 578.6h4.4M2908.4 578.6h4.4M2934.8 578.6h4.4M2820.4 583.0h4.4M2838.0 583.0h4.4M2855.6 583.0h4.4M2877.6 583.0h4.4M2877.6 587.4h4.4M2921.6 587.4h4.4M2956.8 587.4h4.4M2974.4 587.4h4.4M2833.6 591.8h4.4M2860.0 591.8h4.4M2811.6 596.2h4.4M2846.8 600.6h4.4M2860.0 600.6h4.4M2877.6 600.6h4.4M2860.0 605.0h4.4M2882.0 605.0h4.4M2886.4 605.0h4.4M2846.8 609.4h4.4M2864.4 609.4h4.4M2904.0 609.4h4.4M2864.4 613.8h4.4M2886.4 613.8h4.4M2824.8 618.2h4.4M2820.4 622.6h4.4M2860.0 622.6h4.4M2846.8 627.0h4.4M2882.0 631.4h4.4M2895.2 635.8h4.4M2838.0 644.6h4.4M2842.4 644.6h4.4M2868.8 644.6h4.4M2877.6 649.0h4.4M2873.2 653.4h4.4M2750.0 657.8h4.4M2868.8 657.8h4.4M2864.4 675.4h4.4M2829.2 684.2h4.4" stroke="#000" stroke-opacity="0.55" stroke-width="4.4" fill="none"/>
<path d="M3168.0 257.4h4.4M3172.4 257.4h4.4M3036.0 275.0h4.4M3027.2 292.6h4.4M3049.2 292.6h4.4M3005.2 297.0h4.4M3075.6 301.4h4.4M3044.8 305.8h4.4M2970.0 310.2h4.4M3040.4 310.2h4.4M3009.6 319.0h4.4M2917.2 327.8h4.4M3018.4 327.8h4.4M3027.2 327.8h4.4M3040.4 327.8h4.4M2895.2 332.2h4.4M3036.0 332.2h4.4M2974.4 341.0h4.4M2948.0 345.4h4.4M3062.4 345.4h4.4M3146.0 345.4h4.4M3198.8 345.4h4.4M2996.4 349.8h4.4M3058.0 349.8h4.4M3071.2 349.8h4.4M3075.6 349.8h4.4M3176.8 349.8h4.4M3225.2 349.8h4.4M3027.2 354.2h4.4M3049.2 354.2h4.4M3084.4 354.2h4.4M3106.4 354.2h4.4M3128.4 354.2h4.4M3137.2 354.2h4.4M3075.6 358.6h4.4M3088.8 358.6h4.4M3097.6 358.6h4.4M3110.8 358.6h4.4M3119.6 358.6h4.4M3159.2 358.6h4.4M3181.2 358.6h4.4M3009.6 363.0h4.4M3053.6 363.0h4.4M3084.4 363.0h4.4M3128.4 363.0h4.4M3106.4 367.4h4.4M3146.0 367.4h4.4M3040.4 371.8h4.4M3084.4 371.8h4.4M3128.4 371.8h4.4M3159.2 371.8h4.4M3168.0 371.8h4.4M3172.4 371.8h4.4M2895.2 376.2h4.4M3141.6 376.2h4.4M2970.0 380.6h4.4M3066.8 380.6h4.4M3080.0 380.6h4.4M3102.0 380.6h4.4M3163.6 380.6h4.4M3220.8 380.6h4.4M2912.8 385.0h4.4M3097.6 385.0h4.4M3102.0 385.0h4.4M3106.4 385.0h4.4M3137.2 385.0h4.4M3031.6 389.4h4.4M3084.4 389.4h4.4M3163.6 389.4h4.4M3106.4 393.8h4.4M3115.2 393.8h4.4M3168.0 393.8h4.4M2996.4 398.2h4.4M3097.6 398.2h4.4M3115.2 398.2h4.4M3119.6 398.2h4.4M3154.8 398.2h4.4M3198.8 398.2h4.4M2996.4 402.6h4.4M3014.0 402.6h4.4M3022.8 402.6h4.4M3044.8 402.6h4.4M3053.6 402.6h4.4M3102.0 402.6h4.4M3141.6 402.6h4.4M3146.0 402.6h4.4M3159.2 402.6h4.4M2855.6 407.0h4.4M2965.6 407.0h4.4M3075.6 407.0h4.4M3084.4 407.0h4.4M3115.2 407.0h4.4M2860.0 411.4h4.4M3058.0 411.4h4.4M3102.0 411.4h4.4M3159.2 411.4h4.4M2816.0 415.8h4.4M2952.4 415.8h4.4M3000.8 415.8h4.4M3009.6 415.8h4.4M3049.2 415.8h4.4M3062.4 415.8h4.4M3075.6 415.8h4.4M3093.2 415.8h4.4M3159.2 415.8h4.4M3062.4 420.2h4.4M3071.2 420.2h4.4M3115.2 420.2h4.4M3154.8 420.2h4.4M2934.8 424.6h4.4M2956.8 424.6h4.4M3031.6 424.6h4.4M3049.2 424.6h4.4M3080.0 424.6h4.4M3088.8 424.6h4.4M3097.6 424.6h4.4M3102.0 424.6h4.4M3119.6 424.6h4.4M2780.8 429.0h4.4M2899.6 429.0h4.4M2930.4 429.0h4.4M2934.8 429.0h4.4M2952.4 429.0h4.4M3018.4 429.0h4.4M3031.6 429.0h4.4M3044.8 429.0h4.4M3093.2 429.0h4.4M3097.6 429.0h4.4M3172.4 429.0h4.4M2895.2 433.4h4.4M2908.4 433.4h4.4M3066.8 433.4h4.4M3075.6 433.4h4.4M3097.6 433.4h4.4M3119.6 433.4h4.4M2890.8 437.8h4.4M2930.4 437.8h4.4M2956.8 437.8h4.4M3009.6 437.8h4.4M3022.8 437.8h4.4M3036.0 437.8h4.4M3062.4 437.8h4.4M3075.6 437.8h4.4M3106.4 437.8h4.4M3124.0 437.8h4.4M2886.4 442.2h4.4M2904.0 442.2h4.4M2917.2 442.2h4.4M3005.2 442.2h4.4M3014.0 442.2h4.4M3031.6 442.2h4.4M3036.0 442.2h4.4M3058.0 442.2h4.4M3066.8 442.2h4.4M3071.2 442.2h4.4M3075.6 442.2h4.4M2820.4 446.6h4.4M2934.8 446.6h4.4M2961.2 446.6h4.4M2978.8 446.6h4.4M2987.6 446.6h4.4M3005.2 446.6h4.4M3027.2 446.6h4.4M3044.8 446.6h4.4M3049.2 446.6h4.4M3053.6 446.6h4.4M3071.2 446.6h4.4M3093.2 446.6h4.4M3102.0 446.6h4.4M2873.2 451.0h4.4M2886.4 451.0h4.4M2939.2 451.0h4.4M2987.6 451.0h4.4M3000.8 451.0h4.4M3005.2 451.0h4.4M3062.4 451.0h4.4M3066.8 451.0h4.4M3075.6 451.0h4.4M3088.8 451.0h4.4M3110.8 451.0h4.4M3141.6 451.0h4.4M2877.6 455.4h4.4M2882.0 455.4h4.4M2886.4 455.4h4.4M2904.0 455.4h4.4M2908.4 455.4h4.4M2934.8 455.4h4.4M3005.2 455.4h4.4M3014.0 455.4h4.4M3018.4 455.4h4.4M3027.2 455.4h4.4M3066.8 455.4h4.4M3080.0 455.4h4.4M3097.6 455.4h4.4M3102.0 455.4h4.4M3106.4 455.4h4.4M2877.6 459.8h4.4M2895.2 459.8h4.4M2930.4 459.8h4.4M2948.0 459.8h4.4M2992.0 459.8h4.4M3018.4 459.8h4.4M3066.8 459.8h4.4M3088.8 459.8h4.4M3132.8 459.8h4.4M2987.6 464.2h4.4M3044.8 464.2h4.4M3093.2 464.2h4.4M3124.0 464.2h4.4M3159.2 464.2h4.4M3176.8 464.2h4.4M2833.6 468.6h4.4M2851.2 468.6h4.4M2873.2 468.6h4.4M2952.4 468.6h4.4M2956.8 468.6h4.4M2992.0 468.6h4.4M3009.6 468.6h4.4M3022.8 468.6h4.4M3031.6 468.6h4.4M3036.0 468.6h4.4M3044.8 468.6h4.4M3053.6 468.6h4.4M3093.2 468.6h4.4M2855.6 473.0h4.4M2930.4 473.0h4.4M2956.8 473.0h4.4M2965.6 473.0h4.4M2970.0 473.0h4.4M3005.2 473.0h4.4M3014.0 473.0h4.4M3062.4 473.0h4.4M3097.6 473.0h4.4M3124.0 473.0h4.4M2961.2 477.4h4.4M2970.0 477.4h4.4M3027.2 477.4h4.4M3062.4 477.4h4.4M3080.0 477.4h4.4M3093.2 477.4h4.4M2860.0 481.8h4.4M2952.4 481.8h4.4M2956.8 481.8h4.4M2965.6 481.8h4.4M2987.6 481.8h4.4M3040.4 481.8h4.4M3062.4 481.8h4.4M3075.6 481.8h4.4M3106.4 481.8h4.4M2829.2 486.2h4.4M2842.4 486.2h4.4M2948.0 486.2h4.4M2952.4 486.2h4.4M2987.6 486.2h4.4M3014.0 486.2h4.4M3022.8 486.2h4.4M3075.6 486.2h4.4M3102.0 486.2h4.4M2842.4 490.6h4.4M2873.2 490.6h4.4M2948.0 490.6h4.4M2952.4 490.6h4.4M2983.2 490.6h4.4M2868.8 495.0h4.4M2983.2 495.0h4.4M2987.6 495.0h4.4M2992.0 495.0h4.4M3000.8 495.0h4.4M3027.2 495.0h4.4M3040.4 495.0h4.4M2829.2 499.4h4.4M2833.6 499.4h4.4M2838.0 499.4h4.4M2943.6 499.4h4.4M2961.2 499.4h4.4M2974.4 499.4h4.4M3005.2 499.4h4.4M3031.6 499.4h4.4M3049.2 499.4h4.4M3062.4 499.4h4.4M3124.0 499.4h4.4M2829.2 503.8h4.4M2842.4 503.8h4.4M2846.8 503.8h4.4M2864.4 503.8h4.4M2956.8 503.8h4.4M2987.6 503.8h4.4M3009.6 503.8h4.4M3040.4 503.8h4.4M2820.4 508.2h4.4M2838.0 508.2h4.4M2943.6 508.2h4.4M2956.8 508.2h4.4M2983.2 508.2h4.4M3000.8 508.2h4.4M3084.4 508.2h4.4M3137.2 508.2h4.4M2816.0 512.6h4.4M2829.2 512.6h4.4M2943.6 512.6h4.4M2974.4 512.6h4.4M2987.6 512.6h4.4M3009.6 512.6h4.4M2824.8 517.0h4.4M2934.8 517.0h4.4M3014.0 517.0h4.4M2811.6 521.4h4.4M2908.4 521.4h4.4M2978.8 521.4h4.4M2794.0 525.8h4.4M2820.4 525.8h4.4M2838.0 525.8h4.4M2956.8 525.8h4.4M2992.0 525.8h4.4M3027.2 525.8h4.4M2820.4 530.2h4.4M2829.2 530.2h4.4M2934.8 530.2h4.4M2948.0 530.2h4.4M2952.4 530.2h4.4M2767.6 534.6h4.4M2930.4 534.6h4.4M2965.6 534.6h4.4M2983.2 534.6h4.4M2987.6 534.6h4.4M3009.6 534.6h4.4M2829.2 539.0h4.4M2842.4 539.0h4.4M2873.2 539.0h4.4M2882.0 539.0h4.4M2943.6 539.0h4.4M2948.0 539.0h4.4M2996.4 539.0h4.4M3000.8 539.0h4.4M2811.6 543.4h4.4M2838.0 543.4h4.4M2912.8 543.4h4.4M2926.0 543.4h4.4M2952.4 543.4h4.4M2829.2 547.8h4.4M2842.4 547.8h4.4M2912.8 547.8h4.4M2952.4 547.8h4.4M2811.6 552.2h4.4M2838.0 552.2h4.4M2851.2 552.2h4.4M2899.6 552.2h4.4M2983.2 552.2h4.4M2820.4 556.6h4.4M2851.2 556.6h4.4M2921.6 556.6h4.4M2939.2 556.6h4.4M2956.8 556.6h4.4M2816.0 561.0h4.4M2824.8 561.0h4.4M2833.6 561.0h4.4M2842.4 561.0h4.4M2855.6 561.0h4.4M2882.0 561.0h4.4M2895.2 561.0h4.4M2912.8 561.0h4.4M2926.0 561.0h4.4M3014.0 561.0h4.4M2864.4 565.4h4.4M2895.2 565.4h4.4M2917.2 565.4h4.4M2939.2 565.4h4.4M2943.6 565.4h4.4M2833.6 569.8h4.4M2842.4 569.8h4.4M2846.8 569.8h4.4M2882.0 569.8h4.4M2899.6 569.8h4.4M2921.6 569.8h4.4M2846.8 574.2h4.4M2851.2 574.2h4.4M2921.6 574.2h4.4M2824.8 578.6h4.4M2864.4 578.6h4.4M2873.2 578.6h4.4M2877.6 578.6h4.4M2983.2 578.6h4.4M2842.4 583.0h4.4M2926.0 583.0h4.4M2833.6 587.4h4.4M2864.4 587.4h4.4M2882.0 587.4h4.4M2934.8 587.4h4.4M2776.4 591.8h4.4M2824.8 591.8h4.4M2895.2 591.8h4.4M2798.4 596.2h4.4M2846.8 596.2h4.4M2798.4 600.6h4.4M2868.8 600.6h4.4M2833.6 605.0h4.4M2934.8 605.0h4.4M2895.2 609.4h4.4M2899.6 609.4h4.4M2860.0 613.8h4.4M2882.0 613.8h4.4M2890.8 613.8h4.4M2908.4 613.8h4.4M2855.6 618.2h4.4M2908.4 622.6h4.4M2855.6 627.0h4.4M2824.8 631.4h4.4M2868.8 631.4h4.4M2926.0 631.4h4.4M2758.8 640.2h4.4M2785.2 640.2h4.4M2842.4 640.2h4.4M2886.4 640.2h4.4M2895.2 640.2h4.4M2842.4 662.2h4.4M2860.0 675.4h4.4M2842.4 693.0h4.4M2851.2 706.2h4.4" stroke="#000" stroke-opacity="0.85" stroke-width="4.4" fill="none"/>
<path d="M3163.6 209.0h4.4M2974.4 297.0h4.4M3036.0 297.0h4.4M3053.6 297.0h4.4M3036.0 305.8h4.4M2904.0 336.6h4.4M3084.4 345.4h4.4M3097.6 349.8h4.4M3102.0 349.8h4.4M3110.8 349.8h4.4M3119.6 349.8h4.4M3093.2 354.2h4.4M3097.6 354.2h4.4M3115.2 354.2h4.4M3207.6 358.6h4.4M3132.8 367.4h4.4M3146.0 371.8h4.4M3119.6 376.2h4.4M3128.4 380.6h4.4M3141.6 380.6h4.4M3172.4 380.6h4.4M3075.6 385.0h4.4M3115.2 389.4h4.4M3128.4 389.4h4.4M3132.8 389.4h4.4M3119.6 393.8h4.4M3124.0 393.8h4.4M2992.0 398.2h4.4M3102.0 398.2h4.4M3124.0 398.2h4.4M3128.4 398.2h4.4M3049.2 402.6h4.4M3093.2 402.6h4.4M3106.4 402.6h4.4M3110.8 402.6h4.4M3128.4 402.6h4.4M3132.8 402.6h4.4M3066.8 407.0h4.4M3088.8 407.0h4.4M3102.0 407.0h4.4M3110.8 407.0h4.4M3119.6 407.0h4.4M3128.4 407.0h4.4M3150.4 407.0h4.4M3049.2 411.4h4.4M3088.8 411.4h4.4M3097.6 411.4h4.4M3106.4 411.4h4.4M3110.8 411.4h4.4M3119.6 411.4h4.4M3150.4 411.4h4.4M3053.6 415.8h4.4M3102.0 415.8h4.4M3106.4 415.8h4.4M3119.6 415.8h4.4M3124.0 415.8h4.4M3128.4 415.8h4.4M2917.2 420.2h4.4M2939.2 420.2h4.4M3040.4 420.2h4.4M3080.0 420.2h4.4M3097.6 420.2h4.4M3119.6 420.2h4.4M3066.8 424.6h4.4M3084.4 424.6h4.4M3110.8 424.6h4.4M3115.2 424.6h4.4M3132.8 424.6h4.4M3163.6 424.6h4.4M3000.8 429.0h4.4M3058.0 429.0h4.4M3062.4 429.0h4.4M3075.6 429.0h4.4M3080.0 429.0h4.4M3084.4 429.0h4.4M3102.0 429.0h4.4M3115.2 429.0h4.4M3128.4 429.0h4.4M2882.0 433.4h4.4M3080.0 433.4h4.4M3102.0 433.4h4.4M3106.4 433.4h4.4M3124.0 433.4h4.4M2921.6 437.8h4.4M3044.8 437.8h4.4M3080.0 437.8h4.4M3093.2 437.8h4.4M2908.4 442.2h4.4M3027.2 442.2h4.4M3080.0 442.2h4.4M3093.2 442.2h4.4M3102.0 442.2h4.4M2855.6 446.6h4.4M2996.4 446.6h4.4M3058.0 446.6h4.4M3062.4 446.6h4.4M3080.0 446.6h4.4M3097.6 446.6h4.4M2904.0 451.0h4.4M2908.4 451.0h4.4M2912.8 451.0h4.4M2921.6 451.0h4.4M2926.0 451.0h4.4M2930.4 451.0h4.4M3018.4 451.0h4.4M3097.6 451.0h4.4M3106.4 451.0h4.4M2868.8 455.4h4.4M2890.8 455.4h4.4M2895.2 455.4h4.4M2899.6 455.4h4.4M2917.2 455.4h4.4M2943.6 455.4h4.4M3071.2 455.4h4.4M2868.8 459.8h4.4M2890.8 459.8h4.4M2899.6 459.8h4.4M2904.0 459.8h4.4M2908.4 459.8h4.4M2912.8 459.8h4.4M2917.2 459.8h4.4M2921.6 459.8h4.4M2926.0 459.8h4.4M2943.6 459.8h4.4M2952.4 459.8h4.4M3027.2 459.8h4.4M3031.6 459.8h4.4M3040.4 459.8h4.4M3053.6 459.8h4.4M3071.2 459.8h4.4M3075.6 459.8h4.4M3110.8 459.8h4.4M2833.6 464.2h4.4M2860.0 464.2h4.4M2873.2 464.2h4.4M2877.6 464.2h4.4M2882.0 464.2h4.4M2886.4 464.2h4.4M2890.8 464.2h4.4M2895.2 464.2h4.4M2899.6 464.2h4.4M2904.0 464.2h4.4M2908.4 464.2h4.4M2912.8 464.2h4.4M2917.2 464.2h4.4M2926.0 464.2h4.4M2930.4 464.2h4.4M2934.8 464.2h4.4M2939.2 464.2h4.4M2961.2 464.2h4.4M2992.0 464.2h4.4M3005.2 464.2h4.4M3036.0 464.2h4.4M3040.4 464.2h4.4M3062.4 464.2h4.4M3066.8 464.2h4.4M3097.6 464.2h4.4M3106.4 464.2h4.4M2860.0 468.6h4.4M2864.4 468.6h4.4M2877.6 468.6h4.4M2882.0 468.6h4.4M2886.4 468.6h4.4M2890.8 468.6h4.4M2895.2 468.6h4.4M2899.6 468.6h4.4M2904.0 468.6h4.4M2908.4 468.6h4.4M2912.8 468.6h4.4M2917.2 468.6h4.4M2921.6 468.6h4.4M2926.0 468.6h4.4M2930.4 468.6h4.4M2934.8 468.6h4.4M2961.2 468.6h4.4M2965.6 468.6h4.4M3075.6 468.6h4.4M3106.4 468.6h4.4M2864.4 473.0h4.4M2868.8 473.0h4.4M2873.2 473.0h4.4M2877.6 473.0h4.4M2882.0 473.0h4.4M2886.4 473.0h4.4M2890.8 473.0h4.4M2895.2 473.0h4.4M2899.6 473.0h4.4M2904.0 473.0h4.4M2908.4 473.0h4.4M2912.8 473.0h4.4M2917.2 473.0h4.4M2921.6 473.0h4.4M2926.0 473.0h4.4M2934.8 473.0h4.4M2939.2 473.0h4.4M2961.2 473.0h4.4M2978.8 473.0h4.4M2983.2 473.0h4.4M2992.0 473.0h4.4M2996.4 473.0h4.4M3009.6 473.0h4.4M3053.6 473.0h4.4M3058.0 473.0h4.4M3084.4 473.0h4.4M3088.8 473.0h4.4M2855.6 477.4h4.4M2860.0 477.4h4.4M2868.8 477.4h4.4M2873.2 477.4h4.4M2877.6 477.4h4.4M2882.0 477.4h4.4M2886.4 477.4h4.4M2890.8 477.4h4.4M2895.2 477.4h4.4M2899.6 477.4h4.4M2904.0 477.4h4.4M2908.4 477.4h4.4M2912.8 477.4h4.4M2917.2 477.4h4.4M2921.6 477.4h4.4M2926.0 477.4h4.4M2930.4 477.4h4.4M2934.8 477.4h4.4M2939.2 477.4h4.4M2943.6 477.4h4.4M3014.0 477.4h4.4M3044.8 477.4h4.4M2851.2 481.8h4.4M2855.6 481.8h4.4M2864.4 481.8h4.4M2868.8 481.8h4.4M2873.2 481.8h4.4M2877.6 481.8h4.4M2882.0 481.8h4.4M2886.4 481.8h4.4M2912.8 481.8h4.4M2917.2 481.8h4.4M2921.6 481.8h4.4M2926.0 481.8h4.4M2930.4 481.8h4.4M2934.8 481.8h4.4M2939.2 481.8h4.4M2978.8 481.8h4.4M2996.4 481.8h4.4M3018.4 481.8h4.4M3071.2 481.8h4.4M2846.8 486.2h4.4M2851.2 486.2h4.4M2860.0 486.2h4.4M2864.4 486.2h4.4M2868.8 486.2h4.4M2873.2 486.2h4.4M2877.6 486.2h4.4M2917.2 486.2h4.4M2921.6 486.2h4.4M2926.0 486.2h4.4M2930.4 486.2h4.4M2934.8 486.2h4.4M2939.2 486.2h4.4M2943.6 486.2h4.4M2992.0 486.2h4.4M3018.4 486.2h4.4M3036.0 486.2h4.4M3058.0 486.2h4.4M2820.4 490.6h4.4M2851.2 490.6h4.4M2855.6 490.6h4.4M2860.0 490.6h4.4M2864.4 490.6h4.4M2868.8 490.6h4.4M2917.2 490.6h4.4M2921.6 490.6h4.4M2926.0 490.6h4.4M2930.4 490.6h4.4M2934.8 490.6h4.4M2939.2 490.6h4.4M2943.6 490.6h4.4M3005.2 490.6h4.4M3031.6 490.6h4.4M3075.6 490.6h4.4M2842.4 495.0h4.4M2846.8 495.0h4.4M2855.6 495.0h4.4M2860.0 495.0h4.4M2864.4 495.0h4.4M2917.2 495.0h4.4M2921.6 495.0h4.4M2926.0 495.0h4.4M2930.4 495.0h4.4M2934.8 495.0h4.4M2939.2 495.0h4.4M3031.6 495.0h4.4M2842.4 499.4h4.4M2846.8 499.4h4.4M2851.2 499.4h4.4M2855.6 499.4h4.4M2860.0 499.4h4.4M2864.4 499.4h4.4M2917.2 499.4h4.4M2921.6 499.4h4.4M2926.0 499.4h4.4M2930.4 499.4h4.4M2952.4 499.4h4.4M2996.4 499.4h4.4M3000.8 499.4h4.4M2820.4 503.8h4.4M2824.8 503.8h4.4M2838.0 503.8h4.4M2851.2 503.8h4.4M2855.6 503.8h4.4M2860.0 503.8h4.4M2917.2 503.8h4.4M2921.6 503.8h4.4M2926.0 503.8h4.4M2930.4 503.8h4.4M2934.8 503.8h4.4M2939.2 503.8h4.4M2943.6 503.8h4.4M2952.4 503.8h4.4M2983.2 503.8h4.4M3000.8 503.8h4.4M3053.6 503.8h4.4M2833.6 508.2h4.4M2842.4 508.2h4.4M2846.8 508.2h4.4M2851.2 508.2h4.4M2855.6 508.2h4.4M2860.0 508.2h4.4M2917.2 508.2h4.4M2921.6 508.2h4.4M2926.0 508.2h4.4M2930.4 508.2h4.4M2934.8 508.2h4.4M2939.2 508.2h4.4M2820.4 512.6h4.4M2833.6 512.6h4.4M2842.4 512.6h4.4M2846.8 512.6h4.4M2851.2 512.6h4.4M2855.6 512.6h4.4M2860.0 512.6h4.4M2917.2 512.6h4.4M2921.6 512.6h4.4M2926.0 512.6h4.4M2930.4 512.6h4.4M2934.8 512.6h4.4M3005.2 512.6h4.4M3053.6 512.6h4.4M3071.2 512.6h4.4M2829.2 517.0h4.4M2833.6 517.0h4.4M2838.0 517.0h4.4M2842.4 517.0h4.4M2846.8 517.0h4.4M2851.2 517.0h4.4M2855.6 517.0h4.4M2860.0 517.0h4.4M2912.8 517.0h4.4M2917.2 517.0h4.4M2921.6 517.0h4.4M2926.0 517.0h4.4M2930.4 517.0h4.4M2939.2 517.0h4.4M2948.0 517.0h4.4M2996.4 517.0h4.4M3084.4 517.0h4.4M2833.6 521.4h4.4M2838.0 521.4h4.4M2842.4 521.4h4.4M2846.8 521.4h4.4M2851.2 521.4h4.4M2855.6 521.4h4.4M2860.0 521.4h4.4M2912.8 521.4h4.4M2917.2 521.4h4.4M2921.6 521.4h4.4M2926.0 521.4h4.4M2930.4 521.4h4.4M2934.8 521.4h4.4M2939.2 521.4h4.4M3014.0 521.4h4.4M2842.4 525.8h4.4M2846.8 525.8h4.4M2851.2 525.8h4.4M2855.6 525.8h4.4M2860.0 525.8h4.4M2904.0 525.8h4.4M2908.4 525.8h4.4M2912.8 525.8h4.4M2917.2 525.8h4.4M2921.6 525.8h4.4M2926.0 525.8h4.4M2934.8 525.8h4.4M2833.6 530.2h4.4M2842.4 530.2h4.4M2846.8 530.2h4.4M2851.2 530.2h4.4M2855.6 530.2h4.4M2860.0 530.2h4.4M2904.0 530.2h4.4M2908.4 530.2h4.4M2912.8 530.2h4.4M2917.2 530.2h4.4M2921.6 530.2h4.4M2926.0 530.2h4.4M2824.8 534.6h4.4M2833.6 534.6h4.4M2842.4 534.6h4.4M2846.8 534.6h4.4M2851.2 534.6h4.4M2855.6 534.6h4.4M2860.0 534.6h4.4M2864.4 534.6h4.4M2895.2 534.6h4.4M2899.6 534.6h4.4M2904.0 534.6h4.4M2908.4 534.6h4.4M2912.8 534.6h4.4M2917.2 534.6h4.4M2820.4 539.0h4.4M2833.6 539.0h4.4M2838.0 539.0h4.4M2846.8 539.0h4.4M2851.2 539.0h4.4M2855.6 539.0h4.4M2860.0 539.0h4.4M2864.4 539.0h4.4M2868.8 539.0h4.4M2886.4 539.0h4.4M2890.8 539.0h4.4M2895.2 539.0h4.4M2899.6 539.0h4.4M2904.0 539.0h4.4M2908.4 539.0h4.4M2912.8 539.0h4.4M2917.2 539.0h4.4M2926.0 539.0h4.4M2956.8 539.0h4.4M2842.4 543.4h4.4M2846.8 543.4h4.4M2851.2 543.4h4.4M2855.6 543.4h4.4M2860.0 543.4h4.4M2864.4 543.4h4.4M2868.8 543.4h4.4M2873.2 543.4h4.4M2877.6 543.4h4.4M2882.0 543.4h4.4M2886.4 543.4h4.4M2890.8 543.4h4.4M2895.2 543.4h4.4M2899.6 543.4h4.4M2904.0 543.4h4.4M2908.4 543.4h4.4M2917.2 543.4h4.4M2921.6 543.4h4.4M2961.2 543.4h4.4M2846.8 547.8h4.4M2851.2 547.8h4.4M2855.6 547.8h4.4M2860.0 547.8h4.4M2864.4 547.8h4.4M2868.8 547.8h4.4M2873.2 547.8h4.4M2877.6 547.8h4.4M2882.0 547.8h4.4M2886.4 547.8h4.4M2890.8 547.8h4.4M2895.2 547.8h4.4M2899.6 547.8h4.4M2904.0 547.8h4.4M2908.4 547.8h4.4M2939.2 547.8h4.4M2842.4 552.2h4.4M2846.8 552.2h4.4M2855.6 552.2h4.4M2860.0 552.2h4.4M2864.4 552.2h4.4M2868.8 552.2h4.4M2873.2 552.2h4.4M2877.6 552.2h4.4M2882.0 552.2h4.4M2886.4 552.2h4.4M2890.8 552.2h4.4M2895.2 552.2h4.4M2904.0 552.2h4.4M2908.4 552.2h4.4M2939.2 552.2h4.4M2987.6 552.2h4.4M2842.4 556.6h4.4M2846.8 556.6h4.4M2855.6 556.6h4.4M2860.0 556.6h4.4M2864.4 556.6h4.4M2868.8 556.6h4.4M2873.2 556.6h4.4M2877.6 556.6h4.4M2882.0 556.6h4.4M2886.4 556.6h4.4M2890.8 556.6h4.4M2899.6 556.6h4.4M2838.0 561.0h4.4M2851.2 561.0h4.4M2864.4 561.0h4.4M2868.8 561.0h4.4M2873.2 561.0h4.4M2877.6 561.0h4.4M2890.8 561.0h4.4M2833.6 565.4h4.4M2855.6 565.4h4.4M2873.2 565.4h4.4M2877.6 565.4h4.4M2886.4 565.4h4.4M2890.8 565.4h4.4M2930.4 565.4h4.4M2851.2 569.8h4.4M2860.0 569.8h4.4M2877.6 569.8h4.4M2886.4 569.8h4.4M2895.2 569.8h4.4M2873.2 574.2h4.4M2886.4 574.2h4.4M2855.6 578.6h4.4M2868.8 578.6h4.4M2882.0 578.6h4.4M2890.8 583.0h4.4M3014.0 627.0h4.4M3009.6 653.4h4.4M3036.0 688.6h4.4" stroke="#000" stroke-opacity="1" stroke-width="4.4" fill="none"/>
<path d="M2918.1 476.7L2920.0 483.8L2923.5 489.1L2923.2 496.6L2921.8 504.1L2921.6 511.8L2918.3 519.9L2911.5 526.2L2905.2 531.9L2899.5 540.2L2891.6 540.9L2883.8 545.6L2876.0 546.9L2872.4 540.0L2867.8 536.7L2859.2 536.6L2856.4 530.3L2858.2 521.6L2859.6 514.0L2860.5 506.2L2864.1 498.2L2870.8 492.1L2876.1 485.0L2883.5 481.4L2890.3 472.0L2898.1 472.6L2905.4 472.6L2912.5 473.2Z" fill="#000"/>
</g>
<path d="M2619 128H3233V742H2619ZM2994.5 128V742M2619 364.5H3233" stroke="#000" stroke-opacity="0.3" stroke-width="6.5" fill="none"/>
<path d="M2619 128H3233V742H2619ZM2994.5 128V742M2619 364.5H3233" stroke="#000" stroke-width="3.6" fill="none"/>
<path d="M2615.8 134V736M2625 745.2H3227" stroke="#000" stroke-opacity="0.38" stroke-width="3" fill="none"/>
<rect x="2613" y="122" width="12" height="12" fill="#000"/>
<rect x="3227" y="122" width="12" height="12" fill="#000"/>
<rect x="2613" y="736" width="12" height="12" fill="#000"/>
<rect x="3227" y="736" width="12" height="12" fill="#000"/>
<path d="M2606 628H2619M2606 516H2619M2606 400H2619M2606 287H2619M2606 176H2619M2730 742V754M2844 742V754M2957 742V754M3071 742V754M3184 742V754" stroke="#111" stroke-width="3.5" fill="none"/>
<path d="M2613 707.7H2619M2652.4 742v6M2613 687.6H2619M2672.0 742v6M2613 673.4H2619M2685.8 742v6M2610 662.3H2619M2696.6 742v9M2613 653.3H2619M2705.4 742v6M2613 645.7H2619M2712.8 742v6M2613 639.0H2619M2719.2 742v6M2613 633.2H2619M2724.9 742v6M2613 594.3H2619M2764.3 742v6M2613 574.6H2619M2784.4 742v6M2613 560.6H2619M2798.6 742v6M2610 549.7H2619M2809.7 742v9M2613 540.8H2619M2818.7 742v6M2613 533.3H2619M2826.3 742v6M2613 526.9H2619M2833.0 742v6M2613 521.1H2619M2838.8 742v6M2613 481.1H2619M2878.0 742v6M2613 460.7H2619M2897.9 742v6M2613 446.2H2619M2912.0 742v6M2610 434.9H2619M2923.0 742v9M2613 425.7H2619M2931.9 742v6M2613 418.0H2619M2939.5 742v6M2613 411.2H2619M2946.0 742v6M2613 405.3H2619M2951.8 742v6M2613 366.0H2619M2991.3 742v6M2613 346.1H2619M3011.4 742v6M2613 332.0H2619M3025.6 742v6M2610 321.0H2619M3036.7 742v9M2613 312.1H2619M3045.7 742v6M2613 304.5H2619M3053.3 742v6M2613 298.0H2619M3060.0 742v6M2613 292.2H2619M3065.8 742v6M2613 253.6H2619M3105.0 742v6M2613 234.0H2619M3124.9 742v6M2613 220.2H2619M3139.0 742v6M2610 209.4H2619M3150.0 742v9M2613 200.6H2619M3158.9 742v6M2613 193.2H2619M3166.5 742v6M2613 186.8H2619M3173.0 742v6M2613 181.1H2619M3178.8 742v6" stroke="#333" stroke-opacity="0.55" stroke-width="2.5" fill="none"/>
<text transform="translate(2545.43,741.15) scale(0.9932,1)" font-size="45.86" stroke="#fff" stroke-width="0.3">10</text>
<text transform="translate(2596.36,724.80) scale(0.9980,1)" font-size="26.86">0</text>
<text transform="translate(2611.43,798.15) scale(0.9932,1)" font-size="45.86" stroke="#fff" stroke-width="0.3">10</text>
<text transform="translate(2662.36,781.80) scale(0.9980,1)" font-size="26.86">0</text>
<text transform="translate(2545.43,629.15) scale(0.9932,1)" font-size="45.86" stroke="#fff" stroke-width="0.3">10</text>
<text transform="translate(2595.66,612.80) scale(0.8015,1)" font-size="27.25">1</text>
<text transform="translate(2716.43,798.15) scale(0.9932,1)" font-size="45.86" stroke="#fff" stroke-width="0.3">10</text>
<text transform="translate(2766.66,781.80) scale(0.8015,1)" font-size="27.25">1</text>
<text transform="translate(2545.43,517.15) scale(0.9932,1)" font-size="45.86" stroke="#fff" stroke-width="0.3">10</text>
<text transform="translate(2595.89,500.80) scale(1.0523,1)" font-size="26.86">2</text>
<text transform="translate(2827.43,798.15) scale(0.9932,1)" font-size="45.86" stroke="#fff" stroke-width="0.3">10</text>
<text transform="translate(2877.89,781.80) scale(1.0523,1)" font-size="26.86">2</text>
<text transform="translate(2545.43,405.15) scale(0.9932,1)" font-size="45.86" stroke="#fff" stroke-width="0.3">10</text>
<text transform="translate(2596.35,388.80) scale(1.0084,1)" font-size="26.86">3</text>
<text transform="translate(2938.43,798.15) scale(0.9932,1)" font-size="45.86" stroke="#fff" stroke-width="0.3">10</text>
<text transform="translate(2989.35,781.80) scale(1.0084,1)" font-size="26.86">3</text>
<text transform="translate(2545.43,293.15) scale(0.9932,1)" font-size="45.86" stroke="#fff" stroke-width="0.3">10</text>
<text transform="translate(2596.79,276.80) scale(0.9355,1)" font-size="27.25">4</text>
<text transform="translate(3049.43,798.15) scale(0.9932,1)" font-size="45.86" stroke="#fff" stroke-width="0.3">10</text>
<text transform="translate(3100.79,781.80) scale(0.9355,1)" font-size="27.25">4</text>
<text transform="translate(2545.43,181.15) scale(0.9932,1)" font-size="45.86" stroke="#fff" stroke-width="0.3">10</text>
<text transform="translate(2596.21,164.80) scale(1.0045,1)" font-size="27.25">5</text>
<text transform="translate(3160.43,798.15) scale(0.9932,1)" font-size="45.86" stroke="#fff" stroke-width="0.3">10</text>
<text transform="translate(3211.21,781.80) scale(1.0045,1)" font-size="27.25">5</text>
<text transform="translate(2662.9,190) scale(0.96,1)" font-size="46.38" stroke="#fff" stroke-width="0.3">Q1</text>
<text transform="translate(2662.9,245) scale(0.97,1)" font-size="46.38" stroke="#fff" stroke-width="0.3">0.15</text>
<text transform="translate(3111.9,190) scale(0.96,1)" font-size="46.38" stroke="#fff" stroke-width="0.3">Q2</text>
<text transform="translate(3111.9,245) scale(0.97,1)" font-size="46.38" stroke="#fff" stroke-width="0.3">16.4</text>
<text transform="translate(2662.9,637) scale(0.96,1)" font-size="46.38" stroke="#fff" stroke-width="0.3">Q4</text>
<text transform="translate(2662.9,692) scale(0.97,1)" font-size="46.38" stroke="#fff" stroke-width="0.3">74.8</text>
<text transform="translate(3111.9,637) scale(0.96,1)" font-size="46.38" stroke="#fff" stroke-width="0.3">Q3</text>
<text transform="translate(3111.9,692) scale(0.97,1)" font-size="46.38" stroke="#fff" stroke-width="0.3">8.60</text>
<text transform="translate(2731.35,93.15) scale(0.9353,1)" font-size="46.81" stroke="#fff" stroke-width="0.3" xml:space="preserve"><tspan>H</tspan><tspan font-size="26.21" dy="16.7" stroke-width="0.2">2</tspan><tspan dy="-16.7">O</tspan><tspan font-size="26.21" dy="16.7" stroke-width="0.2">2</tspan><tspan dy="-16.7"> + RASi + AKTi</tspan></text>
</g>
<g id="plot5">
<g filter="url(#bl)">
<path d="M4065.6 209.0h4.4M4039.2 213.4h4.4M4065.6 217.8h4.4M3977.6 226.6h4.4M4078.8 226.6h4.4M3973.2 231.0h4.4M4026.0 231.0h4.4M4004.0 235.4h4.4M4008.4 235.4h4.4M4017.2 235.4h4.4M3968.8 239.8h4.4M3982.0 239.8h4.4M3990.8 239.8h4.4M3999.6 239.8h4.4M4012.8 239.8h4.4M4039.2 239.8h4.4M4043.6 239.8h4.4M3951.2 244.2h4.4M3999.6 244.2h4.4M4021.6 244.2h4.4M4026.0 244.2h4.4M4030.4 244.2h4.4M4034.8 244.2h4.4M4070.0 244.2h4.4M3968.8 248.6h4.4M3999.6 248.6h4.4M4008.4 248.6h4.4M4017.2 248.6h4.4M4034.8 248.6h4.4M4048.0 248.6h4.4M4065.6 248.6h4.4M4074.4 248.6h4.4M3946.8 253.0h4.4M3964.4 253.0h4.4M3968.8 253.0h4.4M3982.0 253.0h4.4M4004.0 253.0h4.4M4008.4 253.0h4.4M4012.8 253.0h4.4M4017.2 253.0h4.4M4021.6 253.0h4.4M4026.0 253.0h4.4M4043.6 253.0h4.4M4052.4 253.0h4.4M4061.2 253.0h4.4M3933.6 257.4h4.4M3942.4 257.4h4.4M3951.2 257.4h4.4M3973.2 257.4h4.4M3990.8 257.4h4.4M4012.8 257.4h4.4M4021.6 257.4h4.4M4039.2 257.4h4.4M4048.0 257.4h4.4M4052.4 257.4h4.4M3964.4 261.8h4.4M3977.6 261.8h4.4M3990.8 261.8h4.4M3999.6 261.8h4.4M4030.4 261.8h4.4M4034.8 261.8h4.4M4043.6 261.8h4.4M4052.4 261.8h4.4M4065.6 261.8h4.4M3977.6 266.2h4.4M3982.0 266.2h4.4M3986.4 266.2h4.4M4039.2 266.2h4.4M4048.0 266.2h4.4M4078.8 266.2h4.4M3858.8 270.6h4.4M3933.6 270.6h4.4M3960.0 270.6h4.4M3964.4 270.6h4.4M3973.2 270.6h4.4M3995.2 270.6h4.4M3999.6 270.6h4.4M4008.4 270.6h4.4M4017.2 270.6h4.4M4034.8 270.6h4.4M4039.2 270.6h4.4M4052.4 270.6h4.4M4056.8 270.6h4.4M4065.6 270.6h4.4M3907.2 275.0h4.4M3929.2 275.0h4.4M3960.0 275.0h4.4M3964.4 275.0h4.4M3968.8 275.0h4.4M3973.2 275.0h4.4M3977.6 275.0h4.4M4017.2 275.0h4.4M4034.8 275.0h4.4M4048.0 275.0h4.4M4052.4 275.0h4.4M3938.0 279.4h4.4M3951.2 279.4h4.4M3955.6 279.4h4.4M3960.0 279.4h4.4M3973.2 279.4h4.4M4021.6 279.4h4.4M4026.0 279.4h4.4M4030.4 279.4h4.4M4039.2 279.4h4.4M4043.6 279.4h4.4M4056.8 279.4h4.4M4061.2 279.4h4.4M4065.6 279.4h4.4M4070.0 279.4h4.4M4078.8 279.4h4.4M3933.6 283.8h4.4M3951.2 283.8h4.4M4043.6 283.8h4.4M4048.0 283.8h4.4M4056.8 283.8h4.4M3946.8 288.2h4.4M3964.4 288.2h4.4M3968.8 288.2h4.4M4017.2 288.2h4.4M4034.8 288.2h4.4M4043.6 288.2h4.4M4048.0 288.2h4.4M4061.2 288.2h4.4M4074.4 288.2h4.4M4087.6 288.2h4.4M3942.4 292.6h4.4M3960.0 292.6h4.4M3968.8 292.6h4.4M4021.6 292.6h4.4M4043.6 292.6h4.4M4056.8 292.6h4.4M3907.2 297.0h4.4M3933.6 297.0h4.4M3938.0 297.0h4.4M3960.0 297.0h4.4M3977.6 297.0h4.4M4052.4 297.0h4.4M4065.6 297.0h4.4M4070.0 297.0h4.4M3885.2 301.4h4.4M3911.6 301.4h4.4M3924.8 301.4h4.4M3929.2 301.4h4.4M3938.0 301.4h4.4M3946.8 301.4h4.4M3951.2 301.4h4.4M3924.8 305.8h4.4M3929.2 305.8h4.4M3960.0 305.8h4.4M4026.0 305.8h4.4M4034.8 305.8h4.4M4061.2 305.8h4.4M4065.6 305.8h4.4M3920.4 310.2h4.4M3942.4 310.2h4.4M3968.8 310.2h4.4M3977.6 310.2h4.4M3982.0 310.2h4.4M3999.6 310.2h4.4M4012.8 310.2h4.4M4026.0 310.2h4.4M4030.4 310.2h4.4M4034.8 310.2h4.4M4052.4 310.2h4.4M4061.2 310.2h4.4M4065.6 310.2h4.4M3911.6 314.6h4.4M3929.2 314.6h4.4M3955.6 314.6h4.4M3973.2 314.6h4.4M3982.0 314.6h4.4M3990.8 314.6h4.4M3999.6 314.6h4.4M4004.0 314.6h4.4M4012.8 314.6h4.4M4021.6 314.6h4.4M4039.2 314.6h4.4M4043.6 314.6h4.4M4052.4 314.6h4.4M4074.4 314.6h4.4M3929.2 319.0h4.4M3946.8 319.0h4.4M3964.4 319.0h4.4M3977.6 319.0h4.4M3990.8 319.0h4.4M4004.0 319.0h4.4M4008.4 319.0h4.4M4012.8 319.0h4.4M4017.2 319.0h4.4M4030.4 319.0h4.4M3924.8 323.4h4.4M3938.0 323.4h4.4M3955.6 323.4h4.4M3960.0 323.4h4.4M3977.6 323.4h4.4M3995.2 323.4h4.4M3942.4 327.8h4.4M3951.2 327.8h4.4M3968.8 327.8h4.4M3973.2 327.8h4.4M3982.0 327.8h4.4M3995.2 327.8h4.4M3999.6 327.8h4.4M4012.8 327.8h4.4M3929.2 332.2h4.4M3942.4 332.2h4.4M3951.2 332.2h4.4M3960.0 332.2h4.4M3977.6 332.2h4.4M3982.0 332.2h4.4M3885.2 336.6h4.4M3938.0 336.6h4.4M3951.2 336.6h4.4M3955.6 336.6h4.4M3977.6 336.6h4.4M3982.0 336.6h4.4M3999.6 336.6h4.4M4021.6 336.6h4.4M3942.4 341.0h4.4M3960.0 341.0h4.4M3964.4 341.0h4.4M3977.6 341.0h4.4M3982.0 341.0h4.4M3986.4 341.0h4.4M3990.8 341.0h4.4M4004.0 341.0h4.4M3938.0 345.4h4.4M3973.2 345.4h4.4M3977.6 345.4h4.4M3990.8 345.4h4.4M4004.0 345.4h4.4M3924.8 349.8h4.4M3951.2 349.8h4.4M3968.8 349.8h4.4M3999.6 349.8h4.4M4026.0 349.8h4.4M3898.4 367.4h4.4M3938.0 371.8h4.4M3898.4 376.2h4.4M3960.0 376.2h4.4" stroke="#000" stroke-opacity="0.042" stroke-width="4.4" fill="none"/>
<path d="M4021.6 235.4h4.4M4056.8 235.4h4.4M4021.6 239.8h4.4M3990.8 248.6h4.4M4004.0 248.6h4.4M4030.4 248.6h4.4M3977.6 257.4h4.4M3999.6 257.4h4.4M4030.4 257.4h4.4M4043.6 257.4h4.4M3938.0 261.8h4.4M3986.4 261.8h4.4M4004.0 261.8h4.4M4008.4 261.8h4.4M4017.2 261.8h4.4M3938.0 266.2h4.4M3960.0 266.2h4.4M3999.6 266.2h4.4M4026.0 266.2h4.4M4043.6 266.2h4.4M4056.8 266.2h4.4M3968.8 270.6h4.4M4012.8 270.6h4.4M4043.6 270.6h4.4M3933.6 275.0h4.4M3946.8 275.0h4.4M4004.0 275.0h4.4M4008.4 275.0h4.4M4021.6 275.0h4.4M4096.4 275.0h4.4M3968.8 279.4h4.4M3982.0 279.4h4.4M3990.8 279.4h4.4M3995.2 279.4h4.4M3999.6 279.4h4.4M4004.0 279.4h4.4M4017.2 279.4h4.4M3968.8 283.8h4.4M3973.2 283.8h4.4M3951.2 288.2h4.4M4021.6 288.2h4.4M4039.2 288.2h4.4M3951.2 292.6h4.4M3955.6 292.6h4.4M3964.4 292.6h4.4M3973.2 292.6h4.4M4026.0 292.6h4.4M3942.4 297.0h4.4M3986.4 297.0h4.4M4021.6 297.0h4.4M4048.0 297.0h4.4M3955.6 301.4h4.4M3960.0 301.4h4.4M3964.4 301.4h4.4M3982.0 301.4h4.4M3995.2 301.4h4.4M4012.8 301.4h4.4M4021.6 301.4h4.4M4026.0 301.4h4.4M4030.4 301.4h4.4M4034.8 301.4h4.4M4074.4 301.4h4.4M3946.8 305.8h4.4M3955.6 305.8h4.4M3964.4 305.8h4.4M3968.8 305.8h4.4M3982.0 305.8h4.4M3990.8 305.8h4.4M4008.4 305.8h4.4M4043.6 305.8h4.4M4074.4 305.8h4.4M3951.2 310.2h4.4M4017.2 310.2h4.4M3938.0 314.6h4.4M3946.8 314.6h4.4M3951.2 314.6h4.4M3964.4 314.6h4.4M3968.8 314.6h4.4M3986.4 314.6h4.4M3995.2 314.6h4.4M4017.2 314.6h4.4M4026.0 314.6h4.4M4030.4 314.6h4.4M3960.0 319.0h4.4M3968.8 319.0h4.4M3995.2 319.0h4.4M4021.6 319.0h4.4M3977.6 327.8h4.4M3995.2 332.2h4.4M3942.4 349.8h4.4" stroke="#000" stroke-opacity="0.084" stroke-width="4.4" fill="none"/>
<path d="M4004.0 239.8h4.4M3982.0 257.4h4.4M3968.8 261.8h4.4M3973.2 261.8h4.4M3951.2 266.2h4.4M4008.4 266.2h4.4M4012.8 266.2h4.4M4017.2 266.2h4.4M4021.6 266.2h4.4M4021.6 270.6h4.4M3986.4 275.0h4.4M3995.2 275.0h4.4M3999.6 275.0h4.4M4030.4 275.0h4.4M3964.4 279.4h4.4M4008.4 279.4h4.4M4034.8 279.4h4.4M3964.4 283.8h4.4M3999.6 283.8h4.4M4021.6 283.8h4.4M3986.4 288.2h4.4M3977.6 292.6h4.4M3951.2 297.0h4.4M3955.6 297.0h4.4M3964.4 297.0h4.4M4004.0 297.0h4.4M4012.8 297.0h4.4M4017.2 297.0h4.4M4026.0 297.0h4.4M3999.6 301.4h4.4M4017.2 301.4h4.4M3999.6 305.8h4.4M4030.4 305.8h4.4M3929.2 310.2h4.4M3986.4 310.2h4.4M3990.8 310.2h4.4M3995.2 310.2h4.4M4004.0 310.2h4.4M4008.4 314.6h4.4M3938.0 319.0h4.4M3973.2 319.0h4.4M3986.4 319.0h4.4M3973.2 323.4h4.4M3990.8 323.4h4.4M4021.6 323.4h4.4M3986.4 327.8h4.4M4004.0 327.8h4.4" stroke="#000" stroke-opacity="0.126" stroke-width="4.4" fill="none"/>
<path d="M3986.4 253.0h4.4M4021.6 261.8h4.4M4004.0 266.2h4.4M3990.8 270.6h4.4M3982.0 275.0h4.4M3990.8 275.0h4.4M4012.8 275.0h4.4M4012.8 279.4h4.4M3946.8 283.8h4.4M3982.0 283.8h4.4M4012.8 283.8h4.4M4017.2 283.8h4.4M3973.2 288.2h4.4M3990.8 288.2h4.4M3999.6 288.2h4.4M3990.8 292.6h4.4M3995.2 292.6h4.4M3999.6 292.6h4.4M4004.0 292.6h4.4M4008.4 292.6h4.4M4012.8 292.6h4.4M4017.2 292.6h4.4M3968.8 297.0h4.4M4008.4 297.0h4.4M3986.4 301.4h4.4M4008.4 301.4h4.4M3973.2 305.8h4.4M3964.4 310.2h4.4M4021.6 310.2h4.4M3960.0 314.6h4.4M3986.4 323.4h4.4" stroke="#000" stroke-opacity="0.168" stroke-width="4.4" fill="none"/>
<path d="M3982.0 270.6h4.4M4004.0 270.6h4.4M3986.4 279.4h4.4M3977.6 283.8h4.4M3990.8 283.8h4.4M3995.2 283.8h4.4M4004.0 283.8h4.4M4008.4 283.8h4.4M3977.6 288.2h4.4M3982.0 288.2h4.4M3995.2 288.2h4.4M4008.4 288.2h4.4M4012.8 288.2h4.4M4026.0 288.2h4.4M3982.0 292.6h4.4M3986.4 292.6h4.4M3973.2 297.0h4.4M3982.0 297.0h4.4M3990.8 297.0h4.4M3995.2 297.0h4.4M3999.6 297.0h4.4M3968.8 301.4h4.4M3973.2 301.4h4.4M3977.6 301.4h4.4M3990.8 301.4h4.4M4004.0 301.4h4.4M3977.6 305.8h4.4M3986.4 305.8h4.4M3995.2 305.8h4.4M4004.0 305.8h4.4M3977.6 314.6h4.4" stroke="#000" stroke-opacity="0.17" stroke-width="4.4" fill="none"/>
<path d="M4061.2 151.8h4.4M3902.8 248.6h4.4M3924.8 257.4h4.4M3880.8 266.2h4.4M3902.8 275.0h4.4M3911.6 283.8h4.4M3920.4 283.8h4.4M3907.2 288.2h4.4M3911.6 288.2h4.4M3924.8 288.2h4.4M4056.8 288.2h4.4M3938.0 292.6h4.4M3894.0 297.0h4.4M4052.4 301.4h4.4M3902.8 305.8h4.4M3916.0 305.8h4.4M3924.8 305.8h4.4M3916.0 310.2h4.4M3951.2 310.2h4.4M3894.0 314.6h4.4M4056.8 314.6h4.4M4008.4 323.4h4.4M3995.2 332.2h4.4M4012.8 332.2h4.4M3977.6 336.6h4.4M4008.4 336.6h4.4M4017.2 341.0h4.4M3929.2 345.4h4.4M3951.2 345.4h4.4M3960.0 345.4h4.4M4004.0 345.4h4.4M3792.8 349.8h4.4M3982.0 349.8h4.4M3986.4 349.8h4.4M3990.8 349.8h4.4M4004.0 349.8h4.4M3964.4 354.2h4.4M3990.8 354.2h4.4M3995.2 354.2h4.4M4012.8 354.2h4.4M4017.2 354.2h4.4M3968.8 358.6h4.4M3964.4 363.0h4.4M4026.0 363.0h4.4M4034.8 363.0h4.4M3986.4 367.4h4.4M3999.6 367.4h4.4M4021.6 367.4h4.4M3964.4 371.8h4.4M3986.4 371.8h4.4M4004.0 371.8h4.4M4021.6 371.8h4.4M3867.6 376.2h4.4M3964.4 376.2h4.4M3968.8 376.2h4.4M3990.8 376.2h4.4M3964.4 380.6h4.4M4012.8 380.6h4.4M4017.2 380.6h4.4M3960.0 385.0h4.4M3973.2 385.0h4.4M3986.4 385.0h4.4M4105.2 385.0h4.4M4021.6 389.4h4.4M3960.0 393.8h4.4M3977.6 393.8h4.4M3982.0 393.8h4.4M3990.8 393.8h4.4M4012.8 393.8h4.4M3929.2 398.2h4.4M3973.2 398.2h4.4M3982.0 398.2h4.4M3995.2 398.2h4.4M3929.2 402.6h4.4M3770.8 407.0h4.4M3924.8 407.0h4.4M3938.0 407.0h4.4M3955.6 407.0h4.4M4004.0 407.0h4.4M4034.8 407.0h4.4M3814.8 411.4h4.4M3942.4 411.4h4.4M3964.4 411.4h4.4M3982.0 411.4h4.4M3876.4 415.8h4.4M4008.4 415.8h4.4M3788.4 420.2h4.4M3836.8 420.2h4.4M3894.0 420.2h4.4M4017.2 420.2h4.4M4061.2 420.2h4.4M3718.0 424.6h4.4M3924.8 424.6h4.4M3942.4 424.6h4.4M3999.6 424.6h4.4M4012.8 424.6h4.4M4048.0 424.6h4.4M3823.6 429.0h4.4M3832.4 429.0h4.4M3951.2 429.0h4.4M3986.4 429.0h4.4M4034.8 429.0h4.4M3762.0 433.4h4.4M3801.6 433.4h4.4M3845.6 433.4h4.4M3990.8 433.4h4.4M4004.0 433.4h4.4M4012.8 433.4h4.4M4017.2 433.4h4.4M4021.6 433.4h4.4M4052.4 433.4h4.4M3801.6 437.8h4.4M3880.8 437.8h4.4M3898.4 437.8h4.4M3920.4 437.8h4.4M3946.8 437.8h4.4M3951.2 437.8h4.4M3973.2 437.8h4.4M3982.0 437.8h4.4M4012.8 437.8h4.4M3713.6 442.2h4.4M3810.4 442.2h4.4M3854.4 442.2h4.4M3858.8 442.2h4.4M3880.8 442.2h4.4M3938.0 442.2h4.4M3964.4 442.2h4.4M4030.4 442.2h4.4M4043.6 442.2h4.4M3766.4 446.6h4.4M3775.2 446.6h4.4M3828.0 446.6h4.4M3841.2 446.6h4.4M3889.6 446.6h4.4M3920.4 446.6h4.4M3924.8 446.6h4.4M3946.8 446.6h4.4M3960.0 446.6h4.4M4004.0 446.6h4.4M3770.8 451.0h4.4M3823.6 451.0h4.4M3898.4 451.0h4.4M3933.6 451.0h4.4M3951.2 451.0h4.4M3960.0 451.0h4.4M3964.4 451.0h4.4M3968.8 451.0h4.4M3986.4 451.0h4.4M4056.8 451.0h4.4M3744.4 455.4h4.4M3854.4 455.4h4.4M3907.2 455.4h4.4M3929.2 455.4h4.4M3960.0 455.4h4.4M3982.0 455.4h4.4M3986.4 455.4h4.4M3995.2 455.4h4.4M3740.0 459.8h4.4M3762.0 459.8h4.4M3775.2 459.8h4.4M3823.6 459.8h4.4M3933.6 459.8h4.4M3946.8 459.8h4.4M3955.6 459.8h4.4M3960.0 459.8h4.4M3995.2 459.8h4.4M4008.4 459.8h4.4M3753.2 464.2h4.4M3757.6 464.2h4.4M3779.6 464.2h4.4M3907.2 464.2h4.4M3920.4 464.2h4.4M3929.2 464.2h4.4M3933.6 464.2h4.4M3942.4 464.2h4.4M4008.4 464.2h4.4M3722.4 468.6h4.4M3836.8 468.6h4.4M3876.4 468.6h4.4M3880.8 468.6h4.4M3894.0 468.6h4.4M3907.2 468.6h4.4M3911.6 468.6h4.4M3916.0 468.6h4.4M3929.2 468.6h4.4M3960.0 468.6h4.4M3982.0 468.6h4.4M4004.0 468.6h4.4M3735.6 473.0h4.4M3819.2 473.0h4.4M3876.4 473.0h4.4M3885.2 473.0h4.4M3916.0 473.0h4.4M3920.4 473.0h4.4M3938.0 473.0h4.4M3951.2 473.0h4.4M3982.0 473.0h4.4M3990.8 473.0h4.4M3836.8 477.4h4.4M3920.4 477.4h4.4M3933.6 477.4h4.4M3973.2 477.4h4.4M4021.6 477.4h4.4M3740.0 481.8h4.4M3832.4 481.8h4.4M3850.0 481.8h4.4M3872.0 481.8h4.4M3999.6 481.8h4.4M3731.2 486.2h4.4M3748.8 486.2h4.4M3784.0 486.2h4.4M3876.4 486.2h4.4M3880.8 486.2h4.4M3924.8 486.2h4.4M3960.0 486.2h4.4M3968.8 486.2h4.4M3977.6 486.2h4.4M3726.8 490.6h4.4M3735.6 490.6h4.4M3744.4 490.6h4.4M3872.0 490.6h4.4M3880.8 490.6h4.4M3889.6 490.6h4.4M3894.0 490.6h4.4M3907.2 490.6h4.4M3924.8 490.6h4.4M3933.6 490.6h4.4M3973.2 490.6h4.4M4026.0 490.6h4.4M3713.6 495.0h4.4M3858.8 495.0h4.4M3911.6 495.0h4.4M3920.4 495.0h4.4M3955.6 495.0h4.4M3850.0 499.4h4.4M3854.4 499.4h4.4M3885.2 499.4h4.4M3726.8 503.8h4.4M3841.2 503.8h4.4M3885.2 503.8h4.4M3894.0 503.8h4.4M3951.2 503.8h4.4M3973.2 503.8h4.4M3722.4 508.2h4.4M3845.6 508.2h4.4M3858.8 508.2h4.4M3872.0 508.2h4.4M3876.4 508.2h4.4M3880.8 508.2h4.4M3938.0 508.2h4.4M3696.0 512.6h4.4M3880.8 512.6h4.4M3902.8 512.6h4.4M3960.0 512.6h4.4M3726.8 517.0h4.4M3731.2 517.0h4.4M3784.0 517.0h4.4M3828.0 517.0h4.4M3924.8 517.0h4.4M3946.8 517.0h4.4M3973.2 517.0h4.4M3810.4 521.4h4.4M3823.6 521.4h4.4M3841.2 521.4h4.4M3850.0 521.4h4.4M3929.2 521.4h4.4M3726.8 525.8h4.4M3832.4 525.8h4.4M3836.8 525.8h4.4M3858.8 525.8h4.4M3942.4 525.8h4.4M3845.6 530.2h4.4M3863.2 530.2h4.4M3867.6 530.2h4.4M3885.2 530.2h4.4M3898.4 530.2h4.4M3704.8 534.6h4.4M3713.6 534.6h4.4M3788.4 534.6h4.4M3916.0 534.6h4.4M3968.8 534.6h4.4M3722.4 539.0h4.4M3880.8 539.0h4.4M3889.6 539.0h4.4M3726.8 543.4h4.4M3863.2 543.4h4.4M3907.2 543.4h4.4M3700.4 547.8h4.4M3832.4 547.8h4.4M3674.0 552.2h4.4M3709.2 552.2h4.4M3823.6 552.2h4.4M3704.8 556.6h4.4M3718.0 556.6h4.4M3828.0 556.6h4.4M3709.2 561.0h4.4M3814.8 561.0h4.4M3894.0 561.0h4.4M3709.2 565.4h4.4M3718.0 565.4h4.4M3762.0 565.4h4.4M3911.6 565.4h4.4M3713.6 569.8h4.4M3740.0 569.8h4.4M3801.6 569.8h4.4M3889.6 569.8h4.4M3902.8 569.8h4.4M3718.0 574.2h4.4M3726.8 574.2h4.4M3898.4 574.2h4.4M3691.6 578.6h4.4M3722.4 578.6h4.4M3726.8 578.6h4.4M3836.8 578.6h4.4M3665.2 583.0h4.4M3735.6 583.0h4.4M3788.4 583.0h4.4M3810.4 583.0h4.4M3726.8 587.4h4.4M3731.2 587.4h4.4M3735.6 587.4h4.4M3740.0 587.4h4.4M3748.8 591.8h4.4M3753.2 591.8h4.4M3863.2 591.8h4.4M3722.4 596.2h4.4M3740.0 600.6h4.4M3753.2 600.6h4.4M3942.4 600.6h4.4M3770.8 605.0h4.4M3770.8 609.4h4.4M3779.6 609.4h4.4M3748.8 613.8h4.4M3770.8 613.8h4.4M3784.0 613.8h4.4M3726.8 627.0h4.4M3753.2 627.0h4.4M3814.8 627.0h4.4M3806.0 631.4h4.4M3828.0 631.4h4.4M3823.6 640.2h4.4M3748.8 644.6h4.4M3753.2 653.4h4.4M3718.0 662.2h4.4M3788.4 662.2h4.4M3814.8 662.2h4.4M3709.2 666.6h4.4M3674.0 671.0h4.4M3704.8 671.0h4.4M3757.6 675.4h4.4M3753.2 684.2h4.4" stroke="#000" stroke-opacity="0.3" stroke-width="4.4" fill="none"/>
<path d="M4056.8 248.6h4.4M3889.6 257.4h4.4M3907.2 270.6h4.4M4056.8 270.6h4.4M3933.6 279.4h4.4M3942.4 283.8h4.4M3876.4 288.2h4.4M3885.2 292.6h4.4M3916.0 292.6h4.4M3924.8 297.0h4.4M3920.4 301.4h4.4M3907.2 305.8h4.4M3933.6 305.8h4.4M3894.0 310.2h4.4M3920.4 310.2h4.4M3960.0 310.2h4.4M3907.2 314.6h4.4M3942.4 319.0h4.4M3894.0 323.4h4.4M3916.0 323.4h4.4M3894.0 327.8h4.4M4030.4 327.8h4.4M3920.4 332.2h4.4M3973.2 336.6h4.4M3907.2 341.0h4.4M3933.6 341.0h4.4M4030.4 341.0h4.4M4034.8 341.0h4.4M4039.2 341.0h4.4M3946.8 345.4h4.4M3973.2 349.8h4.4M4012.8 349.8h4.4M4017.2 349.8h4.4M3942.4 354.2h4.4M3982.0 354.2h4.4M3986.4 354.2h4.4M4008.4 354.2h4.4M3955.6 358.6h4.4M4056.8 358.6h4.4M4021.6 363.0h4.4M4043.6 363.0h4.4M3814.8 371.8h4.4M3946.8 371.8h4.4M3933.6 380.6h4.4M3942.4 380.6h4.4M4026.0 380.6h4.4M4012.8 385.0h4.4M4026.0 385.0h4.4M3995.2 389.4h4.4M4021.6 393.8h4.4M4052.4 393.8h4.4M3823.6 398.2h4.4M3836.8 398.2h4.4M4008.4 398.2h4.4M3814.8 402.6h4.4M3898.4 402.6h4.4M4017.2 402.6h4.4M4056.8 402.6h4.4M3841.2 407.0h4.4M3982.0 407.0h4.4M3986.4 407.0h4.4M3779.6 411.4h4.4M3823.6 411.4h4.4M3933.6 411.4h4.4M3938.0 411.4h4.4M3955.6 411.4h4.4M3960.0 411.4h4.4M3990.8 411.4h4.4M4030.4 411.4h4.4M4034.8 411.4h4.4M3806.0 415.8h4.4M3898.4 415.8h4.4M3960.0 415.8h4.4M4004.0 415.8h4.4M4043.6 415.8h4.4M3867.6 420.2h4.4M3872.0 420.2h4.4M3924.8 420.2h4.4M3986.4 420.2h4.4M3990.8 420.2h4.4M3999.6 420.2h4.4M3828.0 424.6h4.4M3832.4 424.6h4.4M3951.2 424.6h4.4M3990.8 424.6h4.4M4017.2 424.6h4.4M3792.8 429.0h4.4M3775.2 433.4h4.4M3779.6 433.4h4.4M3806.0 433.4h4.4M3814.8 433.4h4.4M3889.6 433.4h4.4M3933.6 433.4h4.4M3960.0 433.4h4.4M3977.6 433.4h4.4M3982.0 433.4h4.4M3757.6 437.8h4.4M3779.6 437.8h4.4M3792.8 437.8h4.4M3845.6 437.8h4.4M3938.0 437.8h4.4M3942.4 437.8h4.4M3977.6 437.8h4.4M3986.4 437.8h4.4M3872.0 442.2h4.4M3902.8 442.2h4.4M3955.6 442.2h4.4M3982.0 442.2h4.4M3995.2 442.2h4.4M3999.6 442.2h4.4M3792.8 446.6h4.4M3823.6 446.6h4.4M3907.2 446.6h4.4M3938.0 446.6h4.4M3977.6 446.6h4.4M3797.2 451.0h4.4M3819.2 451.0h4.4M3841.2 451.0h4.4M3854.4 451.0h4.4M3894.0 451.0h4.4M3907.2 451.0h4.4M3911.6 451.0h4.4M3920.4 451.0h4.4M3929.2 451.0h4.4M4008.4 451.0h4.4M3775.2 455.4h4.4M3828.0 455.4h4.4M3836.8 455.4h4.4M3850.0 455.4h4.4M3977.6 455.4h4.4M4008.4 455.4h4.4M3770.8 459.8h4.4M3801.6 459.8h4.4M3832.4 459.8h4.4M3964.4 459.8h4.4M3986.4 459.8h4.4M3999.6 459.8h4.4M4012.8 459.8h4.4M3766.4 464.2h4.4M3770.8 464.2h4.4M3814.8 464.2h4.4M3850.0 464.2h4.4M3898.4 464.2h4.4M3938.0 464.2h4.4M3968.8 464.2h4.4M3999.6 464.2h4.4M4030.4 464.2h4.4M3753.2 468.6h4.4M3854.4 468.6h4.4M3964.4 468.6h4.4M3999.6 468.6h4.4M3726.8 473.0h4.4M3731.2 473.0h4.4M3740.0 473.0h4.4M3828.0 473.0h4.4M3845.6 473.0h4.4M3898.4 473.0h4.4M3933.6 473.0h4.4M3748.8 477.4h4.4M3753.2 477.4h4.4M3823.6 477.4h4.4M3845.6 477.4h4.4M3850.0 477.4h4.4M3867.6 477.4h4.4M3876.4 481.8h4.4M3955.6 481.8h4.4M3788.4 486.2h4.4M3885.2 486.2h4.4M3898.4 486.2h4.4M3902.8 486.2h4.4M3990.8 486.2h4.4M3775.2 490.6h4.4M3898.4 490.6h4.4M3964.4 490.6h4.4M3999.6 490.6h4.4M3845.6 495.0h4.4M3854.4 495.0h4.4M3867.6 495.0h4.4M3872.0 495.0h4.4M3876.4 495.0h4.4M3933.6 495.0h4.4M3960.0 495.0h4.4M3973.2 495.0h4.4M3977.6 495.0h4.4M3982.0 495.0h4.4M3999.6 495.0h4.4M3718.0 499.4h4.4M3735.6 499.4h4.4M3801.6 499.4h4.4M3832.4 499.4h4.4M3858.8 499.4h4.4M3863.2 499.4h4.4M3876.4 499.4h4.4M3880.8 499.4h4.4M3898.4 499.4h4.4M3902.8 499.4h4.4M3911.6 499.4h4.4M3916.0 499.4h4.4M3973.2 499.4h4.4M3990.8 499.4h4.4M3700.4 503.8h4.4M3722.4 503.8h4.4M3828.0 503.8h4.4M3876.4 503.8h4.4M3911.6 503.8h4.4M3955.6 503.8h4.4M3986.4 503.8h4.4M3718.0 508.2h4.4M3735.6 508.2h4.4M3836.8 508.2h4.4M3854.4 508.2h4.4M3898.4 508.2h4.4M3955.6 508.2h4.4M3964.4 508.2h4.4M3845.6 512.6h4.4M3850.0 512.6h4.4M3911.6 512.6h4.4M3916.0 512.6h4.4M3938.0 512.6h4.4M3942.4 512.6h4.4M3946.8 512.6h4.4M3709.2 517.0h4.4M3876.4 517.0h4.4M3889.6 517.0h4.4M3907.2 517.0h4.4M3929.2 517.0h4.4M3942.4 517.0h4.4M3797.2 521.4h4.4M3845.6 521.4h4.4M3858.8 521.4h4.4M3920.4 521.4h4.4M3973.2 521.4h4.4M3674.0 525.8h4.4M3709.2 525.8h4.4M3845.6 525.8h4.4M3854.4 525.8h4.4M3907.2 525.8h4.4M3709.2 530.2h4.4M3713.6 530.2h4.4M3823.6 530.2h4.4M3920.4 530.2h4.4M3977.6 530.2h4.4M3850.0 534.6h4.4M3889.6 534.6h4.4M3907.2 534.6h4.4M3911.6 534.6h4.4M3946.8 534.6h4.4M3691.6 539.0h4.4M3700.4 539.0h4.4M3704.8 539.0h4.4M3713.6 539.0h4.4M3784.0 539.0h4.4M3841.2 539.0h4.4M3674.0 543.4h4.4M3709.2 543.4h4.4M3713.6 543.4h4.4M3722.4 543.4h4.4M3753.2 543.4h4.4M3858.8 543.4h4.4M3885.2 543.4h4.4M3898.4 543.4h4.4M3911.6 543.4h4.4M3929.2 543.4h4.4M3674.0 547.8h4.4M3894.0 547.8h4.4M3955.6 547.8h4.4M3713.6 552.2h4.4M3810.4 552.2h4.4M3832.4 552.2h4.4M3854.4 552.2h4.4M3867.6 552.2h4.4M3735.6 556.6h4.4M3735.6 561.0h4.4M3691.6 565.4h4.4M3700.4 565.4h4.4M3775.2 565.4h4.4M3779.6 565.4h4.4M3801.6 565.4h4.4M3814.8 565.4h4.4M3828.0 565.4h4.4M3836.8 565.4h4.4M3660.8 569.8h4.4M3687.2 569.8h4.4M3762.0 569.8h4.4M3784.0 569.8h4.4M3731.2 574.2h4.4M3792.8 574.2h4.4M3757.6 578.6h4.4M3823.6 578.6h4.4M3806.0 583.0h4.4M3678.4 587.4h4.4M3722.4 587.4h4.4M3744.4 587.4h4.4M3775.2 587.4h4.4M3806.0 587.4h4.4M3709.2 591.8h4.4M3731.2 591.8h4.4M3740.0 591.8h4.4M3885.2 591.8h4.4M3775.2 596.2h4.4M3779.6 596.2h4.4M3709.2 600.6h4.4M3713.6 600.6h4.4M3757.6 605.0h4.4M3894.0 605.0h4.4M3722.4 609.4h4.4M3726.8 609.4h4.4M3744.4 609.4h4.4M3806.0 609.4h4.4M3819.2 609.4h4.4M3762.0 613.8h4.4M3806.0 618.2h4.4M3854.4 618.2h4.4M3757.6 631.4h4.4M3766.4 640.2h4.4M3726.8 644.6h4.4M3779.6 644.6h4.4M3704.8 649.0h4.4M3726.8 653.4h4.4M3744.4 653.4h4.4M3814.8 657.8h4.4M3740.0 662.2h4.4M3766.4 662.2h4.4M3766.4 666.6h4.4M3757.6 671.0h4.4M3775.2 671.0h4.4M3731.2 684.2h4.4M3770.8 684.2h4.4M3775.2 684.2h4.4M3762.0 697.4h4.4M3726.8 701.8h4.4M3814.8 701.8h4.4M3687.2 710.6h4.4M3788.4 719.4h4.4" stroke="#000" stroke-opacity="0.55" stroke-width="4.4" fill="none"/>
<path d="M4056.8 169.4h4.4M4056.8 195.8h4.4M3924.8 235.4h4.4M4056.8 235.4h4.4M3920.4 253.0h4.4M3894.0 261.8h4.4M3907.2 266.2h4.4M3916.0 270.6h4.4M3876.4 275.0h4.4M3938.0 279.4h4.4M3872.0 283.8h4.4M3894.0 288.2h4.4M3889.6 292.6h4.4M3920.4 292.6h4.4M3911.6 301.4h4.4M3797.2 305.8h4.4M3929.2 310.2h4.4M3876.4 314.6h4.4M3889.6 327.8h4.4M4087.6 327.8h4.4M3880.8 332.2h4.4M3946.8 336.6h4.4M3964.4 336.6h4.4M3968.8 336.6h4.4M3986.4 336.6h4.4M4026.0 336.6h4.4M3973.2 341.0h4.4M3990.8 341.0h4.4M4012.8 341.0h4.4M4021.6 341.0h4.4M4026.0 341.0h4.4M4070.0 341.0h4.4M3968.8 345.4h4.4M3977.6 345.4h4.4M3990.8 345.4h4.4M3999.6 345.4h4.4M4012.8 345.4h4.4M4021.6 345.4h4.4M4043.6 345.4h4.4M3960.0 349.8h4.4M3955.6 354.2h4.4M3999.6 354.2h4.4M4004.0 354.2h4.4M4039.2 354.2h4.4M3977.6 358.6h4.4M4008.4 358.6h4.4M3810.4 363.0h4.4M4008.4 363.0h4.4M4030.4 363.0h4.4M4048.0 363.0h4.4M3898.4 371.8h4.4M4017.2 371.8h4.4M3973.2 376.2h4.4M3986.4 376.2h4.4M3995.2 376.2h4.4M4004.0 376.2h4.4M3973.2 380.6h4.4M3990.8 380.6h4.4M3995.2 380.6h4.4M3999.6 380.6h4.4M3929.2 385.0h4.4M4008.4 385.0h4.4M4021.6 385.0h4.4M4048.0 385.0h4.4M3951.2 389.4h4.4M3960.0 389.4h4.4M3982.0 389.4h4.4M3986.4 389.4h4.4M3990.8 389.4h4.4M4039.2 389.4h4.4M3938.0 393.8h4.4M3946.8 393.8h4.4M3986.4 393.8h4.4M3999.6 393.8h4.4M4017.2 393.8h4.4M4026.0 393.8h4.4M3872.0 398.2h4.4M3920.4 398.2h4.4M3933.6 398.2h4.4M3964.4 398.2h4.4M3986.4 398.2h4.4M4030.4 398.2h4.4M3946.8 402.6h4.4M3968.8 402.6h4.4M3995.2 402.6h4.4M3999.6 402.6h4.4M4021.6 402.6h4.4M3902.8 407.0h4.4M3933.6 407.0h4.4M3942.4 407.0h4.4M3968.8 407.0h4.4M3990.8 407.0h4.4M3885.2 411.4h4.4M3911.6 411.4h4.4M4012.8 411.4h4.4M4017.2 411.4h4.4M3938.0 415.8h4.4M3990.8 415.8h4.4M3995.2 415.8h4.4M3999.6 415.8h4.4M3806.0 420.2h4.4M3907.2 420.2h4.4M3942.4 420.2h4.4M3951.2 420.2h4.4M3977.6 420.2h4.4M3801.6 424.6h4.4M3823.6 424.6h4.4M3889.6 424.6h4.4M3960.0 424.6h4.4M3977.6 424.6h4.4M3995.2 424.6h4.4M3916.0 429.0h4.4M3920.4 429.0h4.4M3933.6 429.0h4.4M3946.8 429.0h4.4M3968.8 429.0h4.4M3995.2 429.0h4.4M3999.6 429.0h4.4M4004.0 429.0h4.4M4017.2 429.0h4.4M4021.6 429.0h4.4M4039.2 429.0h4.4M3797.2 433.4h4.4M3810.4 433.4h4.4M3832.4 433.4h4.4M3841.2 433.4h4.4M3850.0 433.4h4.4M3854.4 433.4h4.4M3867.6 433.4h4.4M3898.4 433.4h4.4M3907.2 433.4h4.4M3911.6 433.4h4.4M3955.6 433.4h4.4M3986.4 433.4h4.4M3995.2 433.4h4.4M4008.4 433.4h4.4M3836.8 437.8h4.4M3850.0 437.8h4.4M3858.8 437.8h4.4M3907.2 437.8h4.4M3911.6 437.8h4.4M3924.8 437.8h4.4M3960.0 437.8h4.4M3788.4 442.2h4.4M3898.4 442.2h4.4M4004.0 442.2h4.4M3744.4 446.6h4.4M3801.6 446.6h4.4M3942.4 446.6h4.4M3973.2 446.6h4.4M3982.0 446.6h4.4M3990.8 446.6h4.4M4017.2 446.6h4.4M4030.4 446.6h4.4M3814.8 451.0h4.4M3867.6 451.0h4.4M3902.8 451.0h4.4M3924.8 451.0h4.4M3955.6 451.0h4.4M4004.0 451.0h4.4M4017.2 451.0h4.4M3753.2 455.4h4.4M3766.4 455.4h4.4M3784.0 455.4h4.4M3819.2 455.4h4.4M3876.4 455.4h4.4M3894.0 455.4h4.4M3911.6 455.4h4.4M3924.8 455.4h4.4M3938.0 455.4h4.4M3951.2 455.4h4.4M3990.8 455.4h4.4M3792.8 459.8h4.4M3806.0 459.8h4.4M3814.8 459.8h4.4M3828.0 459.8h4.4M3841.2 459.8h4.4M3854.4 459.8h4.4M3863.2 459.8h4.4M3889.6 459.8h4.4M3898.4 459.8h4.4M3907.2 459.8h4.4M3924.8 459.8h4.4M3938.0 459.8h4.4M3951.2 459.8h4.4M3968.8 459.8h4.4M3990.8 459.8h4.4M3819.2 464.2h4.4M3828.0 464.2h4.4M3832.4 464.2h4.4M3836.8 464.2h4.4M3876.4 464.2h4.4M3880.8 464.2h4.4M3889.6 464.2h4.4M3924.8 464.2h4.4M3982.0 464.2h4.4M3986.4 464.2h4.4M3995.2 464.2h4.4M4004.0 464.2h4.4M4017.2 464.2h4.4M3757.6 468.6h4.4M3828.0 468.6h4.4M3832.4 468.6h4.4M3885.2 468.6h4.4M3889.6 468.6h4.4M3898.4 468.6h4.4M3951.2 468.6h4.4M3968.8 468.6h4.4M3744.4 473.0h4.4M3757.6 473.0h4.4M3836.8 473.0h4.4M3907.2 473.0h4.4M3924.8 473.0h4.4M3929.2 473.0h4.4M3946.8 473.0h4.4M3955.6 473.0h4.4M3960.0 473.0h4.4M4008.4 473.0h4.4M3735.6 477.4h4.4M3814.8 477.4h4.4M3819.2 477.4h4.4M3832.4 477.4h4.4M3841.2 477.4h4.4M3889.6 477.4h4.4M3916.0 477.4h4.4M3960.0 477.4h4.4M3968.8 477.4h4.4M3990.8 477.4h4.4M4004.0 477.4h4.4M3748.8 481.8h4.4M3894.0 481.8h4.4M3911.6 481.8h4.4M3916.0 481.8h4.4M3920.4 481.8h4.4M3942.4 481.8h4.4M3946.8 481.8h4.4M3753.2 486.2h4.4M3832.4 486.2h4.4M3841.2 486.2h4.4M3863.2 486.2h4.4M3867.6 486.2h4.4M3889.6 486.2h4.4M3942.4 486.2h4.4M3955.6 486.2h4.4M3973.2 486.2h4.4M3845.6 490.6h4.4M3916.0 490.6h4.4M3951.2 490.6h4.4M3832.4 495.0h4.4M3885.2 495.0h4.4M3889.6 495.0h4.4M3907.2 495.0h4.4M3916.0 495.0h4.4M3929.2 495.0h4.4M3946.8 495.0h4.4M3968.8 495.0h4.4M3995.2 495.0h4.4M3828.0 499.4h4.4M3938.0 499.4h4.4M3968.8 499.4h4.4M4048.0 499.4h4.4M3731.2 503.8h4.4M3823.6 503.8h4.4M3858.8 503.8h4.4M3907.2 503.8h4.4M3920.4 503.8h4.4M3924.8 503.8h4.4M3946.8 503.8h4.4M3726.8 508.2h4.4M3832.4 508.2h4.4M3863.2 508.2h4.4M3867.6 508.2h4.4M3889.6 508.2h4.4M3911.6 508.2h4.4M3924.8 508.2h4.4M3814.8 512.6h4.4M3832.4 512.6h4.4M3951.2 512.6h4.4M3700.4 517.0h4.4M3722.4 517.0h4.4M3753.2 517.0h4.4M3845.6 517.0h4.4M3933.6 517.0h4.4M3951.2 517.0h4.4M3854.4 521.4h4.4M3889.6 521.4h4.4M3902.8 521.4h4.4M3960.0 521.4h4.4M3713.6 525.8h4.4M3722.4 525.8h4.4M3885.2 525.8h4.4M3894.0 525.8h4.4M3916.0 525.8h4.4M3933.6 525.8h4.4M3731.2 530.2h4.4M3748.8 530.2h4.4M3792.8 530.2h4.4M3814.8 530.2h4.4M3854.4 530.2h4.4M3806.0 534.6h4.4M3819.2 534.6h4.4M3832.4 534.6h4.4M3845.6 534.6h4.4M3872.0 534.6h4.4M3880.8 534.6h4.4M3973.2 534.6h4.4M3709.2 539.0h4.4M3726.8 539.0h4.4M3832.4 539.0h4.4M3836.8 539.0h4.4M3845.6 539.0h4.4M3850.0 539.0h4.4M3876.4 539.0h4.4M3920.4 539.0h4.4M3687.2 543.4h4.4M3704.8 543.4h4.4M3854.4 543.4h4.4M3757.6 547.8h4.4M3775.2 547.8h4.4M3823.6 547.8h4.4M3841.2 547.8h4.4M3682.8 552.2h4.4M3704.8 552.2h4.4M3726.8 552.2h4.4M3806.0 552.2h4.4M3876.4 552.2h4.4M3885.2 552.2h4.4M3898.4 552.2h4.4M3916.0 552.2h4.4M3938.0 552.2h4.4M3709.2 556.6h4.4M3726.8 556.6h4.4M3744.4 556.6h4.4M3797.2 556.6h4.4M3806.0 556.6h4.4M3810.4 556.6h4.4M3832.4 556.6h4.4M3863.2 556.6h4.4M3797.2 561.0h4.4M3806.0 561.0h4.4M3911.6 561.0h4.4M3726.8 565.4h4.4M3832.4 565.4h4.4M3691.6 569.8h4.4M3718.0 569.8h4.4M3748.8 569.8h4.4M3788.4 569.8h4.4M3867.6 569.8h4.4M3876.4 569.8h4.4M3678.4 574.2h4.4M3722.4 574.2h4.4M3740.0 574.2h4.4M3775.2 574.2h4.4M3797.2 574.2h4.4M3872.0 574.2h4.4M3696.0 578.6h4.4M3779.6 578.6h4.4M3740.0 583.0h4.4M3748.8 583.0h4.4M3753.2 583.0h4.4M3775.2 583.0h4.4M3784.0 583.0h4.4M3898.4 583.0h4.4M3762.0 587.4h4.4M3766.4 587.4h4.4M3779.6 587.4h4.4M3801.6 587.4h4.4M3889.6 587.4h4.4M3726.8 591.8h4.4M3735.6 591.8h4.4M3880.8 591.8h4.4M3757.6 596.2h4.4M3766.4 596.2h4.4M3797.2 596.2h4.4M3806.0 596.2h4.4M3814.8 596.2h4.4M3678.4 600.6h4.4M3748.8 600.6h4.4M3731.2 605.0h4.4M3735.6 605.0h4.4M3762.0 605.0h4.4M3797.2 609.4h4.4M3801.6 609.4h4.4M3700.4 613.8h4.4M3718.0 613.8h4.4M3748.8 622.6h4.4M3766.4 622.6h4.4M3779.6 622.6h4.4M3757.6 627.0h4.4M3806.0 627.0h4.4M3779.6 631.4h4.4M3801.6 635.8h4.4M3713.6 640.2h4.4M3718.0 640.2h4.4M3722.4 640.2h4.4M3797.2 640.2h4.4M3744.4 644.6h4.4M3819.2 653.4h4.4M3753.2 657.8h4.4M3766.4 657.8h4.4M3806.0 657.8h4.4M3766.4 693.0h4.4M3757.6 697.4h4.4M3832.4 697.4h4.4M3775.2 701.8h4.4M3801.6 715.0h4.4M3713.6 732.6h4.4M3784.0 737.0h4.4" stroke="#000" stroke-opacity="0.85" stroke-width="4.4" fill="none"/>
<path d="M3854.4 327.8h4.4M3955.6 336.6h4.4M3999.6 336.6h4.4M3964.4 341.0h4.4M3968.8 341.0h4.4M3977.6 341.0h4.4M3982.0 341.0h4.4M3986.4 341.0h4.4M3995.2 341.0h4.4M3999.6 341.0h4.4M4008.4 341.0h4.4M3973.2 345.4h4.4M3982.0 345.4h4.4M3986.4 345.4h4.4M3995.2 345.4h4.4M4017.2 345.4h4.4M3828.0 349.8h4.4M3968.8 349.8h4.4M3977.6 349.8h4.4M3995.2 349.8h4.4M4008.4 349.8h4.4M4021.6 349.8h4.4M4026.0 349.8h4.4M3968.8 354.2h4.4M3977.6 354.2h4.4M4034.8 367.4h4.4M3982.0 371.8h4.4M4026.0 371.8h4.4M4021.6 380.6h4.4M3955.6 385.0h4.4M3990.8 385.0h4.4M3968.8 389.4h4.4M4008.4 389.4h4.4M4012.8 389.4h4.4M4026.0 389.4h4.4M3973.2 393.8h4.4M3951.2 398.2h4.4M4012.8 398.2h4.4M3955.6 402.6h4.4M3960.0 402.6h4.4M3986.4 402.6h4.4M3911.6 407.0h4.4M3960.0 407.0h4.4M3973.2 407.0h4.4M4012.8 407.0h4.4M4017.2 407.0h4.4M3968.8 411.4h4.4M3973.2 411.4h4.4M3977.6 411.4h4.4M3995.2 411.4h4.4M3999.6 411.4h4.4M3955.6 415.8h4.4M3964.4 415.8h4.4M3968.8 415.8h4.4M3982.0 415.8h4.4M4039.2 415.8h4.4M3898.4 420.2h4.4M3920.4 420.2h4.4M3929.2 420.2h4.4M3938.0 420.2h4.4M3960.0 420.2h4.4M3982.0 420.2h4.4M3995.2 420.2h4.4M3911.6 424.6h4.4M3929.2 424.6h4.4M3938.0 424.6h4.4M3946.8 424.6h4.4M3982.0 424.6h4.4M3885.2 429.0h4.4M3977.6 429.0h4.4M4008.4 429.0h4.4M3942.4 433.4h4.4M3946.8 433.4h4.4M3973.2 433.4h4.4M3784.0 437.8h4.4M3933.6 437.8h4.4M3964.4 437.8h4.4M3814.8 442.2h4.4M3911.6 442.2h4.4M3924.8 442.2h4.4M3951.2 442.2h4.4M3973.2 442.2h4.4M3784.0 446.6h4.4M3797.2 446.6h4.4M3880.8 446.6h4.4M3902.8 446.6h4.4M3929.2 446.6h4.4M3955.6 446.6h4.4M3968.8 446.6h4.4M4008.4 446.6h4.4M3779.6 451.0h4.4M3788.4 451.0h4.4M3792.8 451.0h4.4M3863.2 451.0h4.4M3977.6 451.0h4.4M3982.0 451.0h4.4M3779.6 455.4h4.4M3797.2 455.4h4.4M3801.6 455.4h4.4M3806.0 455.4h4.4M3832.4 455.4h4.4M3880.8 455.4h4.4M3920.4 455.4h4.4M3933.6 455.4h4.4M3999.6 455.4h4.4M4017.2 455.4h4.4M3784.0 459.8h4.4M3788.4 459.8h4.4M3810.4 459.8h4.4M3880.8 459.8h4.4M3885.2 459.8h4.4M3902.8 459.8h4.4M3920.4 459.8h4.4M3929.2 459.8h4.4M3942.4 459.8h4.4M3982.0 459.8h4.4M3775.2 464.2h4.4M3784.0 464.2h4.4M3788.4 464.2h4.4M3792.8 464.2h4.4M3797.2 464.2h4.4M3810.4 464.2h4.4M3885.2 464.2h4.4M3894.0 464.2h4.4M3902.8 464.2h4.4M3911.6 464.2h4.4M3916.0 464.2h4.4M3951.2 464.2h4.4M3748.8 468.6h4.4M3770.8 468.6h4.4M3775.2 468.6h4.4M3779.6 468.6h4.4M3784.0 468.6h4.4M3788.4 468.6h4.4M3792.8 468.6h4.4M3797.2 468.6h4.4M3801.6 468.6h4.4M3806.0 468.6h4.4M3810.4 468.6h4.4M3814.8 468.6h4.4M3819.2 468.6h4.4M3823.6 468.6h4.4M3867.6 468.6h4.4M3920.4 468.6h4.4M3933.6 468.6h4.4M3946.8 468.6h4.4M3955.6 468.6h4.4M3986.4 468.6h4.4M3990.8 468.6h4.4M3660.8 473.0h4.4M3753.2 473.0h4.4M3762.0 473.0h4.4M3766.4 473.0h4.4M3770.8 473.0h4.4M3775.2 473.0h4.4M3779.6 473.0h4.4M3784.0 473.0h4.4M3788.4 473.0h4.4M3792.8 473.0h4.4M3797.2 473.0h4.4M3801.6 473.0h4.4M3806.0 473.0h4.4M3810.4 473.0h4.4M3814.8 473.0h4.4M3823.6 473.0h4.4M3841.2 473.0h4.4M3854.4 473.0h4.4M3867.6 473.0h4.4M3872.0 473.0h4.4M3911.6 473.0h4.4M3995.2 473.0h4.4M3757.6 477.4h4.4M3762.0 477.4h4.4M3766.4 477.4h4.4M3770.8 477.4h4.4M3775.2 477.4h4.4M3779.6 477.4h4.4M3784.0 477.4h4.4M3788.4 477.4h4.4M3792.8 477.4h4.4M3797.2 477.4h4.4M3801.6 477.4h4.4M3806.0 477.4h4.4M3810.4 477.4h4.4M3828.0 477.4h4.4M3880.8 477.4h4.4M3907.2 477.4h4.4M3938.0 477.4h4.4M3955.6 477.4h4.4M3986.4 477.4h4.4M3744.4 481.8h4.4M3753.2 481.8h4.4M3757.6 481.8h4.4M3762.0 481.8h4.4M3766.4 481.8h4.4M3770.8 481.8h4.4M3775.2 481.8h4.4M3779.6 481.8h4.4M3784.0 481.8h4.4M3788.4 481.8h4.4M3792.8 481.8h4.4M3797.2 481.8h4.4M3801.6 481.8h4.4M3806.0 481.8h4.4M3810.4 481.8h4.4M3814.8 481.8h4.4M3819.2 481.8h4.4M3823.6 481.8h4.4M3828.0 481.8h4.4M3836.8 481.8h4.4M3841.2 481.8h4.4M3845.6 481.8h4.4M3854.4 481.8h4.4M3898.4 481.8h4.4M3990.8 481.8h4.4M3757.6 486.2h4.4M3762.0 486.2h4.4M3766.4 486.2h4.4M3770.8 486.2h4.4M3775.2 486.2h4.4M3779.6 486.2h4.4M3792.8 486.2h4.4M3797.2 486.2h4.4M3801.6 486.2h4.4M3806.0 486.2h4.4M3810.4 486.2h4.4M3814.8 486.2h4.4M3819.2 486.2h4.4M3823.6 486.2h4.4M3907.2 486.2h4.4M3911.6 486.2h4.4M3929.2 486.2h4.4M3731.2 490.6h4.4M3748.8 490.6h4.4M3753.2 490.6h4.4M3757.6 490.6h4.4M3762.0 490.6h4.4M3766.4 490.6h4.4M3770.8 490.6h4.4M3801.6 490.6h4.4M3806.0 490.6h4.4M3810.4 490.6h4.4M3814.8 490.6h4.4M3819.2 490.6h4.4M3823.6 490.6h4.4M3828.0 490.6h4.4M3832.4 490.6h4.4M3841.2 490.6h4.4M3854.4 490.6h4.4M3876.4 490.6h4.4M3911.6 490.6h4.4M3938.0 490.6h4.4M3990.8 490.6h4.4M3744.4 495.0h4.4M3748.8 495.0h4.4M3753.2 495.0h4.4M3757.6 495.0h4.4M3762.0 495.0h4.4M3766.4 495.0h4.4M3801.6 495.0h4.4M3806.0 495.0h4.4M3810.4 495.0h4.4M3814.8 495.0h4.4M3819.2 495.0h4.4M3823.6 495.0h4.4M3828.0 495.0h4.4M3850.0 495.0h4.4M3894.0 495.0h4.4M3731.2 499.4h4.4M3740.0 499.4h4.4M3744.4 499.4h4.4M3748.8 499.4h4.4M3753.2 499.4h4.4M3757.6 499.4h4.4M3762.0 499.4h4.4M3806.0 499.4h4.4M3810.4 499.4h4.4M3814.8 499.4h4.4M3819.2 499.4h4.4M3823.6 499.4h4.4M3836.8 499.4h4.4M3889.6 499.4h4.4M3894.0 499.4h4.4M3907.2 499.4h4.4M3960.0 499.4h4.4M3740.0 503.8h4.4M3744.4 503.8h4.4M3748.8 503.8h4.4M3753.2 503.8h4.4M3757.6 503.8h4.4M3806.0 503.8h4.4M3810.4 503.8h4.4M3814.8 503.8h4.4M3819.2 503.8h4.4M3836.8 503.8h4.4M3902.8 503.8h4.4M3916.0 503.8h4.4M3731.2 508.2h4.4M3740.0 508.2h4.4M3744.4 508.2h4.4M3748.8 508.2h4.4M3753.2 508.2h4.4M3806.0 508.2h4.4M3810.4 508.2h4.4M3814.8 508.2h4.4M3819.2 508.2h4.4M3823.6 508.2h4.4M3828.0 508.2h4.4M3885.2 508.2h4.4M3946.8 508.2h4.4M3731.2 512.6h4.4M3735.6 512.6h4.4M3740.0 512.6h4.4M3744.4 512.6h4.4M3748.8 512.6h4.4M3753.2 512.6h4.4M3806.0 512.6h4.4M3810.4 512.6h4.4M3819.2 512.6h4.4M3823.6 512.6h4.4M3872.0 512.6h4.4M3885.2 512.6h4.4M3889.6 512.6h4.4M3718.0 517.0h4.4M3735.6 517.0h4.4M3740.0 517.0h4.4M3744.4 517.0h4.4M3748.8 517.0h4.4M3801.6 517.0h4.4M3806.0 517.0h4.4M3810.4 517.0h4.4M3814.8 517.0h4.4M3819.2 517.0h4.4M3823.6 517.0h4.4M3832.4 517.0h4.4M3836.8 517.0h4.4M3850.0 517.0h4.4M3880.8 517.0h4.4M3885.2 517.0h4.4M3894.0 517.0h4.4M3898.4 517.0h4.4M3916.0 517.0h4.4M3920.4 517.0h4.4M3726.8 521.4h4.4M3731.2 521.4h4.4M3735.6 521.4h4.4M3740.0 521.4h4.4M3744.4 521.4h4.4M3748.8 521.4h4.4M3801.6 521.4h4.4M3806.0 521.4h4.4M3814.8 521.4h4.4M3819.2 521.4h4.4M3894.0 521.4h4.4M3731.2 525.8h4.4M3735.6 525.8h4.4M3740.0 525.8h4.4M3744.4 525.8h4.4M3748.8 525.8h4.4M3797.2 525.8h4.4M3801.6 525.8h4.4M3806.0 525.8h4.4M3810.4 525.8h4.4M3814.8 525.8h4.4M3819.2 525.8h4.4M3823.6 525.8h4.4M3902.8 525.8h4.4M3718.0 530.2h4.4M3726.8 530.2h4.4M3735.6 530.2h4.4M3740.0 530.2h4.4M3744.4 530.2h4.4M3797.2 530.2h4.4M3801.6 530.2h4.4M3806.0 530.2h4.4M3810.4 530.2h4.4M3819.2 530.2h4.4M3911.6 530.2h4.4M3722.4 534.6h4.4M3726.8 534.6h4.4M3731.2 534.6h4.4M3735.6 534.6h4.4M3740.0 534.6h4.4M3744.4 534.6h4.4M3748.8 534.6h4.4M3792.8 534.6h4.4M3797.2 534.6h4.4M3801.6 534.6h4.4M3810.4 534.6h4.4M3814.8 534.6h4.4M3823.6 534.6h4.4M3828.0 534.6h4.4M3731.2 539.0h4.4M3735.6 539.0h4.4M3740.0 539.0h4.4M3744.4 539.0h4.4M3748.8 539.0h4.4M3788.4 539.0h4.4M3792.8 539.0h4.4M3797.2 539.0h4.4M3801.6 539.0h4.4M3806.0 539.0h4.4M3810.4 539.0h4.4M3814.8 539.0h4.4M3819.2 539.0h4.4M3718.0 543.4h4.4M3731.2 543.4h4.4M3735.6 543.4h4.4M3740.0 543.4h4.4M3744.4 543.4h4.4M3748.8 543.4h4.4M3784.0 543.4h4.4M3788.4 543.4h4.4M3792.8 543.4h4.4M3797.2 543.4h4.4M3801.6 543.4h4.4M3806.0 543.4h4.4M3810.4 543.4h4.4M3814.8 543.4h4.4M3872.0 543.4h4.4M3722.4 547.8h4.4M3726.8 547.8h4.4M3731.2 547.8h4.4M3735.6 547.8h4.4M3740.0 547.8h4.4M3744.4 547.8h4.4M3748.8 547.8h4.4M3753.2 547.8h4.4M3770.8 547.8h4.4M3779.6 547.8h4.4M3784.0 547.8h4.4M3788.4 547.8h4.4M3792.8 547.8h4.4M3797.2 547.8h4.4M3801.6 547.8h4.4M3806.0 547.8h4.4M3810.4 547.8h4.4M3718.0 552.2h4.4M3722.4 552.2h4.4M3731.2 552.2h4.4M3735.6 552.2h4.4M3740.0 552.2h4.4M3744.4 552.2h4.4M3748.8 552.2h4.4M3753.2 552.2h4.4M3757.6 552.2h4.4M3762.0 552.2h4.4M3766.4 552.2h4.4M3770.8 552.2h4.4M3775.2 552.2h4.4M3779.6 552.2h4.4M3784.0 552.2h4.4M3788.4 552.2h4.4M3792.8 552.2h4.4M3797.2 552.2h4.4M3801.6 552.2h4.4M3828.0 552.2h4.4M3713.6 556.6h4.4M3722.4 556.6h4.4M3731.2 556.6h4.4M3740.0 556.6h4.4M3748.8 556.6h4.4M3753.2 556.6h4.4M3757.6 556.6h4.4M3762.0 556.6h4.4M3766.4 556.6h4.4M3770.8 556.6h4.4M3775.2 556.6h4.4M3779.6 556.6h4.4M3784.0 556.6h4.4M3788.4 556.6h4.4M3792.8 556.6h4.4M3801.6 556.6h4.4M3726.8 561.0h4.4M3731.2 561.0h4.4M3740.0 561.0h4.4M3744.4 561.0h4.4M3748.8 561.0h4.4M3753.2 561.0h4.4M3757.6 561.0h4.4M3762.0 561.0h4.4M3766.4 561.0h4.4M3770.8 561.0h4.4M3775.2 561.0h4.4M3779.6 561.0h4.4M3784.0 561.0h4.4M3788.4 561.0h4.4M3792.8 561.0h4.4M3801.6 561.0h4.4M3819.2 561.0h4.4M3722.4 565.4h4.4M3731.2 565.4h4.4M3735.6 565.4h4.4M3740.0 565.4h4.4M3744.4 565.4h4.4M3748.8 565.4h4.4M3753.2 565.4h4.4M3757.6 565.4h4.4M3766.4 565.4h4.4M3770.8 565.4h4.4M3784.0 565.4h4.4M3788.4 565.4h4.4M3726.8 569.8h4.4M3731.2 569.8h4.4M3744.4 569.8h4.4M3753.2 569.8h4.4M3757.6 569.8h4.4M3766.4 569.8h4.4M3770.8 569.8h4.4M3775.2 569.8h4.4M3779.6 569.8h4.4M3792.8 569.8h4.4M3735.6 574.2h4.4M3744.4 574.2h4.4M3748.8 574.2h4.4M3753.2 574.2h4.4M3757.6 574.2h4.4M3762.0 574.2h4.4M3766.4 574.2h4.4M3770.8 574.2h4.4M3779.6 574.2h4.4M3784.0 574.2h4.4M3788.4 574.2h4.4M3713.6 578.6h4.4M3735.6 578.6h4.4M3740.0 578.6h4.4M3748.8 578.6h4.4M3753.2 578.6h4.4M3766.4 578.6h4.4M3775.2 578.6h4.4M3731.2 583.0h4.4M3744.4 583.0h4.4M3766.4 583.0h4.4M3770.8 591.8h4.4M3726.8 596.2h4.4M3744.4 596.2h4.4M3753.2 596.2h4.4" stroke="#000" stroke-opacity="1" stroke-width="4.4" fill="none"/>
<path d="M3799.7 487.1L3804.6 489.4L3808.8 493.4L3810.9 499.7L3810.2 507.8L3808.8 516.2L3802.0 524.2L3797.3 531.5L3793.6 540.7L3786.1 545.0L3779.4 551.4L3771.6 557.8L3766.1 553.1L3759.2 554.7L3756.4 548.8L3750.7 547.3L3746.0 543.6L3745.7 536.0L3743.2 529.0L3746.3 519.8L3754.1 511.8L3756.6 503.0L3763.0 496.1L3770.0 491.5L3776.6 483.9L3783.6 483.2L3789.9 482.7L3797.2 480.4Z" fill="#000"/>
</g>
<path d="M3492 118H4119V745H3492ZM3875.5 118V745M3492 361H4119" stroke="#000" stroke-opacity="0.3" stroke-width="6.5" fill="none"/>
<path d="M3492 118H4119V745H3492ZM3875.5 118V745M3492 361H4119" stroke="#000" stroke-width="3.6" fill="none"/>
<path d="M3488.8 124V739M3498 748.2H4113" stroke="#000" stroke-opacity="0.38" stroke-width="3" fill="none"/>
<rect x="3486" y="112" width="12" height="12" fill="#000"/>
<rect x="4113" y="112" width="12" height="12" fill="#000"/>
<rect x="3486" y="739" width="12" height="12" fill="#000"/>
<rect x="4113" y="739" width="12" height="12" fill="#000"/>
<path d="M3479 629H3492M3479 515H3492M3479 399H3492M3479 282H3492M3479 167H3492M3607 745V757M3721 745V757M3837 745V757M3953 745V757M4068 745V757" stroke="#111" stroke-width="3.5" fill="none"/>
<path d="M3486 710.1H3492M3526.6 745v6M3486 689.7H3492M3546.9 745v6M3486 675.2H3492M3561.2 745v6M3483 663.9H3492M3572.4 745v9M3486 654.7H3492M3581.5 745v6M3486 647.0H3492M3589.2 745v6M3486 640.2H3492M3595.9 745v6M3486 634.3H3492M3601.7 745v6M3486 594.7H3492M3641.3 745v6M3486 574.6H3492M3661.4 745v6M3486 560.4H3492M3675.6 745v6M3483 549.3H3492M3686.7 745v9M3486 540.3H3492M3695.7 745v6M3486 532.7H3492M3703.3 745v6M3486 526.0H3492M3710.0 745v6M3486 520.2H3492M3715.8 745v6M3486 480.1H3492M3755.9 745v6M3486 459.7H3492M3776.3 745v6M3486 445.2H3492M3790.8 745v6M3483 433.9H3492M3802.1 745v9M3486 424.7H3492M3811.3 745v6M3486 417.0H3492M3819.0 745v6M3486 410.2H3492M3825.8 745v6M3486 404.3H3492M3831.7 745v6M3486 363.8H3492M3871.9 745v6M3486 343.2H3492M3892.3 745v6M3486 328.6H3492M3906.8 745v6M3483 317.2H3492M3918.1 745v9M3486 308.0H3492M3927.3 745v6M3486 300.1H3492M3935.0 745v6M3486 293.3H3492M3941.8 745v6M3486 287.4H3492M3947.7 745v6M3486 247.4H3492M3987.6 745v6M3486 227.1H3492M4007.9 745v6M3486 212.8H3492M4022.2 745v6M3483 201.6H3492M4033.4 745v9M3486 192.5H3492M4042.5 745v6M3486 184.8H3492M4050.2 745v6M3486 178.1H3492M4056.9 745v6M3486 172.3H3492M4062.7 745v6" stroke="#333" stroke-opacity="0.55" stroke-width="2.5" fill="none"/>
<text transform="translate(3388.43,741.15) scale(0.9932,1)" font-size="45.86" stroke="#fff" stroke-width="0.3">10</text>
<text transform="translate(3439.36,724.80) scale(0.9980,1)" font-size="26.86">0</text>
<text transform="translate(3456.43,798.15) scale(0.9932,1)" font-size="45.86" stroke="#fff" stroke-width="0.3">10</text>
<text transform="translate(3507.36,781.80) scale(0.9980,1)" font-size="26.86">0</text>
<text transform="translate(3388.43,629.15) scale(0.9932,1)" font-size="45.86" stroke="#fff" stroke-width="0.3">10</text>
<text transform="translate(3438.66,612.80) scale(0.8015,1)" font-size="27.25">1</text>
<text transform="translate(3561.43,798.15) scale(0.9932,1)" font-size="45.86" stroke="#fff" stroke-width="0.3">10</text>
<text transform="translate(3611.66,781.80) scale(0.8015,1)" font-size="27.25">1</text>
<text transform="translate(3388.43,517.15) scale(0.9932,1)" font-size="45.86" stroke="#fff" stroke-width="0.3">10</text>
<text transform="translate(3438.89,500.80) scale(1.0523,1)" font-size="26.86">2</text>
<text transform="translate(3672.43,798.15) scale(0.9932,1)" font-size="45.86" stroke="#fff" stroke-width="0.3">10</text>
<text transform="translate(3722.89,781.80) scale(1.0523,1)" font-size="26.86">2</text>
<text transform="translate(3388.43,405.15) scale(0.9932,1)" font-size="45.86" stroke="#fff" stroke-width="0.3">10</text>
<text transform="translate(3439.35,388.80) scale(1.0084,1)" font-size="26.86">3</text>
<text transform="translate(3783.43,798.15) scale(0.9932,1)" font-size="45.86" stroke="#fff" stroke-width="0.3">10</text>
<text transform="translate(3834.35,781.80) scale(1.0084,1)" font-size="26.86">3</text>
<text transform="translate(3388.43,293.15) scale(0.9932,1)" font-size="45.86" stroke="#fff" stroke-width="0.3">10</text>
<text transform="translate(3439.79,276.80) scale(0.9355,1)" font-size="27.25">4</text>
<text transform="translate(3894.43,798.15) scale(0.9932,1)" font-size="45.86" stroke="#fff" stroke-width="0.3">10</text>
<text transform="translate(3945.79,781.80) scale(0.9355,1)" font-size="27.25">4</text>
<text transform="translate(3388.43,181.15) scale(0.9932,1)" font-size="45.86" stroke="#fff" stroke-width="0.3">10</text>
<text transform="translate(3439.21,164.80) scale(1.0045,1)" font-size="27.25">5</text>
<text transform="translate(4005.43,798.15) scale(0.9932,1)" font-size="45.86" stroke="#fff" stroke-width="0.3">10</text>
<text transform="translate(4056.21,781.80) scale(1.0045,1)" font-size="27.25">5</text>
<text transform="translate(3507.9,190) scale(0.96,1)" font-size="46.38" stroke="#fff" stroke-width="0.3">Q1</text>
<text transform="translate(3507.9,245) scale(0.97,1)" font-size="46.38" stroke="#fff" stroke-width="0.3">0.049</text>
<text transform="translate(3956.9,190) scale(0.96,1)" font-size="46.38" stroke="#fff" stroke-width="0.3">Q2</text>
<text transform="translate(3956.9,245) scale(0.97,1)" font-size="46.38" stroke="#fff" stroke-width="0.3">12.9</text>
<text transform="translate(3507.9,637) scale(0.96,1)" font-size="46.38" stroke="#fff" stroke-width="0.3">Q4</text>
<text transform="translate(3507.9,692) scale(0.97,1)" font-size="46.38" stroke="#fff" stroke-width="0.3">77.2</text>
<text transform="translate(3956.9,637) scale(0.96,1)" font-size="46.38" stroke="#fff" stroke-width="0.3">Q3</text>
<text transform="translate(3956.9,692) scale(0.97,1)" font-size="46.38" stroke="#fff" stroke-width="0.3">9.83</text>
<text transform="translate(3571.37,93.15) scale(0.9294,1)" font-size="46.81" stroke="#fff" stroke-width="0.3" xml:space="preserve"><tspan>H</tspan><tspan font-size="26.21" dy="16.7" stroke-width="0.2">2</tspan><tspan dy="-16.7">O</tspan><tspan font-size="26.21" dy="16.7" stroke-width="0.2">2</tspan><tspan dy="-16.7"> + RASi + AKTa</tspan></text>
</g>
<text transform="translate(0.53,57.00) scale(0.9060,1)" font-size="81.16" font-weight="bold">A</text>
<text transform="translate(1228.88,927.00) scale(0.7956,1)" font-size="79.71" font-weight="bold">B</text>
<path d="M132 956.4H1146.4V1579.7H132M149.8 956.4V1579.7" stroke="#000" stroke-width="2.6" fill="none"/>
<path d="M132 1113H149.8M132 1268H149.8M132 1424H149.8M249.6 1579.7V1597.2M448 1579.7V1597.2M645.6 1579.7V1597.2M845 1579.7V1597.2M1043.6 1579.7V1597.2" stroke="#000" stroke-width="2.6" fill="none"/>
<path d="M216.1 1427.6h67M249.6 1427.6V1432.8" stroke="#000" stroke-width="2.6" fill="none"/>
<rect x="181.9" y="1434.1" width="135.2" height="145.60000000000008" fill="#929292" stroke="#000" stroke-width="2.6"/>
<path d="M414.5 1173.6h67M448 1173.6V1188" stroke="#000" stroke-width="2.6" fill="none"/>
<rect x="380.3" y="1189.3" width="135.4" height="390.40000000000003" fill="#000" stroke="#000" stroke-width="2.6"/>
<path d="M612.1 1408h67M645.6 1408V1413.5" stroke="#000" stroke-width="2.6" fill="none"/>
<rect x="578.0999999999999" y="1414.8" width="135.00000000000003" height="164.90000000000003" fill="#fff" stroke="#000" stroke-width="2.6"/>
<path d="M811.5 1209.6h67M845 1209.6V1225.5" stroke="#000" stroke-width="2.6" fill="none"/>
<rect x="777.9" y="1226.8" width="135.19999999999996" height="352.90000000000003" fill="#d4d4d4" stroke="#000" stroke-width="2.6"/>
<path d="M1010.0999999999999 1082h67M1043.6 1082V1100.6" stroke="#000" stroke-width="2.6" fill="none"/>
<rect x="975.5" y="1101.8999999999999" width="135.19999999999996" height="477.8000000000001" fill="#4d4d4d" stroke="#000" stroke-width="2.6"/>
<text transform="translate(59.90,963.15) scale(1.0651,1)" font-size="44.71" stroke="#fff" stroke-width="0.3">40</text>
<text transform="translate(59.16,1121.15) scale(1.0805,1)" font-size="44.71" stroke="#fff" stroke-width="0.3">30</text>
<text transform="translate(58.40,1283.15) scale(1.0963,1)" font-size="44.71" stroke="#fff" stroke-width="0.3">20</text>
<text transform="translate(61.38,1440.15) scale(1.0343,1)" font-size="44.71" stroke="#fff" stroke-width="0.3">10</text>
<text transform="translate(85.17,1599.15) scale(1.0744,1)" font-size="44.71" stroke="#fff" stroke-width="0.3">0</text>
<path d="M1356 954.4H2370.8V1578H1356M1374.6 954.4V1578" stroke="#000" stroke-width="2.6" fill="none"/>
<path d="M1356 1163H1374.6M1356 1369H1374.6M1473.6 1578V1595.5M1672 1578V1595.5M1870 1578V1595.5M2069.6 1578V1595.5M2267.6 1578V1595.5" stroke="#000" stroke-width="2.6" fill="none"/>
<path d="M1440.1 1157.6h67M1473.6 1157.6V1160" stroke="#000" stroke-width="2.6" fill="none"/>
<rect x="1406.3" y="1161.3" width="135.4" height="416.7" fill="#929292" stroke="#000" stroke-width="2.6"/>
<path d="M1638.5 1385.5h67M1672 1385.5V1398.2" stroke="#000" stroke-width="2.6" fill="none"/>
<rect x="1603.8999999999999" y="1399.5" width="136.2000000000002" height="178.49999999999994" fill="#000" stroke="#000" stroke-width="2.6"/>
<path d="M1836.5 1069h67M1870 1069V1073.8" stroke="#000" stroke-width="2.6" fill="none"/>
<rect x="1802.3" y="1075.1" width="135.4" height="502.90000000000003" fill="#fff" stroke="#000" stroke-width="2.6"/>
<path d="M2036.1 1052h67M2069.6 1052V1068.6" stroke="#000" stroke-width="2.6" fill="none"/>
<rect x="2002.3" y="1069.8999999999999" width="135.4" height="508.1000000000001" fill="#d4d4d4" stroke="#000" stroke-width="2.6"/>
<path d="M2234.1 1408.3h67M2267.6 1408.3V1414.8" stroke="#000" stroke-width="2.6" fill="none"/>
<rect x="2200.3" y="1416.1" width="135.4" height="161.90000000000003" fill="#4d4d4d" stroke="#000" stroke-width="2.6"/>
<text transform="translate(1285.77,968.15) scale(0.9050,1)" font-size="45.36" stroke="#fff" stroke-width="0.3">1.5</text>
<text transform="translate(1285.67,1178.15) scale(0.9495,1)" font-size="44.71" stroke="#fff" stroke-width="0.3">1.0</text>
<text transform="translate(1281.27,1387.15) scale(1.0093,1)" font-size="44.71" stroke="#fff" stroke-width="0.3">0.5</text>
<text transform="translate(1317.10,1599.15) scale(1.1205,1)" font-size="44.71" stroke="#fff" stroke-width="0.3">0</text>
<text transform="translate(173.60,1654.15) scale(1.0087,1)" font-size="44.55" stroke="#000" stroke-width="1.7" stroke-linejoin="round" letter-spacing="1.4">Control</text>
<text transform="translate(402.43,1654.15) scale(0.9436,1)" font-size="45.36" stroke="#000" stroke-width="1.7" stroke-linejoin="round" letter-spacing="1.4" xml:space="preserve"><tspan>H</tspan><tspan font-size="25.40" dy="17.5" stroke-width="0.5">2</tspan><tspan dy="-17.5">O</tspan><tspan font-size="25.40" dy="17.5" stroke-width="0.5">2</tspan></text>
<text transform="translate(581.84,1654.15) scale(0.9946,1)" font-size="45.36" stroke="#000" stroke-width="1.7" stroke-linejoin="round" letter-spacing="1.4" xml:space="preserve"><tspan>H</tspan><tspan font-size="25.40" dy="17.5" stroke-width="0.5">2</tspan><tspan dy="-17.5">O</tspan><tspan font-size="25.40" dy="17.5" stroke-width="0.5">2</tspan><tspan dy="-17.5"> +</tspan></text>
<text transform="translate(603.72,1710.15) scale(0.9057,1)" font-size="44.55" stroke="#000" stroke-width="1.7" stroke-linejoin="round" letter-spacing="1.4">RASi</text>
<text transform="translate(775.78,1654.15) scale(0.9836,1)" font-size="45.36" stroke="#000" stroke-width="1.7" stroke-linejoin="round" letter-spacing="1.4" xml:space="preserve"><tspan>H</tspan><tspan font-size="25.40" dy="17.5" stroke-width="0.5">2</tspan><tspan dy="-17.5">O</tspan><tspan font-size="25.40" dy="17.5" stroke-width="0.5">2</tspan><tspan dy="-17.5"> +</tspan></text>
<text transform="translate(782.46,1710.15) scale(0.9515,1)" font-size="44.55" stroke="#000" stroke-width="1.7" stroke-linejoin="round" letter-spacing="1.4">RASi +</text>
<text transform="translate(798.85,1766.15) scale(0.9501,1)" font-size="44.55" stroke="#000" stroke-width="1.7" stroke-linejoin="round" letter-spacing="1.4">AKTi</text>
<text transform="translate(976.88,1654.15) scale(0.9836,1)" font-size="45.36" stroke="#000" stroke-width="1.7" stroke-linejoin="round" letter-spacing="1.4" xml:space="preserve"><tspan>H</tspan><tspan font-size="25.40" dy="17.5" stroke-width="0.5">2</tspan><tspan dy="-17.5">O</tspan><tspan font-size="25.40" dy="17.5" stroke-width="0.5">2</tspan><tspan dy="-17.5"> +</tspan></text>
<text transform="translate(978.08,1710.15) scale(0.9444,1)" font-size="44.55" stroke="#000" stroke-width="1.7" stroke-linejoin="round" letter-spacing="1.4">RASi +</text>
<text transform="translate(996.45,1766.15) scale(0.8687,1)" font-size="46.47" stroke="#000" stroke-width="1.7" stroke-linejoin="round" letter-spacing="1.4">AKTa</text>
<text transform="translate(1397.60,1654.15) scale(1.0087,1)" font-size="44.55" stroke="#000" stroke-width="1.7" stroke-linejoin="round" letter-spacing="1.4">Control</text>
<text transform="translate(1626.43,1654.15) scale(0.9436,1)" font-size="45.36" stroke="#000" stroke-width="1.7" stroke-linejoin="round" letter-spacing="1.4" xml:space="preserve"><tspan>H</tspan><tspan font-size="25.40" dy="17.5" stroke-width="0.5">2</tspan><tspan dy="-17.5">O</tspan><tspan font-size="25.40" dy="17.5" stroke-width="0.5">2</tspan></text>
<text transform="translate(1806.24,1654.15) scale(0.9946,1)" font-size="45.36" stroke="#000" stroke-width="1.7" stroke-linejoin="round" letter-spacing="1.4" xml:space="preserve"><tspan>H</tspan><tspan font-size="25.40" dy="17.5" stroke-width="0.5">2</tspan><tspan dy="-17.5">O</tspan><tspan font-size="25.40" dy="17.5" stroke-width="0.5">2</tspan><tspan dy="-17.5"> +</tspan></text>
<text transform="translate(1828.12,1710.15) scale(0.9057,1)" font-size="44.55" stroke="#000" stroke-width="1.7" stroke-linejoin="round" letter-spacing="1.4">RASi</text>
<text transform="translate(2000.38,1654.15) scale(0.9836,1)" font-size="45.36" stroke="#000" stroke-width="1.7" stroke-linejoin="round" letter-spacing="1.4" xml:space="preserve"><tspan>H</tspan><tspan font-size="25.40" dy="17.5" stroke-width="0.5">2</tspan><tspan dy="-17.5">O</tspan><tspan font-size="25.40" dy="17.5" stroke-width="0.5">2</tspan><tspan dy="-17.5"> +</tspan></text>
<text transform="translate(2007.06,1710.15) scale(0.9515,1)" font-size="44.55" stroke="#000" stroke-width="1.7" stroke-linejoin="round" letter-spacing="1.4">RASi +</text>
<text transform="translate(2023.45,1766.15) scale(0.9501,1)" font-size="44.55" stroke="#000" stroke-width="1.7" stroke-linejoin="round" letter-spacing="1.4">AKTi</text>
<text transform="translate(2200.88,1654.15) scale(0.9836,1)" font-size="45.36" stroke="#000" stroke-width="1.7" stroke-linejoin="round" letter-spacing="1.4" xml:space="preserve"><tspan>H</tspan><tspan font-size="25.40" dy="17.5" stroke-width="0.5">2</tspan><tspan dy="-17.5">O</tspan><tspan font-size="25.40" dy="17.5" stroke-width="0.5">2</tspan><tspan dy="-17.5"> +</tspan></text>
<text transform="translate(2202.08,1710.15) scale(0.9444,1)" font-size="44.55" stroke="#000" stroke-width="1.7" stroke-linejoin="round" letter-spacing="1.4">RASi +</text>
<text transform="translate(2220.45,1766.15) scale(0.8687,1)" font-size="46.47" stroke="#000" stroke-width="1.7" stroke-linejoin="round" letter-spacing="1.4">AKTa</text>
<text transform="translate(424.00,1179.64) scale(0.9615,1)" font-size="56.00" font-weight="bold">*<tspan dx="9.41">*</tspan></text>
<text transform="translate(821.00,1216.80) scale(1.0096,1)" font-size="53.33" font-weight="bold">*<tspan dx="8.96">*</tspan></text>
<text transform="translate(1019.00,1088.80) scale(1.0096,1)" font-size="53.33" font-weight="bold">*<tspan dx="8.96">*</tspan></text>
<text transform="translate(1648.00,1392.80) scale(1.0096,1)" font-size="53.33" font-weight="bold">*<tspan dx="8.96">*</tspan></text>
<text transform="translate(1844.00,1071.64) scale(0.9615,1)" font-size="56.00" font-weight="bold">*<tspan dx="10.45">*</tspan></text>
<text transform="translate(2045.00,1061.64) scale(0.9615,1)" font-size="56.00" font-weight="bold">*<tspan dx="10.45">*</tspan></text>
<text transform="translate(2243.00,1417.64) scale(0.9615,1)" font-size="56.00" font-weight="bold">*<tspan dx="10.45">*</tspan></text>
<text transform="translate(626.00,1394.00) scale(0.9315,1)" font-size="49.28" stroke="#000" stroke-width="0.7">##</text>
<text transform="translate(1035.00,1041.00) scale(0.9507,1)" font-size="49.28" stroke="#000" stroke-width="0.7">#</text>
<text transform="translate(1845.00,1015.00) scale(0.9132,1)" font-size="49.28" stroke="#000" stroke-width="0.7">##</text>
<text transform="translate(2051.00,1007.00) scale(0.8949,1)" font-size="49.28" stroke="#000" stroke-width="0.7">##</text>
<text transform="translate(36.90,1456.11) rotate(-90) scale(0.9042,1)" font-size="48.86" stroke="#000" stroke-width="1.4" stroke-linejoin="round" letter-spacing="1.4">Cell apoptosis (%)</text>
<text transform="translate(1259.80,1429.48) rotate(-90) scale(0.9050,1)" font-size="48.29" stroke="#000" stroke-width="1.4" stroke-linejoin="round" letter-spacing="1.4">Cell viability (%)</text>
</svg>
</body></html>
